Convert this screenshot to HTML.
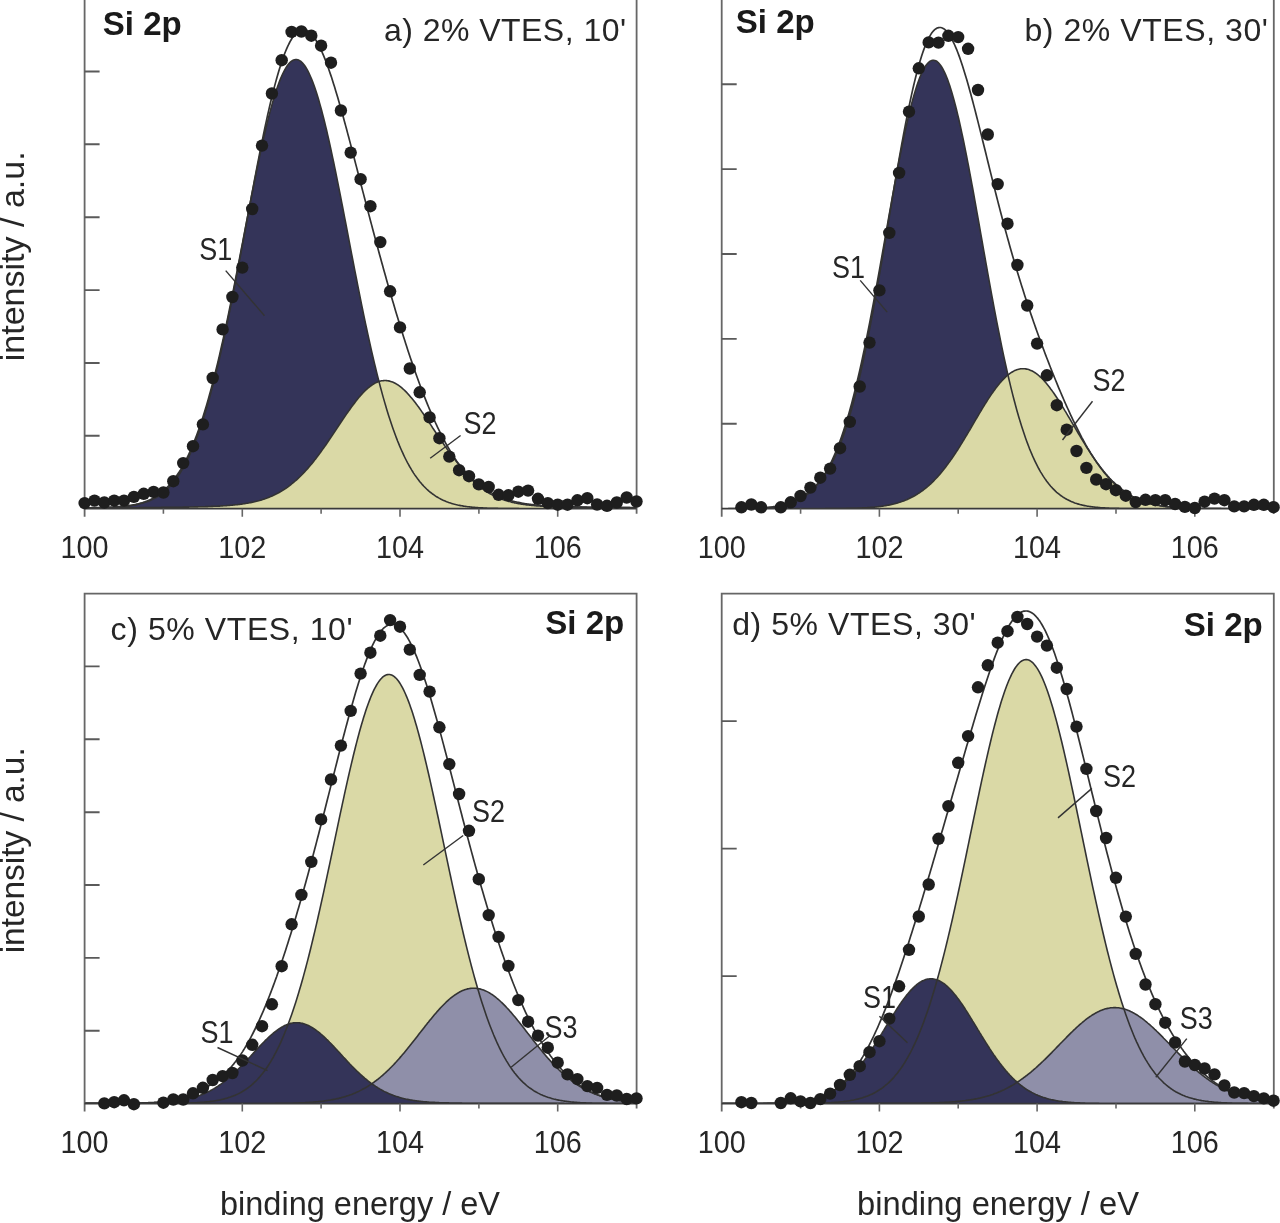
<!DOCTYPE html><html><head><meta charset="utf-8"><style>html,body{margin:0;padding:0;background:#fff;}svg{display:block;will-change:transform;}text{font-family:"Liberation Sans",sans-serif;}</style></head><body>
<div id="w">
<svg width="1280" height="1223" viewBox="0 0 1280 1223">
<rect width="1280" height="1223" fill="#fff"/>
<clipPath id="clipa"><rect x="84.6" y="-1.2" width="552" height="509.9"/></clipPath>
<g clip-path="url(#clipa)">
<path d="M84.6 508.7 L84.6 508.6 85.6 508.6 86.6 508.6 87.6 508.5 88.6 508.5 89.6 508.5 90.6 508.5 91.6 508.5 92.6 508.5 93.6 508.5 94.6 508.4 95.6 508.4 96.6 508.4 97.6 508.4 98.6 508.3 99.6 508.3 100.6 508.3 101.6 508.3 102.6 508.2 103.6 508.2 104.6 508.2 105.6 508.1 106.6 508.1 107.6 508 108.6 508 109.6 507.9 110.6 507.9 111.6 507.8 112.6 507.8 113.6 507.7 114.6 507.6 115.6 507.5 116.6 507.5 117.6 507.4 118.6 507.3 119.6 507.2 120.6 507.1 121.6 507 122.6 506.9 123.6 506.8 124.6 506.6 125.6 506.5 126.6 506.4 127.6 506.2 128.6 506.1 129.6 505.9 130.6 505.7 131.6 505.5 132.6 505.3 133.6 505.1 134.6 504.9 135.6 504.7 136.6 504.4 137.6 504.2 138.6 503.9 139.6 503.6 140.6 503.3 141.6 503 142.6 502.7 143.6 502.3 144.6 502 145.6 501.6 146.6 501.2 147.6 500.8 148.6 500.3 149.6 499.9 150.6 499.4 151.6 498.9 152.6 498.3 153.6 497.8 154.6 497.2 155.6 496.6 156.6 495.9 157.6 495.3 158.6 494.6 159.6 493.9 160.6 493.1 161.6 492.3 162.6 491.5 163.6 490.6 164.6 489.7 165.6 488.8 166.6 487.8 167.6 486.8 168.6 485.8 169.6 484.7 170.6 483.5 171.6 482.4 172.6 481.1 173.6 479.9 174.6 478.5 175.6 477.2 176.6 475.8 177.6 474.3 178.6 472.8 179.6 471.2 180.6 469.6 181.6 467.9 182.6 466.1 183.6 464.3 184.6 462.5 185.6 460.6 186.6 458.6 187.6 456.6 188.6 454.5 189.6 452.3 190.6 450.1 191.6 447.8 192.6 445.4 193.6 443 194.6 440.5 195.6 437.9 196.6 435.2 197.6 432.5 198.6 429.7 199.6 426.9 200.6 424 201.6 421 202.6 417.9 203.6 414.7 204.6 411.5 205.6 408.2 206.6 404.9 207.6 401.4 208.6 397.9 209.6 394.3 210.6 390.7 211.6 386.9 212.6 383.1 213.6 379.3 214.6 375.3 215.6 371.3 216.6 367.2 217.6 363.1 218.6 358.9 219.6 354.6 220.6 350.2 221.6 345.8 222.6 341.3 223.6 336.8 224.6 332.2 225.6 327.6 226.6 322.9 227.6 318.1 228.6 313.3 229.6 308.5 230.6 303.6 231.6 298.6 232.6 293.7 233.6 288.6 234.6 283.6 235.6 278.5 236.6 273.4 237.6 268.3 238.6 263.1 239.6 257.9 240.6 252.7 241.6 247.5 242.6 242.3 243.6 237.1 244.6 231.9 245.6 226.7 246.6 221.5 247.6 216.3 248.6 211.1 249.6 205.9 250.6 200.8 251.6 195.7 252.6 190.6 253.6 185.6 254.6 180.6 255.6 175.6 256.6 170.7 257.6 165.9 258.6 161.1 259.6 156.3 260.6 151.7 261.6 147.1 262.6 142.6 263.6 138.1 264.6 133.8 265.6 129.5 266.6 125.3 267.6 121.2 268.6 117.2 269.6 113.4 270.6 109.6 271.6 105.9 272.6 102.4 273.6 99 274.6 95.7 275.6 92.5 276.6 89.4 277.6 86.5 278.6 83.7 279.6 81.1 280.6 78.6 281.6 76.2 282.6 74 283.6 72 284.6 70.1 285.6 68.3 286.6 66.7 287.6 65.3 288.6 64 289.6 62.9 290.6 61.9 291.6 61.1 292.6 60.5 293.6 60 294.6 59.7 295.6 59.5 296.6 59.5 297.6 59.7 298.6 60.1 299.6 60.6 300.6 61.2 301.6 62.1 302.6 63.1 303.6 64.2 304.6 65.5 305.6 67 306.6 68.7 307.6 70.4 308.6 72.4 309.6 74.5 310.6 76.7 311.6 79.1 312.6 81.6 313.6 84.3 314.6 87.1 315.6 90 316.6 93.1 317.6 96.3 318.6 99.6 319.6 103.1 320.6 106.7 321.6 110.3 322.6 114.1 323.6 118 324.6 122 325.6 126.1 326.6 130.3 327.6 134.6 328.6 139 329.6 143.5 330.6 148 331.6 152.6 332.6 157.3 333.6 162 334.6 166.8 335.6 171.7 336.6 176.6 337.6 181.6 338.6 186.6 339.6 191.6 340.6 196.7 341.6 201.8 342.6 207 343.6 212.1 344.6 217.3 345.6 222.5 346.6 227.7 347.6 232.9 348.6 238.2 349.6 243.4 350.6 248.6 351.6 253.8 352.6 259 353.6 264.1 354.6 269.3 355.6 274.4 356.6 279.5 357.6 284.6 358.6 289.6 359.6 294.7 360.6 299.6 361.6 304.6 362.6 309.4 363.6 314.3 364.6 319.1 365.6 323.8 366.6 328.5 367.6 333.1 368.6 337.7 369.6 342.2 370.6 346.7 371.6 351.1 372.6 355.4 373.6 359.7 374.6 363.9 375.6 368 376.6 372.1 377.6 376.1 378.6 380 379.6 383.9 380.6 387.7 381.6 391.4 382.6 395.1 383.6 398.6 384.6 402.1 385.6 405.5 386.6 408.9 387.6 412.2 388.6 415.4 389.6 418.5 390.6 421.6 391.6 424.6 392.6 427.5 393.6 430.3 394.6 433.1 395.6 435.8 396.6 438.4 397.6 441 398.6 443.4 399.6 445.9 400.6 448.2 401.6 450.5 402.6 452.7 403.6 454.9 404.6 457 405.6 459 406.6 461 407.6 462.9 408.6 464.7 409.6 466.5 410.6 468.2 411.6 469.9 412.6 471.5 413.6 473.1 414.6 474.6 415.6 476 416.6 477.4 417.6 478.8 418.6 480.1 419.6 481.4 420.6 482.6 421.6 483.8 422.6 484.9 423.6 486 424.6 487 425.6 488 426.6 489 427.6 489.9 428.6 490.8 429.6 491.6 430.6 492.5 431.6 493.2 432.6 494 433.6 494.7 434.6 495.4 435.6 496.1 436.6 496.7 437.6 497.3 438.6 497.9 439.6 498.4 440.6 499 441.6 499.5 442.6 500 443.6 500.4 444.6 500.8 445.6 501.3 446.6 501.7 447.6 502 448.6 502.4 449.6 502.7 450.6 503.1 451.6 503.4 452.6 503.7 453.6 504 454.6 504.2 455.6 504.5 456.6 504.7 457.6 505 458.6 505.2 459.6 505.4 460.6 505.6 461.6 505.8 462.6 505.9 463.6 506.1 464.6 506.2 465.6 506.4 466.6 506.5 467.6 506.7 468.6 506.8 469.6 506.9 470.6 507 471.6 507.1 472.6 507.2 473.6 507.3 474.6 507.4 475.6 507.5 476.6 507.6 477.6 507.6 478.6 507.7 479.6 507.8 480.6 507.8 481.6 507.9 482.6 507.9 483.6 508 484.6 508 485.6 508.1 486.6 508.1 487.6 508.2 488.6 508.2 489.6 508.2 490.6 508.3 491.6 508.3 492.6 508.3 493.6 508.3 494.6 508.4 495.6 508.4 496.6 508.4 497.6 508.4 498.6 508.5 499.6 508.5 500.6 508.5 501.6 508.5 502.6 508.5 503.6 508.5 504.6 508.5 505.6 508.6 506.6 508.6 507.6 508.6 508.6 508.6 509.6 508.6 510.6 508.6 511.6 508.6 512.6 508.6 513.6 508.6 514.6 508.6 515.6 508.6 516.6 508.6 517.6 508.6 518.6 508.6 519.6 508.7 520.6 508.7 521.6 508.7 522.6 508.7 523.6 508.7 524.6 508.7 525.6 508.7 526.6 508.7 527.6 508.7 528.6 508.7 529.6 508.7 530.6 508.7 531.6 508.7 532.6 508.7 533.6 508.7 534.6 508.7 535.6 508.7 536.6 508.7 537.6 508.7 538.6 508.7 539.6 508.7 540.6 508.7 541.6 508.7 542.6 508.7 543.6 508.7 544.6 508.7 545.6 508.7 546.6 508.7 547.6 508.7 548.6 508.7 549.6 508.7 550.6 508.7 551.6 508.7 552.6 508.7 553.6 508.7 554.6 508.7 555.6 508.7 556.6 508.7 557.6 508.7 558.6 508.7 559.6 508.7 560.6 508.7 561.6 508.7 562.6 508.7 563.6 508.7 564.6 508.7 565.6 508.7 566.6 508.7 567.6 508.7 568.6 508.7 569.6 508.7 570.6 508.7 571.6 508.7 572.6 508.7 573.6 508.7 574.6 508.7 575.6 508.7 576.6 508.7 577.6 508.7 578.6 508.7 579.6 508.7 580.6 508.7 581.6 508.7 582.6 508.7 583.6 508.7 584.6 508.7 585.6 508.7 586.6 508.7 587.6 508.7 588.6 508.7 589.6 508.7 590.6 508.7 591.6 508.7 592.6 508.7 593.6 508.7 594.6 508.7 595.6 508.7 596.6 508.7 597.6 508.7 598.6 508.7 599.6 508.7 600.6 508.7 601.6 508.7 602.6 508.7 603.6 508.7 604.6 508.7 605.6 508.7 606.6 508.7 607.6 508.7 608.6 508.7 609.6 508.7 610.6 508.7 611.6 508.7 612.6 508.7 613.6 508.7 614.6 508.7 615.6 508.7 616.6 508.7 617.6 508.7 618.6 508.7 619.6 508.7 620.6 508.7 621.6 508.7 622.6 508.7 623.6 508.7 624.6 508.7 625.6 508.7 626.6 508.7 627.6 508.7 628.6 508.7 629.6 508.7 630.6 508.7 631.6 508.7 632.6 508.7 633.6 508.7 634.6 508.7 635.6 508.7 636.6 508.7 L636.6 508.7 Z" fill="#343459"/>
<path d="M84.6 508.7 L84.6 508 85.6 508 86.6 508 87.6 508 88.6 508 89.6 508 90.6 508 91.6 508 92.6 507.9 93.6 507.9 94.6 507.9 95.6 507.9 96.6 507.9 97.6 507.9 98.6 507.9 99.6 507.9 100.6 507.9 101.6 507.9 102.6 507.9 103.6 507.9 104.6 507.9 105.6 507.9 106.6 507.9 107.6 507.9 108.6 507.9 109.6 507.9 110.6 507.9 111.6 507.8 112.6 507.8 113.6 507.8 114.6 507.8 115.6 507.8 116.6 507.8 117.6 507.8 118.6 507.8 119.6 507.8 120.6 507.8 121.6 507.8 122.6 507.8 123.6 507.8 124.6 507.8 125.6 507.8 126.6 507.7 127.6 507.7 128.6 507.7 129.6 507.7 130.6 507.7 131.6 507.7 132.6 507.7 133.6 507.7 134.6 507.7 135.6 507.7 136.6 507.7 137.6 507.7 138.6 507.7 139.6 507.6 140.6 507.6 141.6 507.6 142.6 507.6 143.6 507.6 144.6 507.6 145.6 507.6 146.6 507.6 147.6 507.6 148.6 507.6 149.6 507.6 150.6 507.6 151.6 507.5 152.6 507.5 153.6 507.5 154.6 507.5 155.6 507.5 156.6 507.5 157.6 507.5 158.6 507.5 159.6 507.5 160.6 507.5 161.6 507.4 162.6 507.4 163.6 507.4 164.6 507.4 165.6 507.4 166.6 507.4 167.6 507.4 168.6 507.4 169.6 507.3 170.6 507.3 171.6 507.3 172.6 507.3 173.6 507.3 174.6 507.3 175.6 507.3 176.6 507.3 177.6 507.2 178.6 507.2 179.6 507.2 180.6 507.2 181.6 507.2 182.6 507.2 183.6 507.1 184.6 507.1 185.6 507.1 186.6 507.1 187.6 507.1 188.6 507.1 189.6 507 190.6 507 191.6 507 192.6 507 193.6 507 194.6 506.9 195.6 506.9 196.6 506.9 197.6 506.9 198.6 506.8 199.6 506.8 200.6 506.8 201.6 506.8 202.6 506.7 203.6 506.7 204.6 506.7 205.6 506.6 206.6 506.6 207.6 506.6 208.6 506.5 209.6 506.5 210.6 506.5 211.6 506.4 212.6 506.4 213.6 506.3 214.6 506.3 215.6 506.3 216.6 506.2 217.6 506.2 218.6 506.1 219.6 506.1 220.6 506 221.6 505.9 222.6 505.9 223.6 505.8 224.6 505.8 225.6 505.7 226.6 505.6 227.6 505.5 228.6 505.5 229.6 505.4 230.6 505.3 231.6 505.2 232.6 505.1 233.6 505 234.6 504.9 235.6 504.8 236.6 504.7 237.6 504.6 238.6 504.5 239.6 504.4 240.6 504.2 241.6 504.1 242.6 504 243.6 503.8 244.6 503.7 245.6 503.5 246.6 503.3 247.6 503.2 248.6 503 249.6 502.8 250.6 502.6 251.6 502.4 252.6 502.2 253.6 502 254.6 501.7 255.6 501.5 256.6 501.3 257.6 501 258.6 500.7 259.6 500.5 260.6 500.2 261.6 499.9 262.6 499.6 263.6 499.2 264.6 498.9 265.6 498.6 266.6 498.2 267.6 497.8 268.6 497.4 269.6 497 270.6 496.6 271.6 496.2 272.6 495.7 273.6 495.3 274.6 494.8 275.6 494.3 276.6 493.8 277.6 493.3 278.6 492.7 279.6 492.2 280.6 491.6 281.6 491 282.6 490.4 283.6 489.8 284.6 489.1 285.6 488.5 286.6 487.8 287.6 487.1 288.6 486.3 289.6 485.6 290.6 484.8 291.6 484 292.6 483.2 293.6 482.4 294.6 481.5 295.6 480.7 296.6 479.8 297.6 478.9 298.6 477.9 299.6 477 300.6 476 301.6 475 302.6 474 303.6 472.9 304.6 471.9 305.6 470.8 306.6 469.7 307.6 468.6 308.6 467.4 309.6 466.3 310.6 465.1 311.6 463.9 312.6 462.7 313.6 461.4 314.6 460.1 315.6 458.9 316.6 457.6 317.6 456.3 318.6 454.9 319.6 453.6 320.6 452.2 321.6 450.8 322.6 449.4 323.6 448 324.6 446.6 325.6 445.2 326.6 443.7 327.6 442.3 328.6 440.8 329.6 439.3 330.6 437.9 331.6 436.4 332.6 434.9 333.6 433.4 334.6 431.9 335.6 430.4 336.6 428.9 337.6 427.3 338.6 425.8 339.6 424.3 340.6 422.8 341.6 421.3 342.6 419.8 343.6 418.4 344.6 416.9 345.6 415.4 346.6 413.9 347.6 412.5 348.6 411.1 349.6 409.7 350.6 408.3 351.6 406.9 352.6 405.5 353.6 404.2 354.6 402.9 355.6 401.6 356.6 400.3 357.6 399 358.6 397.8 359.6 396.6 360.6 395.5 361.6 394.4 362.6 393.3 363.6 392.2 364.6 391.2 365.6 390.2 366.6 389.3 367.6 388.4 368.6 387.6 369.6 386.8 370.6 386 371.6 385.3 372.6 384.6 373.6 384 374.6 383.4 375.6 382.9 376.6 382.4 377.6 382 378.6 381.6 379.6 381.3 380.6 381 381.6 380.8 382.6 380.7 383.6 380.6 384.6 380.5 385.6 380.5 386.6 380.6 387.6 380.7 388.6 380.9 389.6 381.1 390.6 381.4 391.6 381.7 392.6 382.1 393.6 382.5 394.6 383 395.6 383.5 396.6 384.1 397.6 384.7 398.6 385.4 399.6 386.1 400.6 386.9 401.6 387.7 402.6 388.6 403.6 389.5 404.6 390.4 405.6 391.4 406.6 392.4 407.6 393.5 408.6 394.6 409.6 395.7 410.6 396.9 411.6 398.1 412.6 399.3 413.6 400.5 414.6 401.8 415.6 403.1 416.6 404.4 417.6 405.8 418.6 407.1 419.6 408.5 420.6 409.9 421.6 411.4 422.6 412.8 423.6 414.2 424.6 415.7 425.6 417.2 426.6 418.6 427.6 420.1 428.6 421.6 429.6 423.1 430.6 424.6 431.6 426.1 432.6 427.7 433.6 429.2 434.6 430.7 435.6 432.2 436.6 433.7 437.6 435.2 438.6 436.7 439.6 438.2 440.6 439.6 441.6 441.1 442.6 442.6 443.6 444 444.6 445.5 445.6 446.9 446.6 448.3 447.6 449.7 448.6 451.1 449.6 452.5 450.6 453.8 451.6 455.2 452.6 456.5 453.6 457.8 454.6 459.1 455.6 460.4 456.6 461.7 457.6 462.9 458.6 464.1 459.6 465.3 460.6 466.5 461.6 467.7 462.6 468.8 463.6 469.9 464.6 471 465.6 472.1 466.6 473.2 467.6 474.2 468.6 475.2 469.6 476.2 470.6 477.2 471.6 478.1 472.6 479.1 473.6 480 474.6 480.9 475.6 481.7 476.6 482.6 477.6 483.4 478.6 484.2 479.6 485 480.6 485.7 481.6 486.5 482.6 487.2 483.6 487.9 484.6 488.6 485.6 489.3 486.6 489.9 487.6 490.5 488.6 491.1 489.6 491.7 490.6 492.3 491.6 492.9 492.6 493.4 493.6 493.9 494.6 494.4 495.6 494.9 496.6 495.4 497.6 495.8 498.6 496.3 499.6 496.7 500.6 497.1 501.6 497.5 502.6 497.9 503.6 498.3 504.6 498.6 505.6 499 506.6 499.3 507.6 499.6 508.6 499.9 509.6 500.2 510.6 500.5 511.6 500.8 512.6 501.1 513.6 501.3 514.6 501.6 515.6 501.8 516.6 502 517.6 502.2 518.6 502.4 519.6 502.6 520.6 502.8 521.6 503 522.6 503.2 523.6 503.4 524.6 503.5 525.6 503.7 526.6 503.8 527.6 504 528.6 504.1 529.6 504.3 530.6 504.4 531.6 504.5 532.6 504.6 533.6 504.7 534.6 504.8 535.6 505 536.6 505 537.6 505.1 538.6 505.2 539.6 505.3 540.6 505.4 541.6 505.5 542.6 505.6 543.6 505.6 544.6 505.7 545.6 505.8 546.6 505.8 547.6 505.9 548.6 506 549.6 506 550.6 506.1 551.6 506.1 552.6 506.2 553.6 506.2 554.6 506.3 555.6 506.3 556.6 506.4 557.6 506.4 558.6 506.4 559.6 506.5 560.6 506.5 561.6 506.6 562.6 506.6 563.6 506.6 564.6 506.6 565.6 506.7 566.6 506.7 567.6 506.7 568.6 506.8 569.6 506.8 570.6 506.8 571.6 506.8 572.6 506.9 573.6 506.9 574.6 506.9 575.6 506.9 576.6 507 577.6 507 578.6 507 579.6 507 580.6 507 581.6 507.1 582.6 507.1 583.6 507.1 584.6 507.1 585.6 507.1 586.6 507.1 587.6 507.2 588.6 507.2 589.6 507.2 590.6 507.2 591.6 507.2 592.6 507.2 593.6 507.3 594.6 507.3 595.6 507.3 596.6 507.3 597.6 507.3 598.6 507.3 599.6 507.3 600.6 507.3 601.6 507.4 602.6 507.4 603.6 507.4 604.6 507.4 605.6 507.4 606.6 507.4 607.6 507.4 608.6 507.4 609.6 507.5 610.6 507.5 611.6 507.5 612.6 507.5 613.6 507.5 614.6 507.5 615.6 507.5 616.6 507.5 617.6 507.5 618.6 507.5 619.6 507.6 620.6 507.6 621.6 507.6 622.6 507.6 623.6 507.6 624.6 507.6 625.6 507.6 626.6 507.6 627.6 507.6 628.6 507.6 629.6 507.6 630.6 507.7 631.6 507.7 632.6 507.7 633.6 507.7 634.6 507.7 635.6 507.7 636.6 507.7 L636.6 508.7 Z" fill="#dad9a6"/>
<path d="M84.6 508.6 L85.6 508.6 L86.6 508.6 L87.6 508.5 L88.6 508.5 L89.6 508.5 L90.6 508.5 L91.6 508.5 L92.6 508.5 L93.6 508.5 L94.6 508.4 L95.6 508.4 L96.6 508.4 L97.6 508.4 L98.6 508.3 L99.6 508.3 L100.6 508.3 L101.6 508.3 L102.6 508.2 L103.6 508.2 L104.6 508.2 L105.6 508.1 L106.6 508.1 L107.6 508 L108.6 508 L109.6 507.9 L110.6 507.9 L111.6 507.8 L112.6 507.8 L113.6 507.7 L114.6 507.6 L115.6 507.5 L116.6 507.5 L117.6 507.4 L118.6 507.3 L119.6 507.2 L120.6 507.1 L121.6 507 L122.6 506.9 L123.6 506.8 L124.6 506.6 L125.6 506.5 L126.6 506.4 L127.6 506.2 L128.6 506.1 L129.6 505.9 L130.6 505.7 L131.6 505.5 L132.6 505.3 L133.6 505.1 L134.6 504.9 L135.6 504.7 L136.6 504.4 L137.6 504.2 L138.6 503.9 L139.6 503.6 L140.6 503.3 L141.6 503 L142.6 502.7 L143.6 502.3 L144.6 502 L145.6 501.6 L146.6 501.2 L147.6 500.8 L148.6 500.3 L149.6 499.9 L150.6 499.4 L151.6 498.9 L152.6 498.3 L153.6 497.8 L154.6 497.2 L155.6 496.6 L156.6 495.9 L157.6 495.3 L158.6 494.6 L159.6 493.9 L160.6 493.1 L161.6 492.3 L162.6 491.5 L163.6 490.6 L164.6 489.7 L165.6 488.8 L166.6 487.8 L167.6 486.8 L168.6 485.8 L169.6 484.7 L170.6 483.5 L171.6 482.4 L172.6 481.1 L173.6 479.9 L174.6 478.5 L175.6 477.2 L176.6 475.8 L177.6 474.3 L178.6 472.8 L179.6 471.2 L180.6 469.6 L181.6 467.9 L182.6 466.1 L183.6 464.3 L184.6 462.5 L185.6 460.6 L186.6 458.6 L187.6 456.6 L188.6 454.5 L189.6 452.3 L190.6 450.1 L191.6 447.8 L192.6 445.4 L193.6 443 L194.6 440.5 L195.6 437.9 L196.6 435.2 L197.6 432.5 L198.6 429.7 L199.6 426.9 L200.6 424 L201.6 421 L202.6 417.9 L203.6 414.7 L204.6 411.5 L205.6 408.2 L206.6 404.9 L207.6 401.4 L208.6 397.9 L209.6 394.3 L210.6 390.7 L211.6 386.9 L212.6 383.1 L213.6 379.3 L214.6 375.3 L215.6 371.3 L216.6 367.2 L217.6 363.1 L218.6 358.9 L219.6 354.6 L220.6 350.2 L221.6 345.8 L222.6 341.3 L223.6 336.8 L224.6 332.2 L225.6 327.6 L226.6 322.9 L227.6 318.1 L228.6 313.3 L229.6 308.5 L230.6 303.6 L231.6 298.6 L232.6 293.7 L233.6 288.6 L234.6 283.6 L235.6 278.5 L236.6 273.4 L237.6 268.3 L238.6 263.1 L239.6 257.9 L240.6 252.7 L241.6 247.5 L242.6 242.3 L243.6 237.1 L244.6 231.9 L245.6 226.7 L246.6 221.5 L247.6 216.3 L248.6 211.1 L249.6 205.9 L250.6 200.8 L251.6 195.7 L252.6 190.6 L253.6 185.6 L254.6 180.6 L255.6 175.6 L256.6 170.7 L257.6 165.9 L258.6 161.1 L259.6 156.3 L260.6 151.7 L261.6 147.1 L262.6 142.6 L263.6 138.1 L264.6 133.8 L265.6 129.5 L266.6 125.3 L267.6 121.2 L268.6 117.2 L269.6 113.4 L270.6 109.6 L271.6 105.9 L272.6 102.4 L273.6 99 L274.6 95.7 L275.6 92.5 L276.6 89.4 L277.6 86.5 L278.6 83.7 L279.6 81.1 L280.6 78.6 L281.6 76.2 L282.6 74 L283.6 72 L284.6 70.1 L285.6 68.3 L286.6 66.7 L287.6 65.3 L288.6 64 L289.6 62.9 L290.6 61.9 L291.6 61.1 L292.6 60.5 L293.6 60 L294.6 59.7 L295.6 59.5 L296.6 59.5 L297.6 59.7 L298.6 60.1 L299.6 60.6 L300.6 61.2 L301.6 62.1 L302.6 63.1 L303.6 64.2 L304.6 65.5 L305.6 67 L306.6 68.7 L307.6 70.4 L308.6 72.4 L309.6 74.5 L310.6 76.7 L311.6 79.1 L312.6 81.6 L313.6 84.3 L314.6 87.1 L315.6 90 L316.6 93.1 L317.6 96.3 L318.6 99.6 L319.6 103.1 L320.6 106.7 L321.6 110.3 L322.6 114.1 L323.6 118 L324.6 122 L325.6 126.1 L326.6 130.3 L327.6 134.6 L328.6 139 L329.6 143.5 L330.6 148 L331.6 152.6 L332.6 157.3 L333.6 162 L334.6 166.8 L335.6 171.7 L336.6 176.6 L337.6 181.6 L338.6 186.6 L339.6 191.6 L340.6 196.7 L341.6 201.8 L342.6 207 L343.6 212.1 L344.6 217.3 L345.6 222.5 L346.6 227.7 L347.6 232.9 L348.6 238.2 L349.6 243.4 L350.6 248.6 L351.6 253.8 L352.6 259 L353.6 264.1 L354.6 269.3 L355.6 274.4 L356.6 279.5 L357.6 284.6 L358.6 289.6 L359.6 294.7 L360.6 299.6 L361.6 304.6 L362.6 309.4 L363.6 314.3 L364.6 319.1 L365.6 323.8 L366.6 328.5 L367.6 333.1 L368.6 337.7 L369.6 342.2 L370.6 346.7 L371.6 351.1 L372.6 355.4 L373.6 359.7 L374.6 363.9 L375.6 368 L376.6 372.1 L377.6 376.1 L378.6 380 L379.6 383.9 L380.6 387.7 L381.6 391.4 L382.6 395.1 L383.6 398.6 L384.6 402.1 L385.6 405.5 L386.6 408.9 L387.6 412.2 L388.6 415.4 L389.6 418.5 L390.6 421.6 L391.6 424.6 L392.6 427.5 L393.6 430.3 L394.6 433.1 L395.6 435.8 L396.6 438.4 L397.6 441 L398.6 443.4 L399.6 445.9 L400.6 448.2 L401.6 450.5 L402.6 452.7 L403.6 454.9 L404.6 457 L405.6 459 L406.6 461 L407.6 462.9 L408.6 464.7 L409.6 466.5 L410.6 468.2 L411.6 469.9 L412.6 471.5 L413.6 473.1 L414.6 474.6 L415.6 476 L416.6 477.4 L417.6 478.8 L418.6 480.1 L419.6 481.4 L420.6 482.6 L421.6 483.8 L422.6 484.9 L423.6 486 L424.6 487 L425.6 488 L426.6 489 L427.6 489.9 L428.6 490.8 L429.6 491.6 L430.6 492.5 L431.6 493.2 L432.6 494 L433.6 494.7 L434.6 495.4 L435.6 496.1 L436.6 496.7 L437.6 497.3 L438.6 497.9 L439.6 498.4 L440.6 499 L441.6 499.5 L442.6 500 L443.6 500.4 L444.6 500.8 L445.6 501.3 L446.6 501.7 L447.6 502 L448.6 502.4 L449.6 502.7 L450.6 503.1 L451.6 503.4 L452.6 503.7 L453.6 504 L454.6 504.2 L455.6 504.5 L456.6 504.7 L457.6 505 L458.6 505.2 L459.6 505.4 L460.6 505.6 L461.6 505.8 L462.6 505.9 L463.6 506.1 L464.6 506.2 L465.6 506.4 L466.6 506.5 L467.6 506.7 L468.6 506.8 L469.6 506.9 L470.6 507 L471.6 507.1 L472.6 507.2 L473.6 507.3 L474.6 507.4 L475.6 507.5 L476.6 507.6 L477.6 507.6 L478.6 507.7 L479.6 507.8 L480.6 507.8 L481.6 507.9 L482.6 507.9 L483.6 508 L484.6 508 L485.6 508.1 L486.6 508.1 L487.6 508.2 L488.6 508.2 L489.6 508.2 L490.6 508.3 L491.6 508.3 L492.6 508.3 L493.6 508.3 L494.6 508.4 L495.6 508.4 L496.6 508.4 L497.6 508.4 L498.6 508.5 L499.6 508.5 L500.6 508.5 L501.6 508.5 L502.6 508.5 L503.6 508.5 L504.6 508.5 L505.6 508.6 L506.6 508.6 L507.6 508.6 L508.6 508.6 L509.6 508.6 L510.6 508.6 L511.6 508.6 L512.6 508.6 L513.6 508.6 L514.6 508.6 L515.6 508.6 L516.6 508.6 L517.6 508.6 L518.6 508.6 L519.6 508.7 L520.6 508.7 L521.6 508.7 L522.6 508.7 L523.6 508.7 L524.6 508.7 L525.6 508.7 L526.6 508.7 L527.6 508.7 L528.6 508.7 L529.6 508.7 L530.6 508.7 L531.6 508.7 L532.6 508.7 L533.6 508.7 L534.6 508.7 L535.6 508.7 L536.6 508.7 L537.6 508.7 L538.6 508.7 L539.6 508.7 L540.6 508.7 L541.6 508.7 L542.6 508.7 L543.6 508.7 L544.6 508.7 L545.6 508.7 L546.6 508.7 L547.6 508.7 L548.6 508.7 L549.6 508.7 L550.6 508.7 L551.6 508.7 L552.6 508.7 L553.6 508.7 L554.6 508.7 L555.6 508.7 L556.6 508.7 L557.6 508.7 L558.6 508.7 L559.6 508.7 L560.6 508.7 L561.6 508.7 L562.6 508.7 L563.6 508.7 L564.6 508.7 L565.6 508.7 L566.6 508.7 L567.6 508.7 L568.6 508.7 L569.6 508.7 L570.6 508.7 L571.6 508.7 L572.6 508.7 L573.6 508.7 L574.6 508.7 L575.6 508.7 L576.6 508.7 L577.6 508.7 L578.6 508.7 L579.6 508.7 L580.6 508.7 L581.6 508.7 L582.6 508.7 L583.6 508.7 L584.6 508.7 L585.6 508.7 L586.6 508.7 L587.6 508.7 L588.6 508.7 L589.6 508.7 L590.6 508.7 L591.6 508.7 L592.6 508.7 L593.6 508.7 L594.6 508.7 L595.6 508.7 L596.6 508.7 L597.6 508.7 L598.6 508.7 L599.6 508.7 L600.6 508.7 L601.6 508.7 L602.6 508.7 L603.6 508.7 L604.6 508.7 L605.6 508.7 L606.6 508.7 L607.6 508.7 L608.6 508.7 L609.6 508.7 L610.6 508.7 L611.6 508.7 L612.6 508.7 L613.6 508.7 L614.6 508.7 L615.6 508.7 L616.6 508.7 L617.6 508.7 L618.6 508.7 L619.6 508.7 L620.6 508.7 L621.6 508.7 L622.6 508.7 L623.6 508.7 L624.6 508.7 L625.6 508.7 L626.6 508.7 L627.6 508.7 L628.6 508.7 L629.6 508.7 L630.6 508.7 L631.6 508.7 L632.6 508.7 L633.6 508.7 L634.6 508.7 L635.6 508.7 L636.6 508.7" fill="none" stroke="#333333" stroke-width="1.6"/>
<path d="M84.6 508 L85.6 508 L86.6 508 L87.6 508 L88.6 508 L89.6 508 L90.6 508 L91.6 508 L92.6 507.9 L93.6 507.9 L94.6 507.9 L95.6 507.9 L96.6 507.9 L97.6 507.9 L98.6 507.9 L99.6 507.9 L100.6 507.9 L101.6 507.9 L102.6 507.9 L103.6 507.9 L104.6 507.9 L105.6 507.9 L106.6 507.9 L107.6 507.9 L108.6 507.9 L109.6 507.9 L110.6 507.9 L111.6 507.8 L112.6 507.8 L113.6 507.8 L114.6 507.8 L115.6 507.8 L116.6 507.8 L117.6 507.8 L118.6 507.8 L119.6 507.8 L120.6 507.8 L121.6 507.8 L122.6 507.8 L123.6 507.8 L124.6 507.8 L125.6 507.8 L126.6 507.7 L127.6 507.7 L128.6 507.7 L129.6 507.7 L130.6 507.7 L131.6 507.7 L132.6 507.7 L133.6 507.7 L134.6 507.7 L135.6 507.7 L136.6 507.7 L137.6 507.7 L138.6 507.7 L139.6 507.6 L140.6 507.6 L141.6 507.6 L142.6 507.6 L143.6 507.6 L144.6 507.6 L145.6 507.6 L146.6 507.6 L147.6 507.6 L148.6 507.6 L149.6 507.6 L150.6 507.6 L151.6 507.5 L152.6 507.5 L153.6 507.5 L154.6 507.5 L155.6 507.5 L156.6 507.5 L157.6 507.5 L158.6 507.5 L159.6 507.5 L160.6 507.5 L161.6 507.4 L162.6 507.4 L163.6 507.4 L164.6 507.4 L165.6 507.4 L166.6 507.4 L167.6 507.4 L168.6 507.4 L169.6 507.3 L170.6 507.3 L171.6 507.3 L172.6 507.3 L173.6 507.3 L174.6 507.3 L175.6 507.3 L176.6 507.3 L177.6 507.2 L178.6 507.2 L179.6 507.2 L180.6 507.2 L181.6 507.2 L182.6 507.2 L183.6 507.1 L184.6 507.1 L185.6 507.1 L186.6 507.1 L187.6 507.1 L188.6 507.1 L189.6 507 L190.6 507 L191.6 507 L192.6 507 L193.6 507 L194.6 506.9 L195.6 506.9 L196.6 506.9 L197.6 506.9 L198.6 506.8 L199.6 506.8 L200.6 506.8 L201.6 506.8 L202.6 506.7 L203.6 506.7 L204.6 506.7 L205.6 506.6 L206.6 506.6 L207.6 506.6 L208.6 506.5 L209.6 506.5 L210.6 506.5 L211.6 506.4 L212.6 506.4 L213.6 506.3 L214.6 506.3 L215.6 506.3 L216.6 506.2 L217.6 506.2 L218.6 506.1 L219.6 506.1 L220.6 506 L221.6 505.9 L222.6 505.9 L223.6 505.8 L224.6 505.8 L225.6 505.7 L226.6 505.6 L227.6 505.5 L228.6 505.5 L229.6 505.4 L230.6 505.3 L231.6 505.2 L232.6 505.1 L233.6 505 L234.6 504.9 L235.6 504.8 L236.6 504.7 L237.6 504.6 L238.6 504.5 L239.6 504.4 L240.6 504.2 L241.6 504.1 L242.6 504 L243.6 503.8 L244.6 503.7 L245.6 503.5 L246.6 503.3 L247.6 503.2 L248.6 503 L249.6 502.8 L250.6 502.6 L251.6 502.4 L252.6 502.2 L253.6 502 L254.6 501.7 L255.6 501.5 L256.6 501.3 L257.6 501 L258.6 500.7 L259.6 500.5 L260.6 500.2 L261.6 499.9 L262.6 499.6 L263.6 499.2 L264.6 498.9 L265.6 498.6 L266.6 498.2 L267.6 497.8 L268.6 497.4 L269.6 497 L270.6 496.6 L271.6 496.2 L272.6 495.7 L273.6 495.3 L274.6 494.8 L275.6 494.3 L276.6 493.8 L277.6 493.3 L278.6 492.7 L279.6 492.2 L280.6 491.6 L281.6 491 L282.6 490.4 L283.6 489.8 L284.6 489.1 L285.6 488.5 L286.6 487.8 L287.6 487.1 L288.6 486.3 L289.6 485.6 L290.6 484.8 L291.6 484 L292.6 483.2 L293.6 482.4 L294.6 481.5 L295.6 480.7 L296.6 479.8 L297.6 478.9 L298.6 477.9 L299.6 477 L300.6 476 L301.6 475 L302.6 474 L303.6 472.9 L304.6 471.9 L305.6 470.8 L306.6 469.7 L307.6 468.6 L308.6 467.4 L309.6 466.3 L310.6 465.1 L311.6 463.9 L312.6 462.7 L313.6 461.4 L314.6 460.1 L315.6 458.9 L316.6 457.6 L317.6 456.3 L318.6 454.9 L319.6 453.6 L320.6 452.2 L321.6 450.8 L322.6 449.4 L323.6 448 L324.6 446.6 L325.6 445.2 L326.6 443.7 L327.6 442.3 L328.6 440.8 L329.6 439.3 L330.6 437.9 L331.6 436.4 L332.6 434.9 L333.6 433.4 L334.6 431.9 L335.6 430.4 L336.6 428.9 L337.6 427.3 L338.6 425.8 L339.6 424.3 L340.6 422.8 L341.6 421.3 L342.6 419.8 L343.6 418.4 L344.6 416.9 L345.6 415.4 L346.6 413.9 L347.6 412.5 L348.6 411.1 L349.6 409.7 L350.6 408.3 L351.6 406.9 L352.6 405.5 L353.6 404.2 L354.6 402.9 L355.6 401.6 L356.6 400.3 L357.6 399 L358.6 397.8 L359.6 396.6 L360.6 395.5 L361.6 394.4 L362.6 393.3 L363.6 392.2 L364.6 391.2 L365.6 390.2 L366.6 389.3 L367.6 388.4 L368.6 387.6 L369.6 386.8 L370.6 386 L371.6 385.3 L372.6 384.6 L373.6 384 L374.6 383.4 L375.6 382.9 L376.6 382.4 L377.6 382 L378.6 381.6 L379.6 381.3 L380.6 381 L381.6 380.8 L382.6 380.7 L383.6 380.6 L384.6 380.5 L385.6 380.5 L386.6 380.6 L387.6 380.7 L388.6 380.9 L389.6 381.1 L390.6 381.4 L391.6 381.7 L392.6 382.1 L393.6 382.5 L394.6 383 L395.6 383.5 L396.6 384.1 L397.6 384.7 L398.6 385.4 L399.6 386.1 L400.6 386.9 L401.6 387.7 L402.6 388.6 L403.6 389.5 L404.6 390.4 L405.6 391.4 L406.6 392.4 L407.6 393.5 L408.6 394.6 L409.6 395.7 L410.6 396.9 L411.6 398.1 L412.6 399.3 L413.6 400.5 L414.6 401.8 L415.6 403.1 L416.6 404.4 L417.6 405.8 L418.6 407.1 L419.6 408.5 L420.6 409.9 L421.6 411.4 L422.6 412.8 L423.6 414.2 L424.6 415.7 L425.6 417.2 L426.6 418.6 L427.6 420.1 L428.6 421.6 L429.6 423.1 L430.6 424.6 L431.6 426.1 L432.6 427.7 L433.6 429.2 L434.6 430.7 L435.6 432.2 L436.6 433.7 L437.6 435.2 L438.6 436.7 L439.6 438.2 L440.6 439.6 L441.6 441.1 L442.6 442.6 L443.6 444 L444.6 445.5 L445.6 446.9 L446.6 448.3 L447.6 449.7 L448.6 451.1 L449.6 452.5 L450.6 453.8 L451.6 455.2 L452.6 456.5 L453.6 457.8 L454.6 459.1 L455.6 460.4 L456.6 461.7 L457.6 462.9 L458.6 464.1 L459.6 465.3 L460.6 466.5 L461.6 467.7 L462.6 468.8 L463.6 469.9 L464.6 471 L465.6 472.1 L466.6 473.2 L467.6 474.2 L468.6 475.2 L469.6 476.2 L470.6 477.2 L471.6 478.1 L472.6 479.1 L473.6 480 L474.6 480.9 L475.6 481.7 L476.6 482.6 L477.6 483.4 L478.6 484.2 L479.6 485 L480.6 485.7 L481.6 486.5 L482.6 487.2 L483.6 487.9 L484.6 488.6 L485.6 489.3 L486.6 489.9 L487.6 490.5 L488.6 491.1 L489.6 491.7 L490.6 492.3 L491.6 492.9 L492.6 493.4 L493.6 493.9 L494.6 494.4 L495.6 494.9 L496.6 495.4 L497.6 495.8 L498.6 496.3 L499.6 496.7 L500.6 497.1 L501.6 497.5 L502.6 497.9 L503.6 498.3 L504.6 498.6 L505.6 499 L506.6 499.3 L507.6 499.6 L508.6 499.9 L509.6 500.2 L510.6 500.5 L511.6 500.8 L512.6 501.1 L513.6 501.3 L514.6 501.6 L515.6 501.8 L516.6 502 L517.6 502.2 L518.6 502.4 L519.6 502.6 L520.6 502.8 L521.6 503 L522.6 503.2 L523.6 503.4 L524.6 503.5 L525.6 503.7 L526.6 503.8 L527.6 504 L528.6 504.1 L529.6 504.3 L530.6 504.4 L531.6 504.5 L532.6 504.6 L533.6 504.7 L534.6 504.8 L535.6 505 L536.6 505 L537.6 505.1 L538.6 505.2 L539.6 505.3 L540.6 505.4 L541.6 505.5 L542.6 505.6 L543.6 505.6 L544.6 505.7 L545.6 505.8 L546.6 505.8 L547.6 505.9 L548.6 506 L549.6 506 L550.6 506.1 L551.6 506.1 L552.6 506.2 L553.6 506.2 L554.6 506.3 L555.6 506.3 L556.6 506.4 L557.6 506.4 L558.6 506.4 L559.6 506.5 L560.6 506.5 L561.6 506.6 L562.6 506.6 L563.6 506.6 L564.6 506.6 L565.6 506.7 L566.6 506.7 L567.6 506.7 L568.6 506.8 L569.6 506.8 L570.6 506.8 L571.6 506.8 L572.6 506.9 L573.6 506.9 L574.6 506.9 L575.6 506.9 L576.6 507 L577.6 507 L578.6 507 L579.6 507 L580.6 507 L581.6 507.1 L582.6 507.1 L583.6 507.1 L584.6 507.1 L585.6 507.1 L586.6 507.1 L587.6 507.2 L588.6 507.2 L589.6 507.2 L590.6 507.2 L591.6 507.2 L592.6 507.2 L593.6 507.3 L594.6 507.3 L595.6 507.3 L596.6 507.3 L597.6 507.3 L598.6 507.3 L599.6 507.3 L600.6 507.3 L601.6 507.4 L602.6 507.4 L603.6 507.4 L604.6 507.4 L605.6 507.4 L606.6 507.4 L607.6 507.4 L608.6 507.4 L609.6 507.5 L610.6 507.5 L611.6 507.5 L612.6 507.5 L613.6 507.5 L614.6 507.5 L615.6 507.5 L616.6 507.5 L617.6 507.5 L618.6 507.5 L619.6 507.6 L620.6 507.6 L621.6 507.6 L622.6 507.6 L623.6 507.6 L624.6 507.6 L625.6 507.6 L626.6 507.6 L627.6 507.6 L628.6 507.6 L629.6 507.6 L630.6 507.7 L631.6 507.7 L632.6 507.7 L633.6 507.7 L634.6 507.7 L635.6 507.7 L636.6 507.7" fill="none" stroke="#333333" stroke-width="1.6"/>
<path d="M84.6 507.9 L85.6 507.9 L86.6 507.8 L87.6 507.8 L88.6 507.8 L89.6 507.8 L90.6 507.8 L91.6 507.7 L92.6 507.7 L93.6 507.7 L94.6 507.7 L95.6 507.7 L96.6 507.6 L97.6 507.6 L98.6 507.6 L99.6 507.6 L100.6 507.5 L101.6 507.5 L102.6 507.5 L103.6 507.4 L104.6 507.4 L105.6 507.3 L106.6 507.3 L107.6 507.3 L108.6 507.2 L109.6 507.2 L110.6 507.1 L111.6 507.1 L112.6 507 L113.6 506.9 L114.6 506.9 L115.6 506.8 L116.6 506.7 L117.6 506.7 L118.6 506.6 L119.6 506.5 L120.6 506.4 L121.6 506.3 L122.6 506.2 L123.6 506.1 L124.6 506 L125.6 505.9 L126.6 505.8 L127.6 505.7 L128.6 505.6 L129.6 505.4 L130.6 505.3 L131.6 505.2 L132.6 505 L133.6 504.8 L134.6 504.7 L135.6 504.5 L136.6 504.3 L137.6 504.1 L138.6 503.9 L139.6 503.7 L140.6 503.4 L141.6 503.2 L142.6 502.9 L143.6 502.6 L144.6 502.3 L145.6 502 L146.6 501.7 L147.6 501.4 L148.6 501 L149.6 500.6 L150.6 500.2 L151.6 499.8 L152.6 499.3 L153.6 498.8 L154.6 498.3 L155.6 497.8 L156.6 497.3 L157.6 496.7 L158.6 496 L159.6 495.4 L160.6 494.7 L161.6 494 L162.6 493.2 L163.6 492.4 L164.6 491.6 L165.6 490.7 L166.6 489.8 L167.6 488.9 L168.6 487.9 L169.6 486.8 L170.6 485.7 L171.6 484.6 L172.6 483.4 L173.6 482.2 L174.6 480.9 L175.6 479.6 L176.6 478.2 L177.6 476.7 L178.6 475.3 L179.6 473.7 L180.6 472.1 L181.6 470.4 L182.6 468.7 L183.6 466.9 L184.6 465.1 L185.6 463.2 L186.6 461.2 L187.6 459.2 L188.6 457.1 L189.6 454.9 L190.6 452.7 L191.6 450.4 L192.6 448.1 L193.6 445.6 L194.6 443.1 L195.6 440.6 L196.6 438 L197.6 435.3 L198.6 432.5 L199.6 429.7 L200.6 426.7 L201.6 423.8 L202.6 420.7 L203.6 417.6 L204.6 414.4 L205.6 411.1 L206.6 407.8 L207.6 404.3 L208.6 400.8 L209.6 397.3 L210.6 393.6 L211.6 389.9 L212.6 386.1 L213.6 382.3 L214.6 378.3 L215.6 374.3 L216.6 370.3 L217.6 366.1 L218.6 361.9 L219.6 357.6 L220.6 353.3 L221.6 348.9 L222.6 344.4 L223.6 339.8 L224.6 335.2 L225.6 330.5 L226.6 325.8 L227.6 321 L228.6 316.2 L229.6 311.3 L230.6 306.3 L231.6 301.3 L232.6 296.3 L233.6 291.2 L234.6 286.1 L235.6 280.9 L236.6 275.7 L237.6 270.5 L238.6 265.2 L239.6 259.9 L240.6 254.6 L241.6 249.2 L242.6 243.9 L243.6 238.5 L244.6 233.1 L245.6 227.7 L246.6 222.3 L247.6 216.9 L248.6 211.5 L249.6 206.2 L250.6 200.8 L251.6 195.4 L252.6 190.1 L253.6 184.8 L254.6 179.5 L255.6 174.3 L256.6 169.1 L257.6 163.9 L258.6 158.8 L259.6 153.7 L260.6 148.7 L261.6 143.7 L262.6 138.8 L263.6 133.9 L264.6 129.2 L265.6 124.5 L266.6 119.9 L267.6 115.3 L268.6 110.9 L269.6 106.5 L270.6 102.2 L271.6 98 L272.6 94 L273.6 90 L274.6 86.1 L275.6 82.4 L276.6 78.7 L277.6 75.2 L278.6 71.7 L279.6 68.5 L280.6 65.3 L281.6 62.2 L282.6 59.3 L283.6 56.5 L284.6 53.8 L285.6 51.3 L286.6 48.9 L287.6 46.7 L288.6 44.5 L289.6 42.5 L290.6 40.7 L291.6 39 L292.6 37.4 L293.6 36 L294.6 34.7 L295.6 33.6 L296.6 32.6 L297.6 31.7 L298.6 31 L299.6 30.4 L300.6 30 L301.6 29.7 L302.6 29.5 L303.6 29.5 L304.6 29.6 L305.6 29.9 L306.6 30.3 L307.6 30.8 L308.6 31.5 L309.6 32.2 L310.6 33.2 L311.6 34.2 L312.6 35.4 L313.6 36.6 L314.6 38 L315.6 39.6 L316.6 41.2 L317.6 42.9 L318.6 44.8 L319.6 46.8 L320.6 48.8 L321.6 51 L322.6 53.3 L323.6 55.6 L324.6 58.1 L325.6 60.6 L326.6 63.3 L327.6 66 L328.6 68.8 L329.6 71.7 L330.6 74.6 L331.6 77.6 L332.6 80.7 L333.6 83.9 L334.6 87.1 L335.6 90.4 L336.6 93.7 L337.6 97.1 L338.6 100.5 L339.6 104 L340.6 107.5 L341.6 111 L342.6 114.6 L343.6 118.3 L344.6 121.9 L345.6 125.6 L346.6 129.3 L347.6 133.1 L348.6 136.8 L349.6 140.6 L350.6 144.4 L351.6 148.2 L352.6 152 L353.6 155.9 L354.6 159.7 L355.6 163.6 L356.6 167.4 L357.6 171.3 L358.6 175.2 L359.6 179 L360.6 182.9 L361.6 186.7 L362.6 190.6 L363.6 194.4 L364.6 198.3 L365.6 202.1 L366.6 206 L367.6 209.8 L368.6 213.6 L369.6 217.4 L370.6 221.2 L371.6 224.9 L372.6 228.7 L373.6 232.5 L374.6 236.2 L375.6 239.9 L376.6 243.6 L377.6 247.3 L378.6 251 L379.6 254.7 L380.6 258.3 L381.6 262 L382.6 265.6 L383.6 269.2 L384.6 272.7 L385.6 276.3 L386.6 279.9 L387.6 283.4 L388.6 286.9 L389.6 290.4 L390.6 293.8 L391.6 297.3 L392.6 300.7 L393.6 304.1 L394.6 307.5 L395.6 310.9 L396.6 314.2 L397.6 317.5 L398.6 320.8 L399.6 324.1 L400.6 327.4 L401.6 330.6 L402.6 333.8 L403.6 337 L404.6 340.1 L405.6 343.2 L406.6 346.3 L407.6 349.4 L408.6 352.5 L409.6 355.5 L410.6 358.5 L411.6 361.4 L412.6 364.3 L413.6 367.2 L414.6 370.1 L415.6 373 L416.6 375.8 L417.6 378.5 L418.6 381.3 L419.6 384 L420.6 386.7 L421.6 389.4 L422.6 392 L423.6 394.6 L424.6 397.1 L425.6 399.6 L426.6 402.1 L427.6 404.6 L428.6 407 L429.6 409.4 L430.6 411.7 L431.6 414.1 L432.6 416.4 L433.6 418.6 L434.6 420.8 L435.6 423 L436.6 425.2 L437.6 427.3 L438.6 429.4 L439.6 431.4 L440.6 433.4 L441.6 435.4 L442.6 437.3 L443.6 439.3 L444.6 441.1 L445.6 443 L446.6 444.8 L447.6 446.5 L448.6 448.3 L449.6 450 L450.6 451.7 L451.6 453.3 L452.6 454.9 L453.6 456.5 L454.6 458 L455.6 459.5 L456.6 461 L457.6 462.4 L458.6 463.8 L459.6 465.2 L460.6 466.6 L461.6 467.9 L462.6 469.2 L463.6 470.4 L464.6 471.6 L465.6 472.8 L466.6 474 L467.6 475.1 L468.6 476.2 L469.6 477.3 L470.6 478.4 L471.6 479.4 L472.6 480.4 L473.6 481.3 L474.6 482.3 L475.6 483.2 L476.6 484.1 L477.6 484.9 L478.6 485.8 L479.6 486.6 L480.6 487.3 L481.6 488.1 L482.6 488.8 L483.6 489.6 L484.6 490.3 L485.6 490.9 L486.6 491.6 L487.6 492.2 L488.6 492.8 L489.6 493.4 L490.6 494 L491.6 494.5 L492.6 495 L493.6 495.5 L494.6 496 L495.6 496.5 L496.6 497 L497.6 497.4 L498.6 497.8 L499.6 498.2 L500.6 498.6 L501.6 499 L502.6 499.4 L503.6 499.7 L504.6 500.1 L505.6 500.4 L506.6 500.7 L507.6 501 L508.6 501.3 L509.6 501.5 L510.6 501.8 L511.6 502.1 L512.6 502.3 L513.6 502.5 L514.6 502.8 L515.6 503 L516.6 503.2 L517.6 503.4 L518.6 503.6 L519.6 503.7 L520.6 503.9 L521.6 504.1 L522.6 504.2 L523.6 504.4 L524.6 504.5 L525.6 504.6 L526.6 504.8 L527.6 504.9 L528.6 505 L529.6 505.1 L530.6 505.2 L531.6 505.3 L532.6 505.4 L533.6 505.5 L534.6 505.6 L535.6 505.7 L536.6 505.8 L537.6 505.8 L538.6 505.9 L539.6 506 L540.6 506.1 L541.6 506.1 L542.6 506.2 L543.6 506.2 L544.6 506.3 L545.6 506.3 L546.6 506.4 L547.6 506.4 L548.6 506.5 L549.6 506.5 L550.6 506.6 L551.6 506.6 L552.6 506.6 L553.6 506.7 L554.6 506.7 L555.6 506.7 L556.6 506.8 L557.6 506.8 L558.6 506.8 L559.6 506.8 L560.6 506.9 L561.6 506.9 L562.6 506.9 L563.6 506.9 L564.6 507 L565.6 507 L566.6 507 L567.6 507 L568.6 507 L569.6 507.1 L570.6 507.1 L571.6 507.1 L572.6 507.1 L573.6 507.1 L574.6 507.1 L575.6 507.2 L576.6 507.2 L577.6 507.2 L578.6 507.2 L579.6 507.2 L580.6 507.2 L581.6 507.2 L582.6 507.3 L583.6 507.3 L584.6 507.3 L585.6 507.3 L586.6 507.3 L587.6 507.3 L588.6 507.3 L589.6 507.3 L590.6 507.3 L591.6 507.4 L592.6 507.4 L593.6 507.4 L594.6 507.4 L595.6 507.4 L596.6 507.4 L597.6 507.4 L598.6 507.4 L599.6 507.4 L600.6 507.4 L601.6 507.4 L602.6 507.5 L603.6 507.5 L604.6 507.5 L605.6 507.5 L606.6 507.5 L607.6 507.5 L608.6 507.5 L609.6 507.5 L610.6 507.5 L611.6 507.5 L612.6 507.5 L613.6 507.5 L614.6 507.6 L615.6 507.6 L616.6 507.6 L617.6 507.6 L618.6 507.6 L619.6 507.6 L620.6 507.6 L621.6 507.6 L622.6 507.6 L623.6 507.6 L624.6 507.6 L625.6 507.6 L626.6 507.6 L627.6 507.7 L628.6 507.7 L629.6 507.7 L630.6 507.7 L631.6 507.7 L632.6 507.7 L633.6 507.7 L634.6 507.7 L635.6 507.7 L636.6 507.7" fill="none" stroke="#333333" stroke-width="1.7"/>
</g>
<path d="M84.6 516.7 V-1.2 H636.6 V513.7" fill="none" stroke="#666666" stroke-width="1.8"/>
<path d="M84.6 508.7 H636.6" fill="none" stroke="#3a3a3a" stroke-width="1.8"/>
<path d="M84.6 435.8 h15 M84.6 363 h15 M84.6 290.1 h15 M84.6 217.2 h15 M84.6 144.3 h15 M84.6 71.5 h15" stroke="#5a5a5a" stroke-width="1.9"/>
<path d="M163.4 508.7 v5 M242.3 508.7 v8 M321.1 508.7 v5 M400 508.7 v8 M478.9 508.7 v5 M557.7 508.7 v8" stroke="#666666" stroke-width="1.6"/>
<g fill="#1e1e1e"><circle cx="84.6" cy="503.1" r="6.2"/><circle cx="94.5" cy="500.6" r="6.2"/><circle cx="104.3" cy="502.5" r="6.2"/><circle cx="114.2" cy="500.6" r="6.2"/><circle cx="124" cy="500.6" r="6.2"/><circle cx="133.9" cy="496.9" r="6.2"/><circle cx="143.7" cy="493.8" r="6.2"/><circle cx="153.6" cy="491.9" r="6.2"/><circle cx="163.4" cy="492.5" r="6.2"/><circle cx="173.3" cy="481.2" r="6.2"/><circle cx="183.2" cy="463.1" r="6.2"/><circle cx="193" cy="446.2" r="6.2"/><circle cx="202.9" cy="424.4" r="6.2"/><circle cx="212.7" cy="378" r="6.2"/><circle cx="222.6" cy="329.4" r="6.2"/><circle cx="232.4" cy="297" r="6.2"/><circle cx="242.3" cy="267.6" r="6.2"/><circle cx="252.2" cy="209" r="6.2"/><circle cx="262" cy="145.6" r="6.2"/><circle cx="271.9" cy="93.5" r="6.2"/><circle cx="281.7" cy="60.2" r="6.2"/><circle cx="291.6" cy="31.9" r="6.2"/><circle cx="301.4" cy="31.5" r="6.2"/><circle cx="311.3" cy="35.7" r="6.2"/><circle cx="321.1" cy="45.7" r="6.2"/><circle cx="331" cy="62.7" r="6.2"/><circle cx="340.9" cy="110.5" r="6.2"/><circle cx="350.7" cy="152.6" r="6.2"/><circle cx="360.6" cy="179.2" r="6.2"/><circle cx="370.4" cy="206.2" r="6.2"/><circle cx="380.3" cy="242.1" r="6.2"/><circle cx="390.1" cy="291.3" r="6.2"/><circle cx="400" cy="327.4" r="6.2"/><circle cx="409.8" cy="368.5" r="6.2"/><circle cx="419.7" cy="392.3" r="6.2"/><circle cx="429.6" cy="417.4" r="6.2"/><circle cx="439.4" cy="438.2" r="6.2"/><circle cx="449.3" cy="456.6" r="6.2"/><circle cx="459.1" cy="470.2" r="6.2"/><circle cx="469" cy="476.2" r="6.2"/><circle cx="478.8" cy="484.4" r="6.2"/><circle cx="488.7" cy="487" r="6.2"/><circle cx="498.6" cy="494.8" r="6.2"/><circle cx="508.4" cy="495.3" r="6.2"/><circle cx="518.3" cy="491.7" r="6.2"/><circle cx="528.1" cy="490.6" r="6.2"/><circle cx="538" cy="498.8" r="6.2"/><circle cx="547.8" cy="503.1" r="6.2"/><circle cx="557.7" cy="504.7" r="6.2"/><circle cx="567.5" cy="504.7" r="6.2"/><circle cx="577.4" cy="500.3" r="6.2"/><circle cx="587.3" cy="498.2" r="6.2"/><circle cx="597.1" cy="504.5" r="6.2"/><circle cx="607" cy="505.8" r="6.2"/><circle cx="616.8" cy="502.5" r="6.2"/><circle cx="626.7" cy="497.5" r="6.2"/><circle cx="636.5" cy="501.5" r="6.2"/></g>
<text x="84.6" y="558.2" font-size="31" fill="#262626" text-anchor="middle" textLength="48" lengthAdjust="spacingAndGlyphs">100</text>
<text x="242.3" y="558.2" font-size="31" fill="#262626" text-anchor="middle" textLength="48" lengthAdjust="spacingAndGlyphs">102</text>
<text x="400" y="558.2" font-size="31" fill="#262626" text-anchor="middle" textLength="48" lengthAdjust="spacingAndGlyphs">104</text>
<text x="557.7" y="558.2" font-size="31" fill="#262626" text-anchor="middle" textLength="48" lengthAdjust="spacingAndGlyphs">106</text>
<clipPath id="clipb"><rect x="721.7" y="-1.2" width="552.1" height="509.9"/></clipPath>
<g clip-path="url(#clipb)">
<path d="M721.7 508.7 L721.7 508.7 722.7 508.7 723.7 508.7 724.7 508.7 725.7 508.7 726.7 508.7 727.7 508.7 728.7 508.6 729.7 508.6 730.7 508.6 731.7 508.6 732.7 508.6 733.7 508.6 734.7 508.6 735.7 508.6 736.7 508.6 737.7 508.6 738.7 508.6 739.7 508.6 740.7 508.6 741.7 508.5 742.7 508.5 743.7 508.5 744.7 508.5 745.7 508.5 746.7 508.5 747.7 508.4 748.7 508.4 749.7 508.4 750.7 508.4 751.7 508.4 752.7 508.3 753.7 508.3 754.7 508.3 755.7 508.2 756.7 508.2 757.7 508.1 758.7 508.1 759.7 508.1 760.7 508 761.7 508 762.7 507.9 763.7 507.8 764.7 507.8 765.7 507.7 766.7 507.6 767.7 507.5 768.7 507.5 769.7 507.4 770.7 507.3 771.7 507.2 772.7 507 773.7 506.9 774.7 506.8 775.7 506.7 776.7 506.5 777.7 506.4 778.7 506.2 779.7 506 780.7 505.8 781.7 505.6 782.7 505.4 783.7 505.2 784.7 505 785.7 504.7 786.7 504.5 787.7 504.2 788.7 503.9 789.7 503.6 790.7 503.3 791.7 502.9 792.7 502.6 793.7 502.2 794.7 501.8 795.7 501.3 796.7 500.9 797.7 500.4 798.7 499.9 799.7 499.4 800.7 498.8 801.7 498.3 802.7 497.7 803.7 497 804.7 496.3 805.7 495.6 806.7 494.9 807.7 494.1 808.7 493.3 809.7 492.4 810.7 491.5 811.7 490.6 812.7 489.6 813.7 488.6 814.7 487.5 815.7 486.4 816.7 485.3 817.7 484.1 818.7 482.8 819.7 481.5 820.7 480.1 821.7 478.7 822.7 477.2 823.7 475.7 824.7 474.1 825.7 472.4 826.7 470.7 827.7 468.9 828.7 467 829.7 465.1 830.7 463.1 831.7 461 832.7 458.9 833.7 456.7 834.7 454.4 835.7 452 836.7 449.6 837.7 447.1 838.7 444.5 839.7 441.8 840.7 439 841.7 436.2 842.7 433.2 843.7 430.2 844.7 427.1 845.7 424 846.7 420.7 847.7 417.3 848.7 413.9 849.7 410.4 850.7 406.8 851.7 403.1 852.7 399.3 853.7 395.4 854.7 391.4 855.7 387.4 856.7 383.3 857.7 379 858.7 374.7 859.7 370.4 860.7 365.9 861.7 361.4 862.7 356.7 863.7 352 864.7 347.3 865.7 342.4 866.7 337.5 867.7 332.5 868.7 327.5 869.7 322.4 870.7 317.2 871.7 311.9 872.7 306.7 873.7 301.3 874.7 295.9 875.7 290.5 876.7 285 877.7 279.5 878.7 273.9 879.7 268.4 880.7 262.7 881.7 257.1 882.7 251.5 883.7 245.8 884.7 240.1 885.7 234.5 886.7 228.8 887.7 223.2 888.7 217.5 889.7 211.9 890.7 206.3 891.7 200.7 892.7 195.1 893.7 189.6 894.7 184.2 895.7 178.8 896.7 173.4 897.7 168.1 898.7 162.9 899.7 157.7 900.7 152.6 901.7 147.6 902.7 142.7 903.7 137.9 904.7 133.2 905.7 128.6 906.7 124.1 907.7 119.7 908.7 115.4 909.7 111.3 910.7 107.3 911.7 103.4 912.7 99.7 913.7 96.1 914.7 92.7 915.7 89.4 916.7 86.2 917.7 83.3 918.7 80.5 919.7 77.9 920.7 75.4 921.7 73.1 922.7 71 923.7 69.1 924.7 67.3 925.7 65.8 926.7 64.4 927.7 63.2 928.7 62.3 929.7 61.5 930.7 60.9 931.7 60.4 932.7 60.2 933.7 60.2 934.7 60.4 935.7 60.8 936.7 61.3 937.7 62.1 938.7 63 939.7 64.2 940.7 65.5 941.7 67 942.7 68.7 943.7 70.6 944.7 72.7 945.7 74.9 946.7 77.3 947.7 79.9 948.7 82.7 949.7 85.6 950.7 88.7 951.7 92 952.7 95.4 953.7 99 954.7 102.7 955.7 106.5 956.7 110.5 957.7 114.6 958.7 118.8 959.7 123.2 960.7 127.7 961.7 132.3 962.7 136.9 963.7 141.7 964.7 146.6 965.7 151.6 966.7 156.7 967.7 161.8 968.7 167 969.7 172.3 970.7 177.7 971.7 183.1 972.7 188.5 973.7 194 974.7 199.6 975.7 205.1 976.7 210.8 977.7 216.4 978.7 222 979.7 227.7 980.7 233.3 981.7 239 982.7 244.7 983.7 250.3 984.7 256 985.7 261.6 986.7 267.2 987.7 272.8 988.7 278.4 989.7 283.9 990.7 289.4 991.7 294.8 992.7 300.2 993.7 305.6 994.7 310.9 995.7 316.1 996.7 321.3 997.7 326.5 998.7 331.5 999.7 336.5 1000.7 341.4 1001.7 346.3 1002.7 351.1 1003.7 355.8 1004.7 360.4 1005.7 365 1006.7 369.5 1007.7 373.9 1008.7 378.2 1009.7 382.4 1010.7 386.6 1011.7 390.6 1012.7 394.6 1013.7 398.5 1014.7 402.3 1015.7 406 1016.7 409.7 1017.7 413.2 1018.7 416.7 1019.7 420 1020.7 423.3 1021.7 426.5 1022.7 429.6 1023.7 432.6 1024.7 435.6 1025.7 438.4 1026.7 441.2 1027.7 443.9 1028.7 446.5 1029.7 449.1 1030.7 451.5 1031.7 453.9 1032.7 456.2 1033.7 458.4 1034.7 460.6 1035.7 462.7 1036.7 464.7 1037.7 466.6 1038.7 468.5 1039.7 470.3 1040.7 472.1 1041.7 473.7 1042.7 475.3 1043.7 476.9 1044.7 478.4 1045.7 479.8 1046.7 481.2 1047.7 482.5 1048.7 483.8 1049.7 485 1050.7 486.2 1051.7 487.3 1052.7 488.4 1053.7 489.4 1054.7 490.4 1055.7 491.4 1056.7 492.3 1057.7 493.1 1058.7 493.9 1059.7 494.7 1060.7 495.5 1061.7 496.2 1062.7 496.9 1063.7 497.5 1064.7 498.1 1065.7 498.7 1066.7 499.3 1067.7 499.8 1068.7 500.3 1069.7 500.8 1070.7 501.3 1071.7 501.7 1072.7 502.1 1073.7 502.5 1074.7 502.9 1075.7 503.2 1076.7 503.5 1077.7 503.9 1078.7 504.1 1079.7 504.4 1080.7 504.7 1081.7 504.9 1082.7 505.2 1083.7 505.4 1084.7 505.6 1085.7 505.8 1086.7 506 1087.7 506.2 1088.7 506.3 1089.7 506.5 1090.7 506.6 1091.7 506.8 1092.7 506.9 1093.7 507 1094.7 507.1 1095.7 507.2 1096.7 507.3 1097.7 507.4 1098.7 507.5 1099.7 507.6 1100.7 507.7 1101.7 507.8 1102.7 507.8 1103.7 507.9 1104.7 507.9 1105.7 508 1106.7 508 1107.7 508.1 1108.7 508.1 1109.7 508.2 1110.7 508.2 1111.7 508.3 1112.7 508.3 1113.7 508.3 1114.7 508.3 1115.7 508.4 1116.7 508.4 1117.7 508.4 1118.7 508.4 1119.7 508.5 1120.7 508.5 1121.7 508.5 1122.7 508.5 1123.7 508.5 1124.7 508.5 1125.7 508.6 1126.7 508.6 1127.7 508.6 1128.7 508.6 1129.7 508.6 1130.7 508.6 1131.7 508.6 1132.7 508.6 1133.7 508.6 1134.7 508.6 1135.7 508.6 1136.7 508.6 1137.7 508.6 1138.7 508.7 1139.7 508.7 1140.7 508.7 1141.7 508.7 1142.7 508.7 1143.7 508.7 1144.7 508.7 1145.7 508.7 1146.7 508.7 1147.7 508.7 1148.7 508.7 1149.7 508.7 1150.7 508.7 1151.7 508.7 1152.7 508.7 1153.7 508.7 1154.7 508.7 1155.7 508.7 1156.7 508.7 1157.7 508.7 1158.7 508.7 1159.7 508.7 1160.7 508.7 1161.7 508.7 1162.7 508.7 1163.7 508.7 1164.7 508.7 1165.7 508.7 1166.7 508.7 1167.7 508.7 1168.7 508.7 1169.7 508.7 1170.7 508.7 1171.7 508.7 1172.7 508.7 1173.7 508.7 1174.7 508.7 1175.7 508.7 1176.7 508.7 1177.7 508.7 1178.7 508.7 1179.7 508.7 1180.7 508.7 1181.7 508.7 1182.7 508.7 1183.7 508.7 1184.7 508.7 1185.7 508.7 1186.7 508.7 1187.7 508.7 1188.7 508.7 1189.7 508.7 1190.7 508.7 1191.7 508.7 1192.7 508.7 1193.7 508.7 1194.7 508.7 1195.7 508.7 1196.7 508.7 1197.7 508.7 1198.7 508.7 1199.7 508.7 1200.7 508.7 1201.7 508.7 1202.7 508.7 1203.7 508.7 1204.7 508.7 1205.7 508.7 1206.7 508.7 1207.7 508.7 1208.7 508.7 1209.7 508.7 1210.7 508.7 1211.7 508.7 1212.7 508.7 1213.7 508.7 1214.7 508.7 1215.7 508.7 1216.7 508.7 1217.7 508.7 1218.7 508.7 1219.7 508.7 1220.7 508.7 1221.7 508.7 1222.7 508.7 1223.7 508.7 1224.7 508.7 1225.7 508.7 1226.7 508.7 1227.7 508.7 1228.7 508.7 1229.7 508.7 1230.7 508.7 1231.7 508.7 1232.7 508.7 1233.7 508.7 1234.7 508.7 1235.7 508.7 1236.7 508.7 1237.7 508.7 1238.7 508.7 1239.7 508.7 1240.7 508.7 1241.7 508.7 1242.7 508.7 1243.7 508.7 1244.7 508.7 1245.7 508.7 1246.7 508.7 1247.7 508.7 1248.7 508.7 1249.7 508.7 1250.7 508.7 1251.7 508.7 1252.7 508.7 1253.7 508.7 1254.7 508.7 1255.7 508.7 1256.7 508.7 1257.7 508.7 1258.7 508.7 1259.7 508.7 1260.7 508.7 1261.7 508.7 1262.7 508.7 1263.7 508.7 1264.7 508.7 1265.7 508.7 1266.7 508.7 1267.7 508.7 1268.7 508.7 1269.7 508.7 1270.7 508.7 1271.7 508.7 1272.7 508.7 1273.7 508.7 L1273.8 508.7 Z" fill="#343459"/>
<path d="M721.7 508.7 L721.7 508.7 722.7 508.7 723.7 508.7 724.7 508.7 725.7 508.7 726.7 508.7 727.7 508.7 728.7 508.7 729.7 508.7 730.7 508.7 731.7 508.7 732.7 508.7 733.7 508.7 734.7 508.7 735.7 508.7 736.7 508.7 737.7 508.7 738.7 508.7 739.7 508.7 740.7 508.7 741.7 508.7 742.7 508.7 743.7 508.7 744.7 508.7 745.7 508.7 746.7 508.7 747.7 508.7 748.7 508.7 749.7 508.7 750.7 508.7 751.7 508.7 752.7 508.7 753.7 508.7 754.7 508.7 755.7 508.7 756.7 508.7 757.7 508.7 758.7 508.7 759.7 508.7 760.7 508.7 761.7 508.7 762.7 508.7 763.7 508.7 764.7 508.7 765.7 508.7 766.7 508.7 767.7 508.7 768.7 508.7 769.7 508.7 770.7 508.7 771.7 508.7 772.7 508.7 773.7 508.7 774.7 508.7 775.7 508.7 776.7 508.7 777.7 508.7 778.7 508.7 779.7 508.7 780.7 508.7 781.7 508.7 782.7 508.7 783.7 508.7 784.7 508.7 785.7 508.7 786.7 508.7 787.7 508.7 788.7 508.7 789.7 508.7 790.7 508.7 791.7 508.7 792.7 508.7 793.7 508.7 794.7 508.7 795.7 508.7 796.7 508.7 797.7 508.7 798.7 508.7 799.7 508.7 800.7 508.7 801.7 508.7 802.7 508.7 803.7 508.7 804.7 508.7 805.7 508.7 806.7 508.7 807.7 508.7 808.7 508.7 809.7 508.7 810.7 508.7 811.7 508.7 812.7 508.7 813.7 508.7 814.7 508.7 815.7 508.7 816.7 508.7 817.7 508.7 818.7 508.7 819.7 508.7 820.7 508.7 821.7 508.7 822.7 508.7 823.7 508.7 824.7 508.7 825.7 508.6 826.7 508.6 827.7 508.6 828.7 508.6 829.7 508.6 830.7 508.6 831.7 508.6 832.7 508.6 833.7 508.6 834.7 508.6 835.7 508.6 836.7 508.6 837.7 508.6 838.7 508.6 839.7 508.5 840.7 508.5 841.7 508.5 842.7 508.5 843.7 508.5 844.7 508.5 845.7 508.5 846.7 508.4 847.7 508.4 848.7 508.4 849.7 508.4 850.7 508.4 851.7 508.3 852.7 508.3 853.7 508.3 854.7 508.2 855.7 508.2 856.7 508.2 857.7 508.1 858.7 508.1 859.7 508.1 860.7 508 861.7 508 862.7 507.9 863.7 507.9 864.7 507.8 865.7 507.8 866.7 507.7 867.7 507.6 868.7 507.6 869.7 507.5 870.7 507.4 871.7 507.3 872.7 507.3 873.7 507.2 874.7 507.1 875.7 507 876.7 506.9 877.7 506.8 878.7 506.6 879.7 506.5 880.7 506.4 881.7 506.2 882.7 506.1 883.7 506 884.7 505.8 885.7 505.6 886.7 505.4 887.7 505.3 888.7 505.1 889.7 504.9 890.7 504.7 891.7 504.4 892.7 504.2 893.7 504 894.7 503.7 895.7 503.4 896.7 503.2 897.7 502.9 898.7 502.6 899.7 502.3 900.7 501.9 901.7 501.6 902.7 501.2 903.7 500.9 904.7 500.5 905.7 500.1 906.7 499.7 907.7 499.2 908.7 498.8 909.7 498.3 910.7 497.8 911.7 497.3 912.7 496.8 913.7 496.2 914.7 495.7 915.7 495.1 916.7 494.5 917.7 493.9 918.7 493.2 919.7 492.6 920.7 491.9 921.7 491.2 922.7 490.5 923.7 489.7 924.7 488.9 925.7 488.1 926.7 487.3 927.7 486.5 928.7 485.6 929.7 484.7 930.7 483.8 931.7 482.8 932.7 481.9 933.7 480.9 934.7 479.8 935.7 478.8 936.7 477.7 937.7 476.6 938.7 475.5 939.7 474.4 940.7 473.2 941.7 472 942.7 470.8 943.7 469.5 944.7 468.3 945.7 467 946.7 465.6 947.7 464.3 948.7 462.9 949.7 461.5 950.7 460.1 951.7 458.7 952.7 457.2 953.7 455.8 954.7 454.3 955.7 452.8 956.7 451.2 957.7 449.7 958.7 448.1 959.7 446.5 960.7 444.9 961.7 443.3 962.7 441.7 963.7 440 964.7 438.4 965.7 436.7 966.7 435 967.7 433.3 968.7 431.7 969.7 430 970.7 428.3 971.7 426.5 972.7 424.8 973.7 423.1 974.7 421.4 975.7 419.7 976.7 418 977.7 416.3 978.7 414.6 979.7 412.9 980.7 411.3 981.7 409.6 982.7 407.9 983.7 406.3 984.7 404.7 985.7 403.1 986.7 401.5 987.7 399.9 988.7 398.4 989.7 396.9 990.7 395.4 991.7 393.9 992.7 392.5 993.7 391 994.7 389.7 995.7 388.3 996.7 387 997.7 385.7 998.7 384.5 999.7 383.3 1000.7 382.1 1001.7 381 1002.7 379.9 1003.7 378.9 1004.7 377.9 1005.7 376.9 1006.7 376 1007.7 375.2 1008.7 374.4 1009.7 373.6 1010.7 372.9 1011.7 372.3 1012.7 371.7 1013.7 371.1 1014.7 370.6 1015.7 370.2 1016.7 369.8 1017.7 369.5 1018.7 369.2 1019.7 369 1020.7 368.8 1021.7 368.7 1022.7 368.7 1023.7 368.7 1024.7 368.8 1025.7 368.9 1026.7 369.1 1027.7 369.3 1028.7 369.6 1029.7 370 1030.7 370.4 1031.7 370.8 1032.7 371.3 1033.7 371.9 1034.7 372.5 1035.7 373.2 1036.7 373.9 1037.7 374.7 1038.7 375.5 1039.7 376.4 1040.7 377.3 1041.7 378.3 1042.7 379.3 1043.7 380.3 1044.7 381.4 1045.7 382.6 1046.7 383.8 1047.7 385 1048.7 386.2 1049.7 387.5 1050.7 388.9 1051.7 390.2 1052.7 391.6 1053.7 393 1054.7 394.5 1055.7 396 1056.7 397.5 1057.7 399 1058.7 400.6 1059.7 402.1 1060.7 403.7 1061.7 405.3 1062.7 407 1063.7 408.6 1064.7 410.3 1065.7 411.9 1066.7 413.6 1067.7 415.3 1068.7 417 1069.7 418.7 1070.7 420.4 1071.7 422.1 1072.7 423.8 1073.7 425.5 1074.7 427.2 1075.7 428.9 1076.7 430.6 1077.7 432.3 1078.7 434 1079.7 435.7 1080.7 437.4 1081.7 439 1082.7 440.7 1083.7 442.3 1084.7 443.9 1085.7 445.6 1086.7 447.2 1087.7 448.7 1088.7 450.3 1089.7 451.8 1090.7 453.4 1091.7 454.9 1092.7 456.4 1093.7 457.8 1094.7 459.3 1095.7 460.7 1096.7 462.1 1097.7 463.5 1098.7 464.8 1099.7 466.2 1100.7 467.5 1101.7 468.8 1102.7 470 1103.7 471.3 1104.7 472.5 1105.7 473.7 1106.7 474.8 1107.7 476 1108.7 477.1 1109.7 478.2 1110.7 479.2 1111.7 480.3 1112.7 481.3 1113.7 482.2 1114.7 483.2 1115.7 484.1 1116.7 485 1117.7 485.9 1118.7 486.8 1119.7 487.6 1120.7 488.4 1121.7 489.2 1122.7 490 1123.7 490.7 1124.7 491.5 1125.7 492.2 1126.7 492.8 1127.7 493.5 1128.7 494.1 1129.7 494.7 1130.7 495.3 1131.7 495.9 1132.7 496.5 1133.7 497 1134.7 497.5 1135.7 498 1136.7 498.5 1137.7 499 1138.7 499.4 1139.7 499.8 1140.7 500.2 1141.7 500.6 1142.7 501 1143.7 501.4 1144.7 501.7 1145.7 502.1 1146.7 502.4 1147.7 502.7 1148.7 503 1149.7 503.3 1150.7 503.6 1151.7 503.8 1152.7 504.1 1153.7 504.3 1154.7 504.5 1155.7 504.7 1156.7 505 1157.7 505.2 1158.7 505.3 1159.7 505.5 1160.7 505.7 1161.7 505.9 1162.7 506 1163.7 506.2 1164.7 506.3 1165.7 506.4 1166.7 506.6 1167.7 506.7 1168.7 506.8 1169.7 506.9 1170.7 507 1171.7 507.1 1172.7 507.2 1173.7 507.3 1174.7 507.4 1175.7 507.5 1176.7 507.5 1177.7 507.6 1178.7 507.7 1179.7 507.7 1180.7 507.8 1181.7 507.8 1182.7 507.9 1183.7 508 1184.7 508 1185.7 508 1186.7 508.1 1187.7 508.1 1188.7 508.2 1189.7 508.2 1190.7 508.2 1191.7 508.3 1192.7 508.3 1193.7 508.3 1194.7 508.3 1195.7 508.4 1196.7 508.4 1197.7 508.4 1198.7 508.4 1199.7 508.4 1200.7 508.5 1201.7 508.5 1202.7 508.5 1203.7 508.5 1204.7 508.5 1205.7 508.5 1206.7 508.5 1207.7 508.6 1208.7 508.6 1209.7 508.6 1210.7 508.6 1211.7 508.6 1212.7 508.6 1213.7 508.6 1214.7 508.6 1215.7 508.6 1216.7 508.6 1217.7 508.6 1218.7 508.6 1219.7 508.6 1220.7 508.6 1221.7 508.7 1222.7 508.7 1223.7 508.7 1224.7 508.7 1225.7 508.7 1226.7 508.7 1227.7 508.7 1228.7 508.7 1229.7 508.7 1230.7 508.7 1231.7 508.7 1232.7 508.7 1233.7 508.7 1234.7 508.7 1235.7 508.7 1236.7 508.7 1237.7 508.7 1238.7 508.7 1239.7 508.7 1240.7 508.7 1241.7 508.7 1242.7 508.7 1243.7 508.7 1244.7 508.7 1245.7 508.7 1246.7 508.7 1247.7 508.7 1248.7 508.7 1249.7 508.7 1250.7 508.7 1251.7 508.7 1252.7 508.7 1253.7 508.7 1254.7 508.7 1255.7 508.7 1256.7 508.7 1257.7 508.7 1258.7 508.7 1259.7 508.7 1260.7 508.7 1261.7 508.7 1262.7 508.7 1263.7 508.7 1264.7 508.7 1265.7 508.7 1266.7 508.7 1267.7 508.7 1268.7 508.7 1269.7 508.7 1270.7 508.7 1271.7 508.7 1272.7 508.7 1273.7 508.7 L1273.8 508.7 Z" fill="#dad9a6"/>
<path d="M721.7 508.7 L722.7 508.7 L723.7 508.7 L724.7 508.7 L725.7 508.7 L726.7 508.7 L727.7 508.7 L728.7 508.6 L729.7 508.6 L730.7 508.6 L731.7 508.6 L732.7 508.6 L733.7 508.6 L734.7 508.6 L735.7 508.6 L736.7 508.6 L737.7 508.6 L738.7 508.6 L739.7 508.6 L740.7 508.6 L741.7 508.5 L742.7 508.5 L743.7 508.5 L744.7 508.5 L745.7 508.5 L746.7 508.5 L747.7 508.4 L748.7 508.4 L749.7 508.4 L750.7 508.4 L751.7 508.4 L752.7 508.3 L753.7 508.3 L754.7 508.3 L755.7 508.2 L756.7 508.2 L757.7 508.1 L758.7 508.1 L759.7 508.1 L760.7 508 L761.7 508 L762.7 507.9 L763.7 507.8 L764.7 507.8 L765.7 507.7 L766.7 507.6 L767.7 507.5 L768.7 507.5 L769.7 507.4 L770.7 507.3 L771.7 507.2 L772.7 507 L773.7 506.9 L774.7 506.8 L775.7 506.7 L776.7 506.5 L777.7 506.4 L778.7 506.2 L779.7 506 L780.7 505.8 L781.7 505.6 L782.7 505.4 L783.7 505.2 L784.7 505 L785.7 504.7 L786.7 504.5 L787.7 504.2 L788.7 503.9 L789.7 503.6 L790.7 503.3 L791.7 502.9 L792.7 502.6 L793.7 502.2 L794.7 501.8 L795.7 501.3 L796.7 500.9 L797.7 500.4 L798.7 499.9 L799.7 499.4 L800.7 498.8 L801.7 498.3 L802.7 497.7 L803.7 497 L804.7 496.3 L805.7 495.6 L806.7 494.9 L807.7 494.1 L808.7 493.3 L809.7 492.4 L810.7 491.5 L811.7 490.6 L812.7 489.6 L813.7 488.6 L814.7 487.5 L815.7 486.4 L816.7 485.3 L817.7 484.1 L818.7 482.8 L819.7 481.5 L820.7 480.1 L821.7 478.7 L822.7 477.2 L823.7 475.7 L824.7 474.1 L825.7 472.4 L826.7 470.7 L827.7 468.9 L828.7 467 L829.7 465.1 L830.7 463.1 L831.7 461 L832.7 458.9 L833.7 456.7 L834.7 454.4 L835.7 452 L836.7 449.6 L837.7 447.1 L838.7 444.5 L839.7 441.8 L840.7 439 L841.7 436.2 L842.7 433.2 L843.7 430.2 L844.7 427.1 L845.7 424 L846.7 420.7 L847.7 417.3 L848.7 413.9 L849.7 410.4 L850.7 406.8 L851.7 403.1 L852.7 399.3 L853.7 395.4 L854.7 391.4 L855.7 387.4 L856.7 383.3 L857.7 379 L858.7 374.7 L859.7 370.4 L860.7 365.9 L861.7 361.4 L862.7 356.7 L863.7 352 L864.7 347.3 L865.7 342.4 L866.7 337.5 L867.7 332.5 L868.7 327.5 L869.7 322.4 L870.7 317.2 L871.7 311.9 L872.7 306.7 L873.7 301.3 L874.7 295.9 L875.7 290.5 L876.7 285 L877.7 279.5 L878.7 273.9 L879.7 268.4 L880.7 262.7 L881.7 257.1 L882.7 251.5 L883.7 245.8 L884.7 240.1 L885.7 234.5 L886.7 228.8 L887.7 223.2 L888.7 217.5 L889.7 211.9 L890.7 206.3 L891.7 200.7 L892.7 195.1 L893.7 189.6 L894.7 184.2 L895.7 178.8 L896.7 173.4 L897.7 168.1 L898.7 162.9 L899.7 157.7 L900.7 152.6 L901.7 147.6 L902.7 142.7 L903.7 137.9 L904.7 133.2 L905.7 128.6 L906.7 124.1 L907.7 119.7 L908.7 115.4 L909.7 111.3 L910.7 107.3 L911.7 103.4 L912.7 99.7 L913.7 96.1 L914.7 92.7 L915.7 89.4 L916.7 86.2 L917.7 83.3 L918.7 80.5 L919.7 77.9 L920.7 75.4 L921.7 73.1 L922.7 71 L923.7 69.1 L924.7 67.3 L925.7 65.8 L926.7 64.4 L927.7 63.2 L928.7 62.3 L929.7 61.5 L930.7 60.9 L931.7 60.4 L932.7 60.2 L933.7 60.2 L934.7 60.4 L935.7 60.8 L936.7 61.3 L937.7 62.1 L938.7 63 L939.7 64.2 L940.7 65.5 L941.7 67 L942.7 68.7 L943.7 70.6 L944.7 72.7 L945.7 74.9 L946.7 77.3 L947.7 79.9 L948.7 82.7 L949.7 85.6 L950.7 88.7 L951.7 92 L952.7 95.4 L953.7 99 L954.7 102.7 L955.7 106.5 L956.7 110.5 L957.7 114.6 L958.7 118.8 L959.7 123.2 L960.7 127.7 L961.7 132.3 L962.7 136.9 L963.7 141.7 L964.7 146.6 L965.7 151.6 L966.7 156.7 L967.7 161.8 L968.7 167 L969.7 172.3 L970.7 177.7 L971.7 183.1 L972.7 188.5 L973.7 194 L974.7 199.6 L975.7 205.1 L976.7 210.8 L977.7 216.4 L978.7 222 L979.7 227.7 L980.7 233.3 L981.7 239 L982.7 244.7 L983.7 250.3 L984.7 256 L985.7 261.6 L986.7 267.2 L987.7 272.8 L988.7 278.4 L989.7 283.9 L990.7 289.4 L991.7 294.8 L992.7 300.2 L993.7 305.6 L994.7 310.9 L995.7 316.1 L996.7 321.3 L997.7 326.5 L998.7 331.5 L999.7 336.5 L1000.7 341.4 L1001.7 346.3 L1002.7 351.1 L1003.7 355.8 L1004.7 360.4 L1005.7 365 L1006.7 369.5 L1007.7 373.9 L1008.7 378.2 L1009.7 382.4 L1010.7 386.6 L1011.7 390.6 L1012.7 394.6 L1013.7 398.5 L1014.7 402.3 L1015.7 406 L1016.7 409.7 L1017.7 413.2 L1018.7 416.7 L1019.7 420 L1020.7 423.3 L1021.7 426.5 L1022.7 429.6 L1023.7 432.6 L1024.7 435.6 L1025.7 438.4 L1026.7 441.2 L1027.7 443.9 L1028.7 446.5 L1029.7 449.1 L1030.7 451.5 L1031.7 453.9 L1032.7 456.2 L1033.7 458.4 L1034.7 460.6 L1035.7 462.7 L1036.7 464.7 L1037.7 466.6 L1038.7 468.5 L1039.7 470.3 L1040.7 472.1 L1041.7 473.7 L1042.7 475.3 L1043.7 476.9 L1044.7 478.4 L1045.7 479.8 L1046.7 481.2 L1047.7 482.5 L1048.7 483.8 L1049.7 485 L1050.7 486.2 L1051.7 487.3 L1052.7 488.4 L1053.7 489.4 L1054.7 490.4 L1055.7 491.4 L1056.7 492.3 L1057.7 493.1 L1058.7 493.9 L1059.7 494.7 L1060.7 495.5 L1061.7 496.2 L1062.7 496.9 L1063.7 497.5 L1064.7 498.1 L1065.7 498.7 L1066.7 499.3 L1067.7 499.8 L1068.7 500.3 L1069.7 500.8 L1070.7 501.3 L1071.7 501.7 L1072.7 502.1 L1073.7 502.5 L1074.7 502.9 L1075.7 503.2 L1076.7 503.5 L1077.7 503.9 L1078.7 504.1 L1079.7 504.4 L1080.7 504.7 L1081.7 504.9 L1082.7 505.2 L1083.7 505.4 L1084.7 505.6 L1085.7 505.8 L1086.7 506 L1087.7 506.2 L1088.7 506.3 L1089.7 506.5 L1090.7 506.6 L1091.7 506.8 L1092.7 506.9 L1093.7 507 L1094.7 507.1 L1095.7 507.2 L1096.7 507.3 L1097.7 507.4 L1098.7 507.5 L1099.7 507.6 L1100.7 507.7 L1101.7 507.8 L1102.7 507.8 L1103.7 507.9 L1104.7 507.9 L1105.7 508 L1106.7 508 L1107.7 508.1 L1108.7 508.1 L1109.7 508.2 L1110.7 508.2 L1111.7 508.3 L1112.7 508.3 L1113.7 508.3 L1114.7 508.3 L1115.7 508.4 L1116.7 508.4 L1117.7 508.4 L1118.7 508.4 L1119.7 508.5 L1120.7 508.5 L1121.7 508.5 L1122.7 508.5 L1123.7 508.5 L1124.7 508.5 L1125.7 508.6 L1126.7 508.6 L1127.7 508.6 L1128.7 508.6 L1129.7 508.6 L1130.7 508.6 L1131.7 508.6 L1132.7 508.6 L1133.7 508.6 L1134.7 508.6 L1135.7 508.6 L1136.7 508.6 L1137.7 508.6 L1138.7 508.7 L1139.7 508.7 L1140.7 508.7 L1141.7 508.7 L1142.7 508.7 L1143.7 508.7 L1144.7 508.7 L1145.7 508.7 L1146.7 508.7 L1147.7 508.7 L1148.7 508.7 L1149.7 508.7 L1150.7 508.7 L1151.7 508.7 L1152.7 508.7 L1153.7 508.7 L1154.7 508.7 L1155.7 508.7 L1156.7 508.7 L1157.7 508.7 L1158.7 508.7 L1159.7 508.7 L1160.7 508.7 L1161.7 508.7 L1162.7 508.7 L1163.7 508.7 L1164.7 508.7 L1165.7 508.7 L1166.7 508.7 L1167.7 508.7 L1168.7 508.7 L1169.7 508.7 L1170.7 508.7 L1171.7 508.7 L1172.7 508.7 L1173.7 508.7 L1174.7 508.7 L1175.7 508.7 L1176.7 508.7 L1177.7 508.7 L1178.7 508.7 L1179.7 508.7 L1180.7 508.7 L1181.7 508.7 L1182.7 508.7 L1183.7 508.7 L1184.7 508.7 L1185.7 508.7 L1186.7 508.7 L1187.7 508.7 L1188.7 508.7 L1189.7 508.7 L1190.7 508.7 L1191.7 508.7 L1192.7 508.7 L1193.7 508.7 L1194.7 508.7 L1195.7 508.7 L1196.7 508.7 L1197.7 508.7 L1198.7 508.7 L1199.7 508.7 L1200.7 508.7 L1201.7 508.7 L1202.7 508.7 L1203.7 508.7 L1204.7 508.7 L1205.7 508.7 L1206.7 508.7 L1207.7 508.7 L1208.7 508.7 L1209.7 508.7 L1210.7 508.7 L1211.7 508.7 L1212.7 508.7 L1213.7 508.7 L1214.7 508.7 L1215.7 508.7 L1216.7 508.7 L1217.7 508.7 L1218.7 508.7 L1219.7 508.7 L1220.7 508.7 L1221.7 508.7 L1222.7 508.7 L1223.7 508.7 L1224.7 508.7 L1225.7 508.7 L1226.7 508.7 L1227.7 508.7 L1228.7 508.7 L1229.7 508.7 L1230.7 508.7 L1231.7 508.7 L1232.7 508.7 L1233.7 508.7 L1234.7 508.7 L1235.7 508.7 L1236.7 508.7 L1237.7 508.7 L1238.7 508.7 L1239.7 508.7 L1240.7 508.7 L1241.7 508.7 L1242.7 508.7 L1243.7 508.7 L1244.7 508.7 L1245.7 508.7 L1246.7 508.7 L1247.7 508.7 L1248.7 508.7 L1249.7 508.7 L1250.7 508.7 L1251.7 508.7 L1252.7 508.7 L1253.7 508.7 L1254.7 508.7 L1255.7 508.7 L1256.7 508.7 L1257.7 508.7 L1258.7 508.7 L1259.7 508.7 L1260.7 508.7 L1261.7 508.7 L1262.7 508.7 L1263.7 508.7 L1264.7 508.7 L1265.7 508.7 L1266.7 508.7 L1267.7 508.7 L1268.7 508.7 L1269.7 508.7 L1270.7 508.7 L1271.7 508.7 L1272.7 508.7 L1273.7 508.7" fill="none" stroke="#333333" stroke-width="1.6"/>
<path d="M721.7 508.7 L722.7 508.7 L723.7 508.7 L724.7 508.7 L725.7 508.7 L726.7 508.7 L727.7 508.7 L728.7 508.7 L729.7 508.7 L730.7 508.7 L731.7 508.7 L732.7 508.7 L733.7 508.7 L734.7 508.7 L735.7 508.7 L736.7 508.7 L737.7 508.7 L738.7 508.7 L739.7 508.7 L740.7 508.7 L741.7 508.7 L742.7 508.7 L743.7 508.7 L744.7 508.7 L745.7 508.7 L746.7 508.7 L747.7 508.7 L748.7 508.7 L749.7 508.7 L750.7 508.7 L751.7 508.7 L752.7 508.7 L753.7 508.7 L754.7 508.7 L755.7 508.7 L756.7 508.7 L757.7 508.7 L758.7 508.7 L759.7 508.7 L760.7 508.7 L761.7 508.7 L762.7 508.7 L763.7 508.7 L764.7 508.7 L765.7 508.7 L766.7 508.7 L767.7 508.7 L768.7 508.7 L769.7 508.7 L770.7 508.7 L771.7 508.7 L772.7 508.7 L773.7 508.7 L774.7 508.7 L775.7 508.7 L776.7 508.7 L777.7 508.7 L778.7 508.7 L779.7 508.7 L780.7 508.7 L781.7 508.7 L782.7 508.7 L783.7 508.7 L784.7 508.7 L785.7 508.7 L786.7 508.7 L787.7 508.7 L788.7 508.7 L789.7 508.7 L790.7 508.7 L791.7 508.7 L792.7 508.7 L793.7 508.7 L794.7 508.7 L795.7 508.7 L796.7 508.7 L797.7 508.7 L798.7 508.7 L799.7 508.7 L800.7 508.7 L801.7 508.7 L802.7 508.7 L803.7 508.7 L804.7 508.7 L805.7 508.7 L806.7 508.7 L807.7 508.7 L808.7 508.7 L809.7 508.7 L810.7 508.7 L811.7 508.7 L812.7 508.7 L813.7 508.7 L814.7 508.7 L815.7 508.7 L816.7 508.7 L817.7 508.7 L818.7 508.7 L819.7 508.7 L820.7 508.7 L821.7 508.7 L822.7 508.7 L823.7 508.7 L824.7 508.7 L825.7 508.6 L826.7 508.6 L827.7 508.6 L828.7 508.6 L829.7 508.6 L830.7 508.6 L831.7 508.6 L832.7 508.6 L833.7 508.6 L834.7 508.6 L835.7 508.6 L836.7 508.6 L837.7 508.6 L838.7 508.6 L839.7 508.5 L840.7 508.5 L841.7 508.5 L842.7 508.5 L843.7 508.5 L844.7 508.5 L845.7 508.5 L846.7 508.4 L847.7 508.4 L848.7 508.4 L849.7 508.4 L850.7 508.4 L851.7 508.3 L852.7 508.3 L853.7 508.3 L854.7 508.2 L855.7 508.2 L856.7 508.2 L857.7 508.1 L858.7 508.1 L859.7 508.1 L860.7 508 L861.7 508 L862.7 507.9 L863.7 507.9 L864.7 507.8 L865.7 507.8 L866.7 507.7 L867.7 507.6 L868.7 507.6 L869.7 507.5 L870.7 507.4 L871.7 507.3 L872.7 507.3 L873.7 507.2 L874.7 507.1 L875.7 507 L876.7 506.9 L877.7 506.8 L878.7 506.6 L879.7 506.5 L880.7 506.4 L881.7 506.2 L882.7 506.1 L883.7 506 L884.7 505.8 L885.7 505.6 L886.7 505.4 L887.7 505.3 L888.7 505.1 L889.7 504.9 L890.7 504.7 L891.7 504.4 L892.7 504.2 L893.7 504 L894.7 503.7 L895.7 503.4 L896.7 503.2 L897.7 502.9 L898.7 502.6 L899.7 502.3 L900.7 501.9 L901.7 501.6 L902.7 501.2 L903.7 500.9 L904.7 500.5 L905.7 500.1 L906.7 499.7 L907.7 499.2 L908.7 498.8 L909.7 498.3 L910.7 497.8 L911.7 497.3 L912.7 496.8 L913.7 496.2 L914.7 495.7 L915.7 495.1 L916.7 494.5 L917.7 493.9 L918.7 493.2 L919.7 492.6 L920.7 491.9 L921.7 491.2 L922.7 490.5 L923.7 489.7 L924.7 488.9 L925.7 488.1 L926.7 487.3 L927.7 486.5 L928.7 485.6 L929.7 484.7 L930.7 483.8 L931.7 482.8 L932.7 481.9 L933.7 480.9 L934.7 479.8 L935.7 478.8 L936.7 477.7 L937.7 476.6 L938.7 475.5 L939.7 474.4 L940.7 473.2 L941.7 472 L942.7 470.8 L943.7 469.5 L944.7 468.3 L945.7 467 L946.7 465.6 L947.7 464.3 L948.7 462.9 L949.7 461.5 L950.7 460.1 L951.7 458.7 L952.7 457.2 L953.7 455.8 L954.7 454.3 L955.7 452.8 L956.7 451.2 L957.7 449.7 L958.7 448.1 L959.7 446.5 L960.7 444.9 L961.7 443.3 L962.7 441.7 L963.7 440 L964.7 438.4 L965.7 436.7 L966.7 435 L967.7 433.3 L968.7 431.7 L969.7 430 L970.7 428.3 L971.7 426.5 L972.7 424.8 L973.7 423.1 L974.7 421.4 L975.7 419.7 L976.7 418 L977.7 416.3 L978.7 414.6 L979.7 412.9 L980.7 411.3 L981.7 409.6 L982.7 407.9 L983.7 406.3 L984.7 404.7 L985.7 403.1 L986.7 401.5 L987.7 399.9 L988.7 398.4 L989.7 396.9 L990.7 395.4 L991.7 393.9 L992.7 392.5 L993.7 391 L994.7 389.7 L995.7 388.3 L996.7 387 L997.7 385.7 L998.7 384.5 L999.7 383.3 L1000.7 382.1 L1001.7 381 L1002.7 379.9 L1003.7 378.9 L1004.7 377.9 L1005.7 376.9 L1006.7 376 L1007.7 375.2 L1008.7 374.4 L1009.7 373.6 L1010.7 372.9 L1011.7 372.3 L1012.7 371.7 L1013.7 371.1 L1014.7 370.6 L1015.7 370.2 L1016.7 369.8 L1017.7 369.5 L1018.7 369.2 L1019.7 369 L1020.7 368.8 L1021.7 368.7 L1022.7 368.7 L1023.7 368.7 L1024.7 368.8 L1025.7 368.9 L1026.7 369.1 L1027.7 369.3 L1028.7 369.6 L1029.7 370 L1030.7 370.4 L1031.7 370.8 L1032.7 371.3 L1033.7 371.9 L1034.7 372.5 L1035.7 373.2 L1036.7 373.9 L1037.7 374.7 L1038.7 375.5 L1039.7 376.4 L1040.7 377.3 L1041.7 378.3 L1042.7 379.3 L1043.7 380.3 L1044.7 381.4 L1045.7 382.6 L1046.7 383.8 L1047.7 385 L1048.7 386.2 L1049.7 387.5 L1050.7 388.9 L1051.7 390.2 L1052.7 391.6 L1053.7 393 L1054.7 394.5 L1055.7 396 L1056.7 397.5 L1057.7 399 L1058.7 400.6 L1059.7 402.1 L1060.7 403.7 L1061.7 405.3 L1062.7 407 L1063.7 408.6 L1064.7 410.3 L1065.7 411.9 L1066.7 413.6 L1067.7 415.3 L1068.7 417 L1069.7 418.7 L1070.7 420.4 L1071.7 422.1 L1072.7 423.8 L1073.7 425.5 L1074.7 427.2 L1075.7 428.9 L1076.7 430.6 L1077.7 432.3 L1078.7 434 L1079.7 435.7 L1080.7 437.4 L1081.7 439 L1082.7 440.7 L1083.7 442.3 L1084.7 443.9 L1085.7 445.6 L1086.7 447.2 L1087.7 448.7 L1088.7 450.3 L1089.7 451.8 L1090.7 453.4 L1091.7 454.9 L1092.7 456.4 L1093.7 457.8 L1094.7 459.3 L1095.7 460.7 L1096.7 462.1 L1097.7 463.5 L1098.7 464.8 L1099.7 466.2 L1100.7 467.5 L1101.7 468.8 L1102.7 470 L1103.7 471.3 L1104.7 472.5 L1105.7 473.7 L1106.7 474.8 L1107.7 476 L1108.7 477.1 L1109.7 478.2 L1110.7 479.2 L1111.7 480.3 L1112.7 481.3 L1113.7 482.2 L1114.7 483.2 L1115.7 484.1 L1116.7 485 L1117.7 485.9 L1118.7 486.8 L1119.7 487.6 L1120.7 488.4 L1121.7 489.2 L1122.7 490 L1123.7 490.7 L1124.7 491.5 L1125.7 492.2 L1126.7 492.8 L1127.7 493.5 L1128.7 494.1 L1129.7 494.7 L1130.7 495.3 L1131.7 495.9 L1132.7 496.5 L1133.7 497 L1134.7 497.5 L1135.7 498 L1136.7 498.5 L1137.7 499 L1138.7 499.4 L1139.7 499.8 L1140.7 500.2 L1141.7 500.6 L1142.7 501 L1143.7 501.4 L1144.7 501.7 L1145.7 502.1 L1146.7 502.4 L1147.7 502.7 L1148.7 503 L1149.7 503.3 L1150.7 503.6 L1151.7 503.8 L1152.7 504.1 L1153.7 504.3 L1154.7 504.5 L1155.7 504.7 L1156.7 505 L1157.7 505.2 L1158.7 505.3 L1159.7 505.5 L1160.7 505.7 L1161.7 505.9 L1162.7 506 L1163.7 506.2 L1164.7 506.3 L1165.7 506.4 L1166.7 506.6 L1167.7 506.7 L1168.7 506.8 L1169.7 506.9 L1170.7 507 L1171.7 507.1 L1172.7 507.2 L1173.7 507.3 L1174.7 507.4 L1175.7 507.5 L1176.7 507.5 L1177.7 507.6 L1178.7 507.7 L1179.7 507.7 L1180.7 507.8 L1181.7 507.8 L1182.7 507.9 L1183.7 508 L1184.7 508 L1185.7 508 L1186.7 508.1 L1187.7 508.1 L1188.7 508.2 L1189.7 508.2 L1190.7 508.2 L1191.7 508.3 L1192.7 508.3 L1193.7 508.3 L1194.7 508.3 L1195.7 508.4 L1196.7 508.4 L1197.7 508.4 L1198.7 508.4 L1199.7 508.4 L1200.7 508.5 L1201.7 508.5 L1202.7 508.5 L1203.7 508.5 L1204.7 508.5 L1205.7 508.5 L1206.7 508.5 L1207.7 508.6 L1208.7 508.6 L1209.7 508.6 L1210.7 508.6 L1211.7 508.6 L1212.7 508.6 L1213.7 508.6 L1214.7 508.6 L1215.7 508.6 L1216.7 508.6 L1217.7 508.6 L1218.7 508.6 L1219.7 508.6 L1220.7 508.6 L1221.7 508.7 L1222.7 508.7 L1223.7 508.7 L1224.7 508.7 L1225.7 508.7 L1226.7 508.7 L1227.7 508.7 L1228.7 508.7 L1229.7 508.7 L1230.7 508.7 L1231.7 508.7 L1232.7 508.7 L1233.7 508.7 L1234.7 508.7 L1235.7 508.7 L1236.7 508.7 L1237.7 508.7 L1238.7 508.7 L1239.7 508.7 L1240.7 508.7 L1241.7 508.7 L1242.7 508.7 L1243.7 508.7 L1244.7 508.7 L1245.7 508.7 L1246.7 508.7 L1247.7 508.7 L1248.7 508.7 L1249.7 508.7 L1250.7 508.7 L1251.7 508.7 L1252.7 508.7 L1253.7 508.7 L1254.7 508.7 L1255.7 508.7 L1256.7 508.7 L1257.7 508.7 L1258.7 508.7 L1259.7 508.7 L1260.7 508.7 L1261.7 508.7 L1262.7 508.7 L1263.7 508.7 L1264.7 508.7 L1265.7 508.7 L1266.7 508.7 L1267.7 508.7 L1268.7 508.7 L1269.7 508.7 L1270.7 508.7 L1271.7 508.7 L1272.7 508.7 L1273.7 508.7" fill="none" stroke="#333333" stroke-width="1.6"/>
<path d="M721.7 508.7 L722.7 508.8 L723.7 508.8 L724.7 508.8 L725.7 508.8 L726.7 508.8 L727.7 508.8 L728.7 508.8 L729.7 508.8 L730.7 508.8 L731.7 508.8 L732.7 508.8 L733.7 508.8 L734.7 508.8 L735.7 508.8 L736.7 508.8 L737.7 508.7 L738.7 508.7 L739.7 508.7 L740.7 508.7 L741.7 508.7 L742.7 508.7 L743.7 508.7 L744.7 508.7 L745.7 508.7 L746.7 508.7 L747.7 508.7 L748.7 508.6 L749.7 508.6 L750.7 508.6 L751.7 508.6 L752.7 508.5 L753.7 508.5 L754.7 508.5 L755.7 508.4 L756.7 508.4 L757.7 508.3 L758.7 508.3 L759.7 508.2 L760.7 508.2 L761.7 508.1 L762.7 508 L763.7 507.9 L764.7 507.8 L765.7 507.7 L766.7 507.6 L767.7 507.5 L768.7 507.4 L769.7 507.3 L770.7 507.2 L771.7 507 L772.7 506.9 L773.7 506.7 L774.7 506.5 L775.7 506.4 L776.7 506.2 L777.7 506 L778.7 505.7 L779.7 505.5 L780.7 505.3 L781.7 505 L782.7 504.8 L783.7 504.5 L784.7 504.2 L785.7 503.9 L786.7 503.6 L787.7 503.2 L788.7 502.9 L789.7 502.5 L790.7 502.2 L791.7 501.8 L792.7 501.3 L793.7 500.9 L794.7 500.5 L795.7 500 L796.7 499.5 L797.7 499 L798.7 498.5 L799.7 498 L800.7 497.4 L801.7 496.8 L802.7 496.2 L803.7 495.6 L804.7 494.9 L805.7 494.2 L806.7 493.5 L807.7 492.8 L808.7 492 L809.7 491.2 L810.7 490.4 L811.7 489.5 L812.7 488.6 L813.7 487.7 L814.7 486.7 L815.7 485.7 L816.7 484.7 L817.7 483.6 L818.7 482.5 L819.7 481.3 L820.7 480.1 L821.7 478.8 L822.7 477.5 L823.7 476.1 L824.7 474.7 L825.7 473.2 L826.7 471.7 L827.7 470 L828.7 468.4 L829.7 466.6 L830.7 464.8 L831.7 463 L832.7 461 L833.7 459 L834.7 456.9 L835.7 454.8 L836.7 452.5 L837.7 450.2 L838.7 447.8 L839.7 445.3 L840.7 442.7 L841.7 440.1 L842.7 437.3 L843.7 434.5 L844.7 431.6 L845.7 428.6 L846.7 425.5 L847.7 422.3 L848.7 419 L849.7 415.6 L850.7 412.1 L851.7 408.5 L852.7 404.8 L853.7 401.1 L854.7 397.2 L855.7 393.3 L856.7 389.2 L857.7 385.1 L858.7 380.8 L859.7 376.5 L860.7 372.1 L861.7 367.6 L862.7 363 L863.7 358.3 L864.7 353.5 L865.7 348.7 L866.7 343.7 L867.7 338.7 L868.7 333.6 L869.7 328.4 L870.7 323.2 L871.7 317.9 L872.7 312.5 L873.7 307 L874.7 301.5 L875.7 295.9 L876.7 290.3 L877.7 284.6 L878.7 278.9 L879.7 273.1 L880.7 267.3 L881.7 261.5 L882.7 255.6 L883.7 249.7 L884.7 243.8 L885.7 237.9 L886.7 231.9 L887.7 226 L888.7 220 L889.7 214 L890.7 208.1 L891.7 202.1 L892.7 196.2 L893.7 190.3 L894.7 184.4 L895.7 178.6 L896.7 172.8 L897.7 167 L898.7 161.3 L899.7 155.7 L900.7 150.1 L901.7 144.5 L902.7 139.1 L903.7 133.7 L904.7 128.4 L905.7 123.2 L906.7 118.1 L907.7 113.1 L908.7 108.2 L909.7 103.3 L910.7 98.7 L911.7 94.1 L912.7 89.6 L913.7 85.3 L914.7 81.1 L915.7 77 L916.7 73.1 L917.7 69.3 L918.7 65.7 L919.7 62.2 L920.7 58.9 L921.7 55.7 L922.7 52.7 L923.7 49.9 L924.7 47.2 L925.7 44.6 L926.7 42.3 L927.7 40.1 L928.7 38.1 L929.7 36.3 L930.7 34.6 L931.7 33.1 L932.7 31.8 L933.7 30.7 L934.7 29.7 L935.7 28.9 L936.7 28.3 L937.7 27.8 L938.7 27.6 L939.7 27.5 L940.7 27.5 L941.7 27.8 L942.7 28.2 L943.7 28.7 L944.7 29.5 L945.7 30.4 L946.7 31.4 L947.7 32.6 L948.7 33.9 L949.7 35.4 L950.7 37.1 L951.7 38.8 L952.7 40.8 L953.7 42.8 L954.7 45 L955.7 47.3 L956.7 49.7 L957.7 52.2 L958.7 54.9 L959.7 57.6 L960.7 60.5 L961.7 63.5 L962.7 66.5 L963.7 69.7 L964.7 72.9 L965.7 76.2 L966.7 79.6 L967.7 83 L968.7 86.6 L969.7 90.2 L970.7 93.8 L971.7 97.5 L972.7 101.3 L973.7 105.1 L974.7 108.9 L975.7 112.8 L976.7 116.7 L977.7 120.6 L978.7 124.6 L979.7 128.6 L980.7 132.6 L981.7 136.6 L982.7 140.7 L983.7 144.7 L984.7 148.8 L985.7 152.8 L986.7 156.9 L987.7 161 L988.7 165 L989.7 169.1 L990.7 173.1 L991.7 177.1 L992.7 181.1 L993.7 185.1 L994.7 189.1 L995.7 193 L996.7 197 L997.7 200.9 L998.7 204.8 L999.7 208.6 L1000.7 212.5 L1001.7 216.3 L1002.7 220.1 L1003.7 223.8 L1004.7 227.5 L1005.7 231.2 L1006.7 234.9 L1007.7 238.5 L1008.7 242.1 L1009.7 245.7 L1010.7 249.2 L1011.7 252.7 L1012.7 256.2 L1013.7 259.6 L1014.7 263 L1015.7 266.4 L1016.7 269.7 L1017.7 273 L1018.7 276.3 L1019.7 279.6 L1020.7 282.8 L1021.7 286 L1022.7 289.1 L1023.7 292.3 L1024.7 295.4 L1025.7 298.5 L1026.7 301.5 L1027.7 304.5 L1028.7 307.5 L1029.7 310.5 L1030.7 313.5 L1031.7 316.4 L1032.7 319.3 L1033.7 322.2 L1034.7 325 L1035.7 327.9 L1036.7 330.7 L1037.7 333.5 L1038.7 336.3 L1039.7 339 L1040.7 341.7 L1041.7 344.5 L1042.7 347.1 L1043.7 349.8 L1044.7 352.5 L1045.7 355.1 L1046.7 357.7 L1047.7 360.3 L1048.7 362.9 L1049.7 365.5 L1050.7 368 L1051.7 370.6 L1052.7 373.1 L1053.7 375.6 L1054.7 378 L1055.7 380.5 L1056.7 382.9 L1057.7 385.4 L1058.7 387.8 L1059.7 390.1 L1060.7 392.5 L1061.7 394.9 L1062.7 397.2 L1063.7 399.5 L1064.7 401.8 L1065.7 404 L1066.7 406.3 L1067.7 408.5 L1068.7 410.7 L1069.7 412.9 L1070.7 415.1 L1071.7 417.2 L1072.7 419.3 L1073.7 421.4 L1074.7 423.5 L1075.7 425.5 L1076.7 427.5 L1077.7 429.5 L1078.7 431.5 L1079.7 433.5 L1080.7 435.4 L1081.7 437.3 L1082.7 439.1 L1083.7 441 L1084.7 442.8 L1085.7 444.6 L1086.7 446.3 L1087.7 448.1 L1088.7 449.8 L1089.7 451.4 L1090.7 453.1 L1091.7 454.7 L1092.7 456.3 L1093.7 457.9 L1094.7 459.4 L1095.7 460.9 L1096.7 462.4 L1097.7 463.8 L1098.7 465.2 L1099.7 466.6 L1100.7 468 L1101.7 469.3 L1102.7 470.6 L1103.7 471.9 L1104.7 473.1 L1105.7 474.3 L1106.7 475.5 L1107.7 476.6 L1108.7 477.8 L1109.7 478.9 L1110.7 479.9 L1111.7 481 L1112.7 482 L1113.7 483 L1114.7 483.9 L1115.7 484.9 L1116.7 485.8 L1117.7 486.6 L1118.7 487.5 L1119.7 488.3 L1120.7 489.1 L1121.7 489.9 L1122.7 490.7 L1123.7 491.4 L1124.7 492.1 L1125.7 492.8 L1126.7 493.5 L1127.7 494.1 L1128.7 494.7 L1129.7 495.3 L1130.7 495.9 L1131.7 496.5 L1132.7 497 L1133.7 497.5 L1134.7 498 L1135.7 498.5 L1136.7 499 L1137.7 499.4 L1138.7 499.8 L1139.7 500.3 L1140.7 500.7 L1141.7 501 L1142.7 501.4 L1143.7 501.8 L1144.7 502.1 L1145.7 502.4 L1146.7 502.7 L1147.7 503 L1148.7 503.3 L1149.7 503.6 L1150.7 503.8 L1151.7 504.1 L1152.7 504.3 L1153.7 504.6 L1154.7 504.8 L1155.7 505 L1156.7 505.2 L1157.7 505.4 L1158.7 505.5 L1159.7 505.7 L1160.7 505.9 L1161.7 506 L1162.7 506.2 L1163.7 506.3 L1164.7 506.5 L1165.7 506.6 L1166.7 506.7 L1167.7 506.8 L1168.7 506.9 L1169.7 507 L1170.7 507.1 L1171.7 507.2 L1172.7 507.3 L1173.7 507.4 L1174.7 507.5 L1175.7 507.5 L1176.7 507.6 L1177.7 507.7 L1178.7 507.7 L1179.7 507.8 L1180.7 507.9 L1181.7 507.9 L1182.7 508 L1183.7 508 L1184.7 508.1 L1185.7 508.1 L1186.7 508.1 L1187.7 508.2 L1188.7 508.2 L1189.7 508.2 L1190.7 508.3 L1191.7 508.3 L1192.7 508.3 L1193.7 508.3 L1194.7 508.4 L1195.7 508.4 L1196.7 508.4 L1197.7 508.4 L1198.7 508.5 L1199.7 508.5 L1200.7 508.5 L1201.7 508.5 L1202.7 508.5 L1203.7 508.5 L1204.7 508.5 L1205.7 508.6 L1206.7 508.6 L1207.7 508.6 L1208.7 508.6 L1209.7 508.6 L1210.7 508.6 L1211.7 508.6 L1212.7 508.6 L1213.7 508.6 L1214.7 508.6 L1215.7 508.6 L1216.7 508.6 L1217.7 508.6 L1218.7 508.6 L1219.7 508.7 L1220.7 508.7 L1221.7 508.7 L1222.7 508.7 L1223.7 508.7 L1224.7 508.7 L1225.7 508.7 L1226.7 508.7 L1227.7 508.7 L1228.7 508.7 L1229.7 508.7 L1230.7 508.7 L1231.7 508.7 L1232.7 508.7 L1233.7 508.7 L1234.7 508.7 L1235.7 508.7 L1236.7 508.7 L1237.7 508.7 L1238.7 508.7 L1239.7 508.7 L1240.7 508.7 L1241.7 508.7 L1242.7 508.7 L1243.7 508.7 L1244.7 508.7 L1245.7 508.7 L1246.7 508.7 L1247.7 508.7 L1248.7 508.7 L1249.7 508.7 L1250.7 508.7 L1251.7 508.7 L1252.7 508.7 L1253.7 508.7 L1254.7 508.7 L1255.7 508.7 L1256.7 508.7 L1257.7 508.7 L1258.7 508.7 L1259.7 508.7 L1260.7 508.7 L1261.7 508.7 L1262.7 508.7 L1263.7 508.7 L1264.7 508.7 L1265.7 508.7 L1266.7 508.7 L1267.7 508.7 L1268.7 508.7 L1269.7 508.7 L1270.7 508.7 L1271.7 508.7 L1272.7 508.7 L1273.7 508.7" fill="none" stroke="#333333" stroke-width="1.7"/>
</g>
<path d="M721.7 516.7 V-1.2 H1273.8 V513.7" fill="none" stroke="#666666" stroke-width="1.8"/>
<path d="M721.7 508.7 H1273.8" fill="none" stroke="#3a3a3a" stroke-width="1.8"/>
<path d="M721.7 423.8 h15 M721.7 338.9 h15 M721.7 254 h15 M721.7 169.1 h15 M721.7 84.2 h15" stroke="#5a5a5a" stroke-width="1.9"/>
<path d="M800.6 508.7 v5 M879.4 508.7 v8 M958.2 508.7 v5 M1037.1 508.7 v8 M1116 508.7 v5 M1194.8 508.7 v8" stroke="#666666" stroke-width="1.6"/>
<g fill="#1e1e1e"><circle cx="741.4" cy="507.3" r="6.2"/><circle cx="751.3" cy="504.5" r="6.2"/><circle cx="761.1" cy="507.3" r="6.2"/><circle cx="780.8" cy="507.3" r="6.2"/><circle cx="790.7" cy="502.3" r="6.2"/><circle cx="800.5" cy="496" r="6.2"/><circle cx="810.4" cy="487.6" r="6.2"/><circle cx="820.3" cy="477.7" r="6.2"/><circle cx="830.1" cy="468.6" r="6.2"/><circle cx="840" cy="448.2" r="6.2"/><circle cx="849.8" cy="421.9" r="6.2"/><circle cx="859.7" cy="386.5" r="6.2"/><circle cx="869.5" cy="342.6" r="6.2"/><circle cx="879.4" cy="290.4" r="6.2"/><circle cx="889.3" cy="232.9" r="6.2"/><circle cx="899.1" cy="172.9" r="6.2"/><circle cx="909" cy="111.7" r="6.2"/><circle cx="918.8" cy="68.3" r="6.2"/><circle cx="928.7" cy="42.4" r="6.2"/><circle cx="938.5" cy="42.6" r="6.2"/><circle cx="948.4" cy="35.8" r="6.2"/><circle cx="958.2" cy="37.1" r="6.2"/><circle cx="968.1" cy="48.8" r="6.2"/><circle cx="978" cy="90" r="6.2"/><circle cx="987.8" cy="134.5" r="6.2"/><circle cx="997.7" cy="184.1" r="6.2"/><circle cx="1007.5" cy="223.7" r="6.2"/><circle cx="1017.4" cy="265" r="6.2"/><circle cx="1027.2" cy="305.5" r="6.2"/><circle cx="1037.1" cy="343.6" r="6.2"/><circle cx="1046.9" cy="375.3" r="6.2"/><circle cx="1056.8" cy="405.2" r="6.2"/><circle cx="1066.7" cy="429.7" r="6.2"/><circle cx="1076.5" cy="451" r="6.2"/><circle cx="1086.4" cy="467.9" r="6.2"/><circle cx="1096.2" cy="479.5" r="6.2"/><circle cx="1106.1" cy="484.2" r="6.2"/><circle cx="1115.9" cy="490.2" r="6.2"/><circle cx="1125.8" cy="495.7" r="6.2"/><circle cx="1135.7" cy="502.1" r="6.2"/><circle cx="1145.5" cy="499.8" r="6.2"/><circle cx="1155.4" cy="500.2" r="6.2"/><circle cx="1165.2" cy="500.2" r="6.2"/><circle cx="1175.1" cy="504" r="6.2"/><circle cx="1184.9" cy="506.9" r="6.2"/><circle cx="1194.8" cy="508" r="6.2"/><circle cx="1204.6" cy="501.7" r="6.2"/><circle cx="1214.5" cy="498.6" r="6.2"/><circle cx="1224.4" cy="500.2" r="6.2"/><circle cx="1234.2" cy="506.4" r="6.2"/><circle cx="1244.1" cy="506.4" r="6.2"/><circle cx="1253.9" cy="504.8" r="6.2"/><circle cx="1263.8" cy="504.8" r="6.2"/><circle cx="1273.6" cy="507.2" r="6.2"/></g>
<text x="721.7" y="558.2" font-size="31" fill="#262626" text-anchor="middle" textLength="48" lengthAdjust="spacingAndGlyphs">100</text>
<text x="879.4" y="558.2" font-size="31" fill="#262626" text-anchor="middle" textLength="48" lengthAdjust="spacingAndGlyphs">102</text>
<text x="1037.1" y="558.2" font-size="31" fill="#262626" text-anchor="middle" textLength="48" lengthAdjust="spacingAndGlyphs">104</text>
<text x="1194.8" y="558.2" font-size="31" fill="#262626" text-anchor="middle" textLength="48" lengthAdjust="spacingAndGlyphs">106</text>
<clipPath id="clipc"><rect x="84.6" y="593.7" width="552" height="509.9"/></clipPath>
<g clip-path="url(#clipc)">
<path d="M84.6 1103.6 L84.6 1103.6 85.6 1103.6 86.6 1103.6 87.6 1103.6 88.6 1103.6 89.6 1103.6 90.6 1103.6 91.6 1103.6 92.6 1103.6 93.6 1103.6 94.6 1103.6 95.6 1103.6 96.6 1103.6 97.6 1103.6 98.6 1103.6 99.6 1103.6 100.6 1103.6 101.6 1103.6 102.6 1103.6 103.6 1103.6 104.6 1103.6 105.6 1103.6 106.6 1103.6 107.6 1103.6 108.6 1103.6 109.6 1103.6 110.6 1103.6 111.6 1103.6 112.6 1103.6 113.6 1103.6 114.6 1103.6 115.6 1103.6 116.6 1103.6 117.6 1103.6 118.6 1103.6 119.6 1103.6 120.6 1103.6 121.6 1103.6 122.6 1103.6 123.6 1103.6 124.6 1103.6 125.6 1103.6 126.6 1103.6 127.6 1103.6 128.6 1103.6 129.6 1103.6 130.6 1103.6 131.6 1103.6 132.6 1103.6 133.6 1103.6 134.6 1103.6 135.6 1103.6 136.6 1103.6 137.6 1103.6 138.6 1103.6 139.6 1103.6 140.6 1103.6 141.6 1103.6 142.6 1103.6 143.6 1103.6 144.6 1103.6 145.6 1103.6 146.6 1103.6 147.6 1103.6 148.6 1103.6 149.6 1103.6 150.6 1103.6 151.6 1103.6 152.6 1103.6 153.6 1103.6 154.6 1103.6 155.6 1103.6 156.6 1103.5 157.6 1103.5 158.6 1103.5 159.6 1103.5 160.6 1103.5 161.6 1103.5 162.6 1103.5 163.6 1103.5 164.6 1103.5 165.6 1103.5 166.6 1103.5 167.6 1103.5 168.6 1103.5 169.6 1103.5 170.6 1103.4 171.6 1103.4 172.6 1103.4 173.6 1103.4 174.6 1103.4 175.6 1103.4 176.6 1103.4 177.6 1103.3 178.6 1103.3 179.6 1103.3 180.6 1103.3 181.6 1103.3 182.6 1103.2 183.6 1103.2 184.6 1103.2 185.6 1103.2 186.6 1103.1 187.6 1103.1 188.6 1103.1 189.6 1103 190.6 1103 191.6 1102.9 192.6 1102.9 193.6 1102.8 194.6 1102.8 195.6 1102.7 196.6 1102.7 197.6 1102.6 198.6 1102.6 199.6 1102.5 200.6 1102.4 201.6 1102.4 202.6 1102.3 203.6 1102.2 204.6 1102.1 205.6 1102 206.6 1101.9 207.6 1101.8 208.6 1101.7 209.6 1101.6 210.6 1101.4 211.6 1101.3 212.6 1101.2 213.6 1101 214.6 1100.9 215.6 1100.7 216.6 1100.5 217.6 1100.4 218.6 1100.2 219.6 1100 220.6 1099.8 221.6 1099.5 222.6 1099.3 223.6 1099.1 224.6 1098.8 225.6 1098.5 226.6 1098.2 227.6 1097.9 228.6 1097.6 229.6 1097.3 230.6 1097 231.6 1096.6 232.6 1096.2 233.6 1095.8 234.6 1095.4 235.6 1095 236.6 1094.6 237.6 1094.1 238.6 1093.6 239.6 1093.1 240.6 1092.6 241.6 1092 242.6 1091.4 243.6 1090.8 244.6 1090.2 245.6 1089.5 246.6 1088.8 247.6 1088.1 248.6 1087.4 249.6 1086.6 250.6 1085.8 251.6 1085 252.6 1084.1 253.6 1083.2 254.6 1082.2 255.6 1081.3 256.6 1080.3 257.6 1079.2 258.6 1078.1 259.6 1077 260.6 1075.8 261.6 1074.6 262.6 1073.4 263.6 1072.1 264.6 1070.8 265.6 1069.4 266.6 1068 267.6 1066.5 268.6 1065 269.6 1063.4 270.6 1061.8 271.6 1060.1 272.6 1058.4 273.6 1056.6 274.6 1054.7 275.6 1052.9 276.6 1050.9 277.6 1048.9 278.6 1046.9 279.6 1044.8 280.6 1042.6 281.6 1040.4 282.6 1038.1 283.6 1035.7 284.6 1033.3 285.6 1030.8 286.6 1028.3 287.6 1025.7 288.6 1023 289.6 1020.3 290.6 1017.5 291.6 1014.7 292.6 1011.8 293.6 1008.8 294.6 1005.8 295.6 1002.7 296.6 999.5 297.6 996.3 298.6 993 299.6 989.6 300.6 986.2 301.6 982.7 302.6 979.2 303.6 975.6 304.6 971.9 305.6 968.2 306.6 964.4 307.6 960.6 308.6 956.7 309.6 952.7 310.6 948.7 311.6 944.6 312.6 940.5 313.6 936.3 314.6 932.1 315.6 927.9 316.6 923.6 317.6 919.2 318.6 914.8 319.6 910.4 320.6 905.9 321.6 901.4 322.6 896.8 323.6 892.3 324.6 887.7 325.6 883 326.6 878.4 327.6 873.7 328.6 869 329.6 864.3 330.6 859.6 331.6 854.8 332.6 850.1 333.6 845.3 334.6 840.6 335.6 835.8 336.6 831.1 337.6 826.3 338.6 821.6 339.6 816.9 340.6 812.2 341.6 807.6 342.6 802.9 343.6 798.3 344.6 793.7 345.6 789.2 346.6 784.7 347.6 780.2 348.6 775.8 349.6 771.4 350.6 767.1 351.6 762.9 352.6 758.7 353.6 754.5 354.6 750.5 355.6 746.5 356.6 742.6 357.6 738.7 358.6 735 359.6 731.3 360.6 727.7 361.6 724.3 362.6 720.9 363.6 717.6 364.6 714.4 365.6 711.3 366.6 708.3 367.6 705.5 368.6 702.7 369.6 700.1 370.6 697.5 371.6 695.1 372.6 692.9 373.6 690.7 374.6 688.7 375.6 686.8 376.6 685 377.6 683.4 378.6 681.9 379.6 680.5 380.6 679.3 381.6 678.2 382.6 677.2 383.6 676.4 384.6 675.8 385.6 675.2 386.6 674.8 387.6 674.6 388.6 674.5 389.6 674.5 390.6 674.7 391.6 675.1 392.6 675.5 393.6 676.1 394.6 676.9 395.6 677.8 396.6 678.8 397.6 680 398.6 681.3 399.6 682.8 400.6 684.3 401.6 686.1 402.6 687.9 403.6 689.9 404.6 692 405.6 694.2 406.6 696.6 407.6 699 408.6 701.6 409.6 704.3 410.6 707.2 411.6 710.1 412.6 713.1 413.6 716.3 414.6 719.5 415.6 722.9 416.6 726.3 417.6 729.9 418.6 733.5 419.6 737.2 420.6 741 421.6 744.9 422.6 748.9 423.6 752.9 424.6 757 425.6 761.2 426.6 765.4 427.6 769.7 428.6 774 429.6 778.4 430.6 782.9 431.6 787.4 432.6 791.9 433.6 796.5 434.6 801.1 435.6 805.7 436.6 810.4 437.6 815 438.6 819.7 439.6 824.5 440.6 829.2 441.6 833.9 442.6 838.7 443.6 843.4 444.6 848.2 445.6 852.9 446.6 857.7 447.6 862.4 448.6 867.1 449.6 871.8 450.6 876.5 451.6 881.2 452.6 885.8 453.6 890.4 454.6 895 455.6 899.6 456.6 904.1 457.6 908.6 458.6 913 459.6 917.5 460.6 921.8 461.6 926.2 462.6 930.4 463.6 934.7 464.6 938.9 465.6 943 466.6 947.1 467.6 951.1 468.6 955.1 469.6 959 470.6 962.9 471.6 966.7 472.6 970.4 473.6 974.1 474.6 977.7 475.6 981.3 476.6 984.8 477.6 988.3 478.6 991.6 479.6 995 480.6 998.2 481.6 1001.4 482.6 1004.5 483.6 1007.6 484.6 1010.6 485.6 1013.5 486.6 1016.4 487.6 1019.2 488.6 1022 489.6 1024.7 490.6 1027.3 491.6 1029.8 492.6 1032.3 493.6 1034.8 494.6 1037.1 495.6 1039.4 496.6 1041.7 497.6 1043.9 498.6 1046 499.6 1048.1 500.6 1050.1 501.6 1052.1 502.6 1054 503.6 1055.9 504.6 1057.7 505.6 1059.4 506.6 1061.1 507.6 1062.7 508.6 1064.3 509.6 1065.9 510.6 1067.4 511.6 1068.8 512.6 1070.2 513.6 1071.6 514.6 1072.9 515.6 1074.1 516.6 1075.4 517.6 1076.5 518.6 1077.7 519.6 1078.8 520.6 1079.9 521.6 1080.9 522.6 1081.9 523.6 1082.8 524.6 1083.7 525.6 1084.6 526.6 1085.5 527.6 1086.3 528.6 1087.1 529.6 1087.8 530.6 1088.5 531.6 1089.2 532.6 1089.9 533.6 1090.6 534.6 1091.2 535.6 1091.8 536.6 1092.3 537.6 1092.9 538.6 1093.4 539.6 1093.9 540.6 1094.4 541.6 1094.8 542.6 1095.3 543.6 1095.7 544.6 1096.1 545.6 1096.5 546.6 1096.8 547.6 1097.2 548.6 1097.5 549.6 1097.8 550.6 1098.1 551.6 1098.4 552.6 1098.7 553.6 1099 554.6 1099.2 555.6 1099.4 556.6 1099.7 557.6 1099.9 558.6 1100.1 559.6 1100.3 560.6 1100.5 561.6 1100.6 562.6 1100.8 563.6 1101 564.6 1101.1 565.6 1101.3 566.6 1101.4 567.6 1101.5 568.6 1101.6 569.6 1101.7 570.6 1101.9 571.6 1102 572.6 1102.1 573.6 1102.1 574.6 1102.2 575.6 1102.3 576.6 1102.4 577.6 1102.5 578.6 1102.5 579.6 1102.6 580.6 1102.7 581.6 1102.7 582.6 1102.8 583.6 1102.8 584.6 1102.9 585.6 1102.9 586.6 1103 587.6 1103 588.6 1103 589.6 1103.1 590.6 1103.1 591.6 1103.1 592.6 1103.2 593.6 1103.2 594.6 1103.2 595.6 1103.3 596.6 1103.3 597.6 1103.3 598.6 1103.3 599.6 1103.3 600.6 1103.4 601.6 1103.4 602.6 1103.4 603.6 1103.4 604.6 1103.4 605.6 1103.4 606.6 1103.4 607.6 1103.5 608.6 1103.5 609.6 1103.5 610.6 1103.5 611.6 1103.5 612.6 1103.5 613.6 1103.5 614.6 1103.5 615.6 1103.5 616.6 1103.5 617.6 1103.5 618.6 1103.5 619.6 1103.5 620.6 1103.5 621.6 1103.5 622.6 1103.6 623.6 1103.6 624.6 1103.6 625.6 1103.6 626.6 1103.6 627.6 1103.6 628.6 1103.6 629.6 1103.6 630.6 1103.6 631.6 1103.6 632.6 1103.6 633.6 1103.6 634.6 1103.6 635.6 1103.6 636.6 1103.6 L636.6 1103.6 Z" fill="#dad9a6"/>
<path d="M84.6 1103.6 L84.6 1103.6 85.6 1103.6 86.6 1103.6 87.6 1103.6 88.6 1103.6 89.6 1103.6 90.6 1103.6 91.6 1103.6 92.6 1103.6 93.6 1103.6 94.6 1103.6 95.6 1103.6 96.6 1103.6 97.6 1103.6 98.6 1103.6 99.6 1103.6 100.6 1103.6 101.6 1103.6 102.6 1103.6 103.6 1103.6 104.6 1103.6 105.6 1103.6 106.6 1103.6 107.6 1103.6 108.6 1103.6 109.6 1103.6 110.6 1103.6 111.6 1103.6 112.6 1103.6 113.6 1103.6 114.6 1103.6 115.6 1103.6 116.6 1103.6 117.6 1103.6 118.6 1103.6 119.6 1103.6 120.6 1103.6 121.6 1103.6 122.6 1103.6 123.6 1103.6 124.6 1103.6 125.6 1103.6 126.6 1103.6 127.6 1103.6 128.6 1103.6 129.6 1103.6 130.6 1103.6 131.6 1103.6 132.6 1103.6 133.6 1103.6 134.6 1103.6 135.6 1103.6 136.6 1103.6 137.6 1103.6 138.6 1103.6 139.6 1103.6 140.6 1103.6 141.6 1103.6 142.6 1103.6 143.6 1103.6 144.6 1103.6 145.6 1103.6 146.6 1103.6 147.6 1103.6 148.6 1103.6 149.6 1103.6 150.6 1103.6 151.6 1103.6 152.6 1103.6 153.6 1103.6 154.6 1103.6 155.6 1103.6 156.6 1103.6 157.6 1103.6 158.6 1103.6 159.6 1103.6 160.6 1103.6 161.6 1103.6 162.6 1103.6 163.6 1103.6 164.6 1103.6 165.6 1103.6 166.6 1103.6 167.6 1103.6 168.6 1103.6 169.6 1103.6 170.6 1103.6 171.6 1103.6 172.6 1103.6 173.6 1103.6 174.6 1103.6 175.6 1103.6 176.6 1103.6 177.6 1103.6 178.6 1103.6 179.6 1103.6 180.6 1103.6 181.6 1103.6 182.6 1103.6 183.6 1103.6 184.6 1103.6 185.6 1103.6 186.6 1103.6 187.6 1103.6 188.6 1103.6 189.6 1103.6 190.6 1103.6 191.6 1103.6 192.6 1103.6 193.6 1103.6 194.6 1103.6 195.6 1103.6 196.6 1103.6 197.6 1103.6 198.6 1103.6 199.6 1103.6 200.6 1103.6 201.6 1103.6 202.6 1103.6 203.6 1103.6 204.6 1103.6 205.6 1103.6 206.6 1103.6 207.6 1103.6 208.6 1103.6 209.6 1103.6 210.6 1103.6 211.6 1103.6 212.6 1103.6 213.6 1103.6 214.6 1103.6 215.6 1103.6 216.6 1103.6 217.6 1103.6 218.6 1103.6 219.6 1103.6 220.6 1103.6 221.6 1103.6 222.6 1103.6 223.6 1103.6 224.6 1103.6 225.6 1103.6 226.6 1103.6 227.6 1103.6 228.6 1103.6 229.6 1103.6 230.6 1103.6 231.6 1103.6 232.6 1103.6 233.6 1103.6 234.6 1103.6 235.6 1103.6 236.6 1103.6 237.6 1103.6 238.6 1103.6 239.6 1103.6 240.6 1103.6 241.6 1103.6 242.6 1103.6 243.6 1103.6 244.6 1103.6 245.6 1103.6 246.6 1103.6 247.6 1103.6 248.6 1103.6 249.6 1103.6 250.6 1103.6 251.6 1103.6 252.6 1103.6 253.6 1103.6 254.6 1103.6 255.6 1103.6 256.6 1103.6 257.6 1103.6 258.6 1103.6 259.6 1103.6 260.6 1103.5 261.6 1103.5 262.6 1103.5 263.6 1103.5 264.6 1103.5 265.6 1103.5 266.6 1103.5 267.6 1103.5 268.6 1103.5 269.6 1103.5 270.6 1103.5 271.6 1103.5 272.6 1103.5 273.6 1103.5 274.6 1103.5 275.6 1103.4 276.6 1103.4 277.6 1103.4 278.6 1103.4 279.6 1103.4 280.6 1103.4 281.6 1103.4 282.6 1103.4 283.6 1103.3 284.6 1103.3 285.6 1103.3 286.6 1103.3 287.6 1103.3 288.6 1103.3 289.6 1103.2 290.6 1103.2 291.6 1103.2 292.6 1103.2 293.6 1103.1 294.6 1103.1 295.6 1103.1 296.6 1103 297.6 1103 298.6 1103 299.6 1102.9 300.6 1102.9 301.6 1102.8 302.6 1102.8 303.6 1102.7 304.6 1102.7 305.6 1102.6 306.6 1102.6 307.6 1102.5 308.6 1102.5 309.6 1102.4 310.6 1102.3 311.6 1102.3 312.6 1102.2 313.6 1102.1 314.6 1102 315.6 1101.9 316.6 1101.8 317.6 1101.7 318.6 1101.6 319.6 1101.5 320.6 1101.4 321.6 1101.3 322.6 1101.2 323.6 1101.1 324.6 1100.9 325.6 1100.8 326.6 1100.6 327.6 1100.5 328.6 1100.3 329.6 1100.2 330.6 1100 331.6 1099.8 332.6 1099.6 333.6 1099.4 334.6 1099.2 335.6 1099 336.6 1098.8 337.6 1098.6 338.6 1098.4 339.6 1098.1 340.6 1097.9 341.6 1097.6 342.6 1097.3 343.6 1097 344.6 1096.7 345.6 1096.4 346.6 1096.1 347.6 1095.8 348.6 1095.5 349.6 1095.1 350.6 1094.7 351.6 1094.4 352.6 1094 353.6 1093.6 354.6 1093.2 355.6 1092.7 356.6 1092.3 357.6 1091.8 358.6 1091.4 359.6 1090.9 360.6 1090.4 361.6 1089.9 362.6 1089.3 363.6 1088.8 364.6 1088.2 365.6 1087.7 366.6 1087.1 367.6 1086.5 368.6 1085.8 369.6 1085.2 370.6 1084.5 371.6 1083.9 372.6 1083.2 373.6 1082.5 374.6 1081.7 375.6 1081 376.6 1080.2 377.6 1079.5 378.6 1078.7 379.6 1077.9 380.6 1077 381.6 1076.2 382.6 1075.3 383.6 1074.4 384.6 1073.5 385.6 1072.6 386.6 1071.7 387.6 1070.7 388.6 1069.8 389.6 1068.8 390.6 1067.8 391.6 1066.8 392.6 1065.7 393.6 1064.7 394.6 1063.6 395.6 1062.5 396.6 1061.5 397.6 1060.3 398.6 1059.2 399.6 1058.1 400.6 1056.9 401.6 1055.8 402.6 1054.6 403.6 1053.4 404.6 1052.2 405.6 1051 406.6 1049.8 407.6 1048.6 408.6 1047.3 409.6 1046.1 410.6 1044.8 411.6 1043.6 412.6 1042.3 413.6 1041 414.6 1039.8 415.6 1038.5 416.6 1037.2 417.6 1035.9 418.6 1034.6 419.6 1033.3 420.6 1032.1 421.6 1030.8 422.6 1029.5 423.6 1028.2 424.6 1026.9 425.6 1025.6 426.6 1024.4 427.6 1023.1 428.6 1021.9 429.6 1020.6 430.6 1019.4 431.6 1018.2 432.6 1017 433.6 1015.8 434.6 1014.6 435.6 1013.4 436.6 1012.2 437.6 1011.1 438.6 1010 439.6 1008.9 440.6 1007.8 441.6 1006.7 442.6 1005.7 443.6 1004.7 444.6 1003.7 445.6 1002.7 446.6 1001.7 447.6 1000.8 448.6 999.9 449.6 999 450.6 998.2 451.6 997.4 452.6 996.6 453.6 995.9 454.6 995.1 455.6 994.5 456.6 993.8 457.6 993.2 458.6 992.6 459.6 992 460.6 991.5 461.6 991 462.6 990.6 463.6 990.2 464.6 989.8 465.6 989.5 466.6 989.2 467.6 988.9 468.6 988.7 469.6 988.5 470.6 988.4 471.6 988.3 472.6 988.2 473.6 988.2 474.6 988.2 475.6 988.3 476.6 988.4 477.6 988.5 478.6 988.7 479.6 988.9 480.6 989.1 481.6 989.4 482.6 989.7 483.6 990.1 484.6 990.5 485.6 990.9 486.6 991.4 487.6 991.9 488.6 992.4 489.6 993 490.6 993.6 491.6 994.3 492.6 994.9 493.6 995.6 494.6 996.4 495.6 997.2 496.6 998 497.6 998.8 498.6 999.7 499.6 1000.5 500.6 1001.5 501.6 1002.4 502.6 1003.4 503.6 1004.4 504.6 1005.4 505.6 1006.4 506.6 1007.5 507.6 1008.5 508.6 1009.6 509.6 1010.8 510.6 1011.9 511.6 1013 512.6 1014.2 513.6 1015.4 514.6 1016.6 515.6 1017.8 516.6 1019 517.6 1020.3 518.6 1021.5 519.6 1022.7 520.6 1024 521.6 1025.3 522.6 1026.5 523.6 1027.8 524.6 1029.1 525.6 1030.4 526.6 1031.7 527.6 1033 528.6 1034.2 529.6 1035.5 530.6 1036.8 531.6 1038.1 532.6 1039.4 533.6 1040.7 534.6 1041.9 535.6 1043.2 536.6 1044.5 537.6 1045.7 538.6 1047 539.6 1048.2 540.6 1049.4 541.6 1050.6 542.6 1051.9 543.6 1053.1 544.6 1054.2 545.6 1055.4 546.6 1056.6 547.6 1057.7 548.6 1058.9 549.6 1060 550.6 1061.1 551.6 1062.2 552.6 1063.3 553.6 1064.4 554.6 1065.4 555.6 1066.5 556.6 1067.5 557.6 1068.5 558.6 1069.5 559.6 1070.4 560.6 1071.4 561.6 1072.3 562.6 1073.3 563.6 1074.2 564.6 1075 565.6 1075.9 566.6 1076.8 567.6 1077.6 568.6 1078.4 569.6 1079.2 570.6 1080 571.6 1080.8 572.6 1081.5 573.6 1082.2 574.6 1083 575.6 1083.7 576.6 1084.3 577.6 1085 578.6 1085.6 579.6 1086.3 580.6 1086.9 581.6 1087.5 582.6 1088.1 583.6 1088.6 584.6 1089.2 585.6 1089.7 586.6 1090.2 587.6 1090.7 588.6 1091.2 589.6 1091.7 590.6 1092.2 591.6 1092.6 592.6 1093 593.6 1093.4 594.6 1093.9 595.6 1094.2 596.6 1094.6 597.6 1095 598.6 1095.3 599.6 1095.7 600.6 1096 601.6 1096.3 602.6 1096.6 603.6 1096.9 604.6 1097.2 605.6 1097.5 606.6 1097.8 607.6 1098 608.6 1098.3 609.6 1098.5 610.6 1098.7 611.6 1099 612.6 1099.2 613.6 1099.4 614.6 1099.6 615.6 1099.8 616.6 1099.9 617.6 1100.1 618.6 1100.3 619.6 1100.4 620.6 1100.6 621.6 1100.7 622.6 1100.9 623.6 1101 624.6 1101.1 625.6 1101.3 626.6 1101.4 627.6 1101.5 628.6 1101.6 629.6 1101.7 630.6 1101.8 631.6 1101.9 632.6 1102 633.6 1102.1 634.6 1102.2 635.6 1102.2 636.6 1102.3 L636.6 1103.6 Z" fill="#8f8fa9"/>
<path d="M84.6 1103.6 L84.6 1103.4 85.6 1103.4 86.6 1103.4 87.6 1103.4 88.6 1103.4 89.6 1103.4 90.6 1103.4 91.6 1103.3 92.6 1103.3 93.6 1103.3 94.6 1103.3 95.6 1103.3 96.6 1103.3 97.6 1103.3 98.6 1103.3 99.6 1103.3 100.6 1103.3 101.6 1103.3 102.6 1103.3 103.6 1103.3 104.6 1103.3 105.6 1103.3 106.6 1103.3 107.6 1103.3 108.6 1103.3 109.6 1103.3 110.6 1103.3 111.6 1103.3 112.6 1103.3 113.6 1103.3 114.6 1103.3 115.6 1103.3 116.6 1103.3 117.6 1103.3 118.6 1103.2 119.6 1103.2 120.6 1103.2 121.6 1103.2 122.6 1103.2 123.6 1103.2 124.6 1103.2 125.6 1103.2 126.6 1103.2 127.6 1103.2 128.6 1103.2 129.6 1103.2 130.6 1103.2 131.6 1103.1 132.6 1103.1 133.6 1103.1 134.6 1103.1 135.6 1103.1 136.6 1103.1 137.6 1103.1 138.6 1103.1 139.6 1103 140.6 1103 141.6 1103 142.6 1103 143.6 1103 144.6 1102.9 145.6 1102.9 146.6 1102.9 147.6 1102.9 148.6 1102.8 149.6 1102.8 150.6 1102.8 151.6 1102.7 152.6 1102.7 153.6 1102.7 154.6 1102.6 155.6 1102.6 156.6 1102.5 157.6 1102.5 158.6 1102.4 159.6 1102.4 160.6 1102.3 161.6 1102.3 162.6 1102.2 163.6 1102.2 164.6 1102.1 165.6 1102 166.6 1101.9 167.6 1101.9 168.6 1101.8 169.6 1101.7 170.6 1101.6 171.6 1101.5 172.6 1101.4 173.6 1101.3 174.6 1101.1 175.6 1101 176.6 1100.9 177.6 1100.8 178.6 1100.6 179.6 1100.5 180.6 1100.3 181.6 1100.1 182.6 1100 183.6 1099.8 184.6 1099.6 185.6 1099.4 186.6 1099.2 187.6 1099 188.6 1098.7 189.6 1098.5 190.6 1098.2 191.6 1098 192.6 1097.7 193.6 1097.4 194.6 1097.1 195.6 1096.8 196.6 1096.5 197.6 1096.2 198.6 1095.8 199.6 1095.5 200.6 1095.1 201.6 1094.7 202.6 1094.3 203.6 1093.9 204.6 1093.5 205.6 1093 206.6 1092.5 207.6 1092.1 208.6 1091.6 209.6 1091.1 210.6 1090.5 211.6 1090 212.6 1089.4 213.6 1088.9 214.6 1088.3 215.6 1087.6 216.6 1087 217.6 1086.4 218.6 1085.7 219.6 1085 220.6 1084.3 221.6 1083.6 222.6 1082.9 223.6 1082.1 224.6 1081.3 225.6 1080.5 226.6 1079.7 227.6 1078.9 228.6 1078.1 229.6 1077.2 230.6 1076.3 231.6 1075.4 232.6 1074.5 233.6 1073.6 234.6 1072.7 235.6 1071.7 236.6 1070.8 237.6 1069.8 238.6 1068.8 239.6 1067.8 240.6 1066.8 241.6 1065.8 242.6 1064.7 243.6 1063.7 244.6 1062.6 245.6 1061.6 246.6 1060.5 247.6 1059.4 248.6 1058.3 249.6 1057.3 250.6 1056.2 251.6 1055.1 252.6 1054 253.6 1052.9 254.6 1051.8 255.6 1050.7 256.6 1049.6 257.6 1048.6 258.6 1047.5 259.6 1046.4 260.6 1045.4 261.6 1044.3 262.6 1043.3 263.6 1042.3 264.6 1041.2 265.6 1040.2 266.6 1039.3 267.6 1038.3 268.6 1037.3 269.6 1036.4 270.6 1035.5 271.6 1034.6 272.6 1033.8 273.6 1032.9 274.6 1032.1 275.6 1031.3 276.6 1030.6 277.6 1029.8 278.6 1029.1 279.6 1028.5 280.6 1027.8 281.6 1027.2 282.6 1026.7 283.6 1026.1 284.6 1025.6 285.6 1025.2 286.6 1024.8 287.6 1024.4 288.6 1024 289.6 1023.7 290.6 1023.4 291.6 1023.2 292.6 1023 293.6 1022.9 294.6 1022.8 295.6 1022.7 296.6 1022.7 297.6 1022.7 298.6 1022.8 299.6 1022.9 300.6 1023 301.6 1023.2 302.6 1023.4 303.6 1023.7 304.6 1024 305.6 1024.4 306.6 1024.8 307.6 1025.2 308.6 1025.6 309.6 1026.1 310.6 1026.7 311.6 1027.2 312.6 1027.8 313.6 1028.5 314.6 1029.1 315.6 1029.8 316.6 1030.6 317.6 1031.3 318.6 1032.1 319.6 1032.9 320.6 1033.8 321.6 1034.6 322.6 1035.5 323.6 1036.4 324.6 1037.3 325.6 1038.3 326.6 1039.3 327.6 1040.2 328.6 1041.2 329.6 1042.3 330.6 1043.3 331.6 1044.3 332.6 1045.4 333.6 1046.4 334.6 1047.5 335.6 1048.6 336.6 1049.6 337.6 1050.7 338.6 1051.8 339.6 1052.9 340.6 1054 341.6 1055.1 342.6 1056.2 343.6 1057.3 344.6 1058.3 345.6 1059.4 346.6 1060.5 347.6 1061.6 348.6 1062.6 349.6 1063.7 350.6 1064.7 351.6 1065.8 352.6 1066.8 353.6 1067.8 354.6 1068.8 355.6 1069.8 356.6 1070.8 357.6 1071.7 358.6 1072.7 359.6 1073.6 360.6 1074.5 361.6 1075.4 362.6 1076.3 363.6 1077.2 364.6 1078.1 365.6 1078.9 366.6 1079.7 367.6 1080.5 368.6 1081.3 369.6 1082.1 370.6 1082.9 371.6 1083.6 372.6 1084.3 373.6 1085 374.6 1085.7 375.6 1086.4 376.6 1087 377.6 1087.6 378.6 1088.3 379.6 1088.9 380.6 1089.4 381.6 1090 382.6 1090.5 383.6 1091.1 384.6 1091.6 385.6 1092.1 386.6 1092.5 387.6 1093 388.6 1093.5 389.6 1093.9 390.6 1094.3 391.6 1094.7 392.6 1095.1 393.6 1095.5 394.6 1095.8 395.6 1096.2 396.6 1096.5 397.6 1096.8 398.6 1097.1 399.6 1097.4 400.6 1097.7 401.6 1098 402.6 1098.2 403.6 1098.5 404.6 1098.7 405.6 1099 406.6 1099.2 407.6 1099.4 408.6 1099.6 409.6 1099.8 410.6 1100 411.6 1100.1 412.6 1100.3 413.6 1100.5 414.6 1100.6 415.6 1100.8 416.6 1100.9 417.6 1101 418.6 1101.1 419.6 1101.3 420.6 1101.4 421.6 1101.5 422.6 1101.6 423.6 1101.7 424.6 1101.8 425.6 1101.9 426.6 1101.9 427.6 1102 428.6 1102.1 429.6 1102.2 430.6 1102.2 431.6 1102.3 432.6 1102.3 433.6 1102.4 434.6 1102.4 435.6 1102.5 436.6 1102.5 437.6 1102.6 438.6 1102.6 439.6 1102.7 440.6 1102.7 441.6 1102.7 442.6 1102.8 443.6 1102.8 444.6 1102.8 445.6 1102.9 446.6 1102.9 447.6 1102.9 448.6 1102.9 449.6 1103 450.6 1103 451.6 1103 452.6 1103 453.6 1103 454.6 1103.1 455.6 1103.1 456.6 1103.1 457.6 1103.1 458.6 1103.1 459.6 1103.1 460.6 1103.1 461.6 1103.1 462.6 1103.2 463.6 1103.2 464.6 1103.2 465.6 1103.2 466.6 1103.2 467.6 1103.2 468.6 1103.2 469.6 1103.2 470.6 1103.2 471.6 1103.2 472.6 1103.2 473.6 1103.2 474.6 1103.2 475.6 1103.3 476.6 1103.3 477.6 1103.3 478.6 1103.3 479.6 1103.3 480.6 1103.3 481.6 1103.3 482.6 1103.3 483.6 1103.3 484.6 1103.3 485.6 1103.3 486.6 1103.3 487.6 1103.3 488.6 1103.3 489.6 1103.3 490.6 1103.3 491.6 1103.3 492.6 1103.3 493.6 1103.3 494.6 1103.3 495.6 1103.3 496.6 1103.3 497.6 1103.3 498.6 1103.3 499.6 1103.3 500.6 1103.3 501.6 1103.3 502.6 1103.4 503.6 1103.4 504.6 1103.4 505.6 1103.4 506.6 1103.4 507.6 1103.4 508.6 1103.4 509.6 1103.4 510.6 1103.4 511.6 1103.4 512.6 1103.4 513.6 1103.4 514.6 1103.4 515.6 1103.4 516.6 1103.4 517.6 1103.4 518.6 1103.4 519.6 1103.4 520.6 1103.4 521.6 1103.4 522.6 1103.4 523.6 1103.4 524.6 1103.4 525.6 1103.4 526.6 1103.4 527.6 1103.4 528.6 1103.4 529.6 1103.4 530.6 1103.4 531.6 1103.4 532.6 1103.4 533.6 1103.4 534.6 1103.4 535.6 1103.4 536.6 1103.4 537.6 1103.4 538.6 1103.4 539.6 1103.4 540.6 1103.4 541.6 1103.4 542.6 1103.4 543.6 1103.4 544.6 1103.4 545.6 1103.4 546.6 1103.4 547.6 1103.4 548.6 1103.4 549.6 1103.4 550.6 1103.4 551.6 1103.4 552.6 1103.4 553.6 1103.4 554.6 1103.4 555.6 1103.4 556.6 1103.4 557.6 1103.4 558.6 1103.4 559.6 1103.4 560.6 1103.4 561.6 1103.4 562.6 1103.4 563.6 1103.4 564.6 1103.5 565.6 1103.5 566.6 1103.5 567.6 1103.5 568.6 1103.5 569.6 1103.5 570.6 1103.5 571.6 1103.5 572.6 1103.5 573.6 1103.5 574.6 1103.5 575.6 1103.5 576.6 1103.5 577.6 1103.5 578.6 1103.5 579.6 1103.5 580.6 1103.5 581.6 1103.5 582.6 1103.5 583.6 1103.5 584.6 1103.5 585.6 1103.5 586.6 1103.5 587.6 1103.5 588.6 1103.5 589.6 1103.5 590.6 1103.5 591.6 1103.5 592.6 1103.5 593.6 1103.5 594.6 1103.5 595.6 1103.5 596.6 1103.5 597.6 1103.5 598.6 1103.5 599.6 1103.5 600.6 1103.5 601.6 1103.5 602.6 1103.5 603.6 1103.5 604.6 1103.5 605.6 1103.5 606.6 1103.5 607.6 1103.5 608.6 1103.5 609.6 1103.5 610.6 1103.5 611.6 1103.5 612.6 1103.5 613.6 1103.5 614.6 1103.5 615.6 1103.5 616.6 1103.5 617.6 1103.5 618.6 1103.5 619.6 1103.5 620.6 1103.5 621.6 1103.5 622.6 1103.5 623.6 1103.5 624.6 1103.5 625.6 1103.5 626.6 1103.5 627.6 1103.5 628.6 1103.5 629.6 1103.5 630.6 1103.5 631.6 1103.5 632.6 1103.5 633.6 1103.5 634.6 1103.5 635.6 1103.5 636.6 1103.5 L636.6 1103.6 Z" fill="#343459"/>
<path d="M84.6 1103.6 L85.6 1103.6 L86.6 1103.6 L87.6 1103.6 L88.6 1103.6 L89.6 1103.6 L90.6 1103.6 L91.6 1103.6 L92.6 1103.6 L93.6 1103.6 L94.6 1103.6 L95.6 1103.6 L96.6 1103.6 L97.6 1103.6 L98.6 1103.6 L99.6 1103.6 L100.6 1103.6 L101.6 1103.6 L102.6 1103.6 L103.6 1103.6 L104.6 1103.6 L105.6 1103.6 L106.6 1103.6 L107.6 1103.6 L108.6 1103.6 L109.6 1103.6 L110.6 1103.6 L111.6 1103.6 L112.6 1103.6 L113.6 1103.6 L114.6 1103.6 L115.6 1103.6 L116.6 1103.6 L117.6 1103.6 L118.6 1103.6 L119.6 1103.6 L120.6 1103.6 L121.6 1103.6 L122.6 1103.6 L123.6 1103.6 L124.6 1103.6 L125.6 1103.6 L126.6 1103.6 L127.6 1103.6 L128.6 1103.6 L129.6 1103.6 L130.6 1103.6 L131.6 1103.6 L132.6 1103.6 L133.6 1103.6 L134.6 1103.6 L135.6 1103.6 L136.6 1103.6 L137.6 1103.6 L138.6 1103.6 L139.6 1103.6 L140.6 1103.6 L141.6 1103.6 L142.6 1103.6 L143.6 1103.6 L144.6 1103.6 L145.6 1103.6 L146.6 1103.6 L147.6 1103.6 L148.6 1103.6 L149.6 1103.6 L150.6 1103.6 L151.6 1103.6 L152.6 1103.6 L153.6 1103.6 L154.6 1103.6 L155.6 1103.6 L156.6 1103.5 L157.6 1103.5 L158.6 1103.5 L159.6 1103.5 L160.6 1103.5 L161.6 1103.5 L162.6 1103.5 L163.6 1103.5 L164.6 1103.5 L165.6 1103.5 L166.6 1103.5 L167.6 1103.5 L168.6 1103.5 L169.6 1103.5 L170.6 1103.4 L171.6 1103.4 L172.6 1103.4 L173.6 1103.4 L174.6 1103.4 L175.6 1103.4 L176.6 1103.4 L177.6 1103.3 L178.6 1103.3 L179.6 1103.3 L180.6 1103.3 L181.6 1103.3 L182.6 1103.2 L183.6 1103.2 L184.6 1103.2 L185.6 1103.2 L186.6 1103.1 L187.6 1103.1 L188.6 1103.1 L189.6 1103 L190.6 1103 L191.6 1102.9 L192.6 1102.9 L193.6 1102.8 L194.6 1102.8 L195.6 1102.7 L196.6 1102.7 L197.6 1102.6 L198.6 1102.6 L199.6 1102.5 L200.6 1102.4 L201.6 1102.4 L202.6 1102.3 L203.6 1102.2 L204.6 1102.1 L205.6 1102 L206.6 1101.9 L207.6 1101.8 L208.6 1101.7 L209.6 1101.6 L210.6 1101.4 L211.6 1101.3 L212.6 1101.2 L213.6 1101 L214.6 1100.9 L215.6 1100.7 L216.6 1100.5 L217.6 1100.4 L218.6 1100.2 L219.6 1100 L220.6 1099.8 L221.6 1099.5 L222.6 1099.3 L223.6 1099.1 L224.6 1098.8 L225.6 1098.5 L226.6 1098.2 L227.6 1097.9 L228.6 1097.6 L229.6 1097.3 L230.6 1097 L231.6 1096.6 L232.6 1096.2 L233.6 1095.8 L234.6 1095.4 L235.6 1095 L236.6 1094.6 L237.6 1094.1 L238.6 1093.6 L239.6 1093.1 L240.6 1092.6 L241.6 1092 L242.6 1091.4 L243.6 1090.8 L244.6 1090.2 L245.6 1089.5 L246.6 1088.8 L247.6 1088.1 L248.6 1087.4 L249.6 1086.6 L250.6 1085.8 L251.6 1085 L252.6 1084.1 L253.6 1083.2 L254.6 1082.2 L255.6 1081.3 L256.6 1080.3 L257.6 1079.2 L258.6 1078.1 L259.6 1077 L260.6 1075.8 L261.6 1074.6 L262.6 1073.4 L263.6 1072.1 L264.6 1070.8 L265.6 1069.4 L266.6 1068 L267.6 1066.5 L268.6 1065 L269.6 1063.4 L270.6 1061.8 L271.6 1060.1 L272.6 1058.4 L273.6 1056.6 L274.6 1054.7 L275.6 1052.9 L276.6 1050.9 L277.6 1048.9 L278.6 1046.9 L279.6 1044.8 L280.6 1042.6 L281.6 1040.4 L282.6 1038.1 L283.6 1035.7 L284.6 1033.3 L285.6 1030.8 L286.6 1028.3 L287.6 1025.7 L288.6 1023 L289.6 1020.3 L290.6 1017.5 L291.6 1014.7 L292.6 1011.8 L293.6 1008.8 L294.6 1005.8 L295.6 1002.7 L296.6 999.5 L297.6 996.3 L298.6 993 L299.6 989.6 L300.6 986.2 L301.6 982.7 L302.6 979.2 L303.6 975.6 L304.6 971.9 L305.6 968.2 L306.6 964.4 L307.6 960.6 L308.6 956.7 L309.6 952.7 L310.6 948.7 L311.6 944.6 L312.6 940.5 L313.6 936.3 L314.6 932.1 L315.6 927.9 L316.6 923.6 L317.6 919.2 L318.6 914.8 L319.6 910.4 L320.6 905.9 L321.6 901.4 L322.6 896.8 L323.6 892.3 L324.6 887.7 L325.6 883 L326.6 878.4 L327.6 873.7 L328.6 869 L329.6 864.3 L330.6 859.6 L331.6 854.8 L332.6 850.1 L333.6 845.3 L334.6 840.6 L335.6 835.8 L336.6 831.1 L337.6 826.3 L338.6 821.6 L339.6 816.9 L340.6 812.2 L341.6 807.6 L342.6 802.9 L343.6 798.3 L344.6 793.7 L345.6 789.2 L346.6 784.7 L347.6 780.2 L348.6 775.8 L349.6 771.4 L350.6 767.1 L351.6 762.9 L352.6 758.7 L353.6 754.5 L354.6 750.5 L355.6 746.5 L356.6 742.6 L357.6 738.7 L358.6 735 L359.6 731.3 L360.6 727.7 L361.6 724.3 L362.6 720.9 L363.6 717.6 L364.6 714.4 L365.6 711.3 L366.6 708.3 L367.6 705.5 L368.6 702.7 L369.6 700.1 L370.6 697.5 L371.6 695.1 L372.6 692.9 L373.6 690.7 L374.6 688.7 L375.6 686.8 L376.6 685 L377.6 683.4 L378.6 681.9 L379.6 680.5 L380.6 679.3 L381.6 678.2 L382.6 677.2 L383.6 676.4 L384.6 675.8 L385.6 675.2 L386.6 674.8 L387.6 674.6 L388.6 674.5 L389.6 674.5 L390.6 674.7 L391.6 675.1 L392.6 675.5 L393.6 676.1 L394.6 676.9 L395.6 677.8 L396.6 678.8 L397.6 680 L398.6 681.3 L399.6 682.8 L400.6 684.3 L401.6 686.1 L402.6 687.9 L403.6 689.9 L404.6 692 L405.6 694.2 L406.6 696.6 L407.6 699 L408.6 701.6 L409.6 704.3 L410.6 707.2 L411.6 710.1 L412.6 713.1 L413.6 716.3 L414.6 719.5 L415.6 722.9 L416.6 726.3 L417.6 729.9 L418.6 733.5 L419.6 737.2 L420.6 741 L421.6 744.9 L422.6 748.9 L423.6 752.9 L424.6 757 L425.6 761.2 L426.6 765.4 L427.6 769.7 L428.6 774 L429.6 778.4 L430.6 782.9 L431.6 787.4 L432.6 791.9 L433.6 796.5 L434.6 801.1 L435.6 805.7 L436.6 810.4 L437.6 815 L438.6 819.7 L439.6 824.5 L440.6 829.2 L441.6 833.9 L442.6 838.7 L443.6 843.4 L444.6 848.2 L445.6 852.9 L446.6 857.7 L447.6 862.4 L448.6 867.1 L449.6 871.8 L450.6 876.5 L451.6 881.2 L452.6 885.8 L453.6 890.4 L454.6 895 L455.6 899.6 L456.6 904.1 L457.6 908.6 L458.6 913 L459.6 917.5 L460.6 921.8 L461.6 926.2 L462.6 930.4 L463.6 934.7 L464.6 938.9 L465.6 943 L466.6 947.1 L467.6 951.1 L468.6 955.1 L469.6 959 L470.6 962.9 L471.6 966.7 L472.6 970.4 L473.6 974.1 L474.6 977.7 L475.6 981.3 L476.6 984.8 L477.6 988.3 L478.6 991.6 L479.6 995 L480.6 998.2 L481.6 1001.4 L482.6 1004.5 L483.6 1007.6 L484.6 1010.6 L485.6 1013.5 L486.6 1016.4 L487.6 1019.2 L488.6 1022 L489.6 1024.7 L490.6 1027.3 L491.6 1029.8 L492.6 1032.3 L493.6 1034.8 L494.6 1037.1 L495.6 1039.4 L496.6 1041.7 L497.6 1043.9 L498.6 1046 L499.6 1048.1 L500.6 1050.1 L501.6 1052.1 L502.6 1054 L503.6 1055.9 L504.6 1057.7 L505.6 1059.4 L506.6 1061.1 L507.6 1062.7 L508.6 1064.3 L509.6 1065.9 L510.6 1067.4 L511.6 1068.8 L512.6 1070.2 L513.6 1071.6 L514.6 1072.9 L515.6 1074.1 L516.6 1075.4 L517.6 1076.5 L518.6 1077.7 L519.6 1078.8 L520.6 1079.9 L521.6 1080.9 L522.6 1081.9 L523.6 1082.8 L524.6 1083.7 L525.6 1084.6 L526.6 1085.5 L527.6 1086.3 L528.6 1087.1 L529.6 1087.8 L530.6 1088.5 L531.6 1089.2 L532.6 1089.9 L533.6 1090.6 L534.6 1091.2 L535.6 1091.8 L536.6 1092.3 L537.6 1092.9 L538.6 1093.4 L539.6 1093.9 L540.6 1094.4 L541.6 1094.8 L542.6 1095.3 L543.6 1095.7 L544.6 1096.1 L545.6 1096.5 L546.6 1096.8 L547.6 1097.2 L548.6 1097.5 L549.6 1097.8 L550.6 1098.1 L551.6 1098.4 L552.6 1098.7 L553.6 1099 L554.6 1099.2 L555.6 1099.4 L556.6 1099.7 L557.6 1099.9 L558.6 1100.1 L559.6 1100.3 L560.6 1100.5 L561.6 1100.6 L562.6 1100.8 L563.6 1101 L564.6 1101.1 L565.6 1101.3 L566.6 1101.4 L567.6 1101.5 L568.6 1101.6 L569.6 1101.7 L570.6 1101.9 L571.6 1102 L572.6 1102.1 L573.6 1102.1 L574.6 1102.2 L575.6 1102.3 L576.6 1102.4 L577.6 1102.5 L578.6 1102.5 L579.6 1102.6 L580.6 1102.7 L581.6 1102.7 L582.6 1102.8 L583.6 1102.8 L584.6 1102.9 L585.6 1102.9 L586.6 1103 L587.6 1103 L588.6 1103 L589.6 1103.1 L590.6 1103.1 L591.6 1103.1 L592.6 1103.2 L593.6 1103.2 L594.6 1103.2 L595.6 1103.3 L596.6 1103.3 L597.6 1103.3 L598.6 1103.3 L599.6 1103.3 L600.6 1103.4 L601.6 1103.4 L602.6 1103.4 L603.6 1103.4 L604.6 1103.4 L605.6 1103.4 L606.6 1103.4 L607.6 1103.5 L608.6 1103.5 L609.6 1103.5 L610.6 1103.5 L611.6 1103.5 L612.6 1103.5 L613.6 1103.5 L614.6 1103.5 L615.6 1103.5 L616.6 1103.5 L617.6 1103.5 L618.6 1103.5 L619.6 1103.5 L620.6 1103.5 L621.6 1103.5 L622.6 1103.6 L623.6 1103.6 L624.6 1103.6 L625.6 1103.6 L626.6 1103.6 L627.6 1103.6 L628.6 1103.6 L629.6 1103.6 L630.6 1103.6 L631.6 1103.6 L632.6 1103.6 L633.6 1103.6 L634.6 1103.6 L635.6 1103.6 L636.6 1103.6" fill="none" stroke="#333333" stroke-width="1.6"/>
<path d="M84.6 1103.6 L85.6 1103.6 L86.6 1103.6 L87.6 1103.6 L88.6 1103.6 L89.6 1103.6 L90.6 1103.6 L91.6 1103.6 L92.6 1103.6 L93.6 1103.6 L94.6 1103.6 L95.6 1103.6 L96.6 1103.6 L97.6 1103.6 L98.6 1103.6 L99.6 1103.6 L100.6 1103.6 L101.6 1103.6 L102.6 1103.6 L103.6 1103.6 L104.6 1103.6 L105.6 1103.6 L106.6 1103.6 L107.6 1103.6 L108.6 1103.6 L109.6 1103.6 L110.6 1103.6 L111.6 1103.6 L112.6 1103.6 L113.6 1103.6 L114.6 1103.6 L115.6 1103.6 L116.6 1103.6 L117.6 1103.6 L118.6 1103.6 L119.6 1103.6 L120.6 1103.6 L121.6 1103.6 L122.6 1103.6 L123.6 1103.6 L124.6 1103.6 L125.6 1103.6 L126.6 1103.6 L127.6 1103.6 L128.6 1103.6 L129.6 1103.6 L130.6 1103.6 L131.6 1103.6 L132.6 1103.6 L133.6 1103.6 L134.6 1103.6 L135.6 1103.6 L136.6 1103.6 L137.6 1103.6 L138.6 1103.6 L139.6 1103.6 L140.6 1103.6 L141.6 1103.6 L142.6 1103.6 L143.6 1103.6 L144.6 1103.6 L145.6 1103.6 L146.6 1103.6 L147.6 1103.6 L148.6 1103.6 L149.6 1103.6 L150.6 1103.6 L151.6 1103.6 L152.6 1103.6 L153.6 1103.6 L154.6 1103.6 L155.6 1103.6 L156.6 1103.6 L157.6 1103.6 L158.6 1103.6 L159.6 1103.6 L160.6 1103.6 L161.6 1103.6 L162.6 1103.6 L163.6 1103.6 L164.6 1103.6 L165.6 1103.6 L166.6 1103.6 L167.6 1103.6 L168.6 1103.6 L169.6 1103.6 L170.6 1103.6 L171.6 1103.6 L172.6 1103.6 L173.6 1103.6 L174.6 1103.6 L175.6 1103.6 L176.6 1103.6 L177.6 1103.6 L178.6 1103.6 L179.6 1103.6 L180.6 1103.6 L181.6 1103.6 L182.6 1103.6 L183.6 1103.6 L184.6 1103.6 L185.6 1103.6 L186.6 1103.6 L187.6 1103.6 L188.6 1103.6 L189.6 1103.6 L190.6 1103.6 L191.6 1103.6 L192.6 1103.6 L193.6 1103.6 L194.6 1103.6 L195.6 1103.6 L196.6 1103.6 L197.6 1103.6 L198.6 1103.6 L199.6 1103.6 L200.6 1103.6 L201.6 1103.6 L202.6 1103.6 L203.6 1103.6 L204.6 1103.6 L205.6 1103.6 L206.6 1103.6 L207.6 1103.6 L208.6 1103.6 L209.6 1103.6 L210.6 1103.6 L211.6 1103.6 L212.6 1103.6 L213.6 1103.6 L214.6 1103.6 L215.6 1103.6 L216.6 1103.6 L217.6 1103.6 L218.6 1103.6 L219.6 1103.6 L220.6 1103.6 L221.6 1103.6 L222.6 1103.6 L223.6 1103.6 L224.6 1103.6 L225.6 1103.6 L226.6 1103.6 L227.6 1103.6 L228.6 1103.6 L229.6 1103.6 L230.6 1103.6 L231.6 1103.6 L232.6 1103.6 L233.6 1103.6 L234.6 1103.6 L235.6 1103.6 L236.6 1103.6 L237.6 1103.6 L238.6 1103.6 L239.6 1103.6 L240.6 1103.6 L241.6 1103.6 L242.6 1103.6 L243.6 1103.6 L244.6 1103.6 L245.6 1103.6 L246.6 1103.6 L247.6 1103.6 L248.6 1103.6 L249.6 1103.6 L250.6 1103.6 L251.6 1103.6 L252.6 1103.6 L253.6 1103.6 L254.6 1103.6 L255.6 1103.6 L256.6 1103.6 L257.6 1103.6 L258.6 1103.6 L259.6 1103.6 L260.6 1103.5 L261.6 1103.5 L262.6 1103.5 L263.6 1103.5 L264.6 1103.5 L265.6 1103.5 L266.6 1103.5 L267.6 1103.5 L268.6 1103.5 L269.6 1103.5 L270.6 1103.5 L271.6 1103.5 L272.6 1103.5 L273.6 1103.5 L274.6 1103.5 L275.6 1103.4 L276.6 1103.4 L277.6 1103.4 L278.6 1103.4 L279.6 1103.4 L280.6 1103.4 L281.6 1103.4 L282.6 1103.4 L283.6 1103.3 L284.6 1103.3 L285.6 1103.3 L286.6 1103.3 L287.6 1103.3 L288.6 1103.3 L289.6 1103.2 L290.6 1103.2 L291.6 1103.2 L292.6 1103.2 L293.6 1103.1 L294.6 1103.1 L295.6 1103.1 L296.6 1103 L297.6 1103 L298.6 1103 L299.6 1102.9 L300.6 1102.9 L301.6 1102.8 L302.6 1102.8 L303.6 1102.7 L304.6 1102.7 L305.6 1102.6 L306.6 1102.6 L307.6 1102.5 L308.6 1102.5 L309.6 1102.4 L310.6 1102.3 L311.6 1102.3 L312.6 1102.2 L313.6 1102.1 L314.6 1102 L315.6 1101.9 L316.6 1101.8 L317.6 1101.7 L318.6 1101.6 L319.6 1101.5 L320.6 1101.4 L321.6 1101.3 L322.6 1101.2 L323.6 1101.1 L324.6 1100.9 L325.6 1100.8 L326.6 1100.6 L327.6 1100.5 L328.6 1100.3 L329.6 1100.2 L330.6 1100 L331.6 1099.8 L332.6 1099.6 L333.6 1099.4 L334.6 1099.2 L335.6 1099 L336.6 1098.8 L337.6 1098.6 L338.6 1098.4 L339.6 1098.1 L340.6 1097.9 L341.6 1097.6 L342.6 1097.3 L343.6 1097 L344.6 1096.7 L345.6 1096.4 L346.6 1096.1 L347.6 1095.8 L348.6 1095.5 L349.6 1095.1 L350.6 1094.7 L351.6 1094.4 L352.6 1094 L353.6 1093.6 L354.6 1093.2 L355.6 1092.7 L356.6 1092.3 L357.6 1091.8 L358.6 1091.4 L359.6 1090.9 L360.6 1090.4 L361.6 1089.9 L362.6 1089.3 L363.6 1088.8 L364.6 1088.2 L365.6 1087.7 L366.6 1087.1 L367.6 1086.5 L368.6 1085.8 L369.6 1085.2 L370.6 1084.5 L371.6 1083.9 L372.6 1083.2 L373.6 1082.5 L374.6 1081.7 L375.6 1081 L376.6 1080.2 L377.6 1079.5 L378.6 1078.7 L379.6 1077.9 L380.6 1077 L381.6 1076.2 L382.6 1075.3 L383.6 1074.4 L384.6 1073.5 L385.6 1072.6 L386.6 1071.7 L387.6 1070.7 L388.6 1069.8 L389.6 1068.8 L390.6 1067.8 L391.6 1066.8 L392.6 1065.7 L393.6 1064.7 L394.6 1063.6 L395.6 1062.5 L396.6 1061.5 L397.6 1060.3 L398.6 1059.2 L399.6 1058.1 L400.6 1056.9 L401.6 1055.8 L402.6 1054.6 L403.6 1053.4 L404.6 1052.2 L405.6 1051 L406.6 1049.8 L407.6 1048.6 L408.6 1047.3 L409.6 1046.1 L410.6 1044.8 L411.6 1043.6 L412.6 1042.3 L413.6 1041 L414.6 1039.8 L415.6 1038.5 L416.6 1037.2 L417.6 1035.9 L418.6 1034.6 L419.6 1033.3 L420.6 1032.1 L421.6 1030.8 L422.6 1029.5 L423.6 1028.2 L424.6 1026.9 L425.6 1025.6 L426.6 1024.4 L427.6 1023.1 L428.6 1021.9 L429.6 1020.6 L430.6 1019.4 L431.6 1018.2 L432.6 1017 L433.6 1015.8 L434.6 1014.6 L435.6 1013.4 L436.6 1012.2 L437.6 1011.1 L438.6 1010 L439.6 1008.9 L440.6 1007.8 L441.6 1006.7 L442.6 1005.7 L443.6 1004.7 L444.6 1003.7 L445.6 1002.7 L446.6 1001.7 L447.6 1000.8 L448.6 999.9 L449.6 999 L450.6 998.2 L451.6 997.4 L452.6 996.6 L453.6 995.9 L454.6 995.1 L455.6 994.5 L456.6 993.8 L457.6 993.2 L458.6 992.6 L459.6 992 L460.6 991.5 L461.6 991 L462.6 990.6 L463.6 990.2 L464.6 989.8 L465.6 989.5 L466.6 989.2 L467.6 988.9 L468.6 988.7 L469.6 988.5 L470.6 988.4 L471.6 988.3 L472.6 988.2 L473.6 988.2 L474.6 988.2 L475.6 988.3 L476.6 988.4 L477.6 988.5 L478.6 988.7 L479.6 988.9 L480.6 989.1 L481.6 989.4 L482.6 989.7 L483.6 990.1 L484.6 990.5 L485.6 990.9 L486.6 991.4 L487.6 991.9 L488.6 992.4 L489.6 993 L490.6 993.6 L491.6 994.3 L492.6 994.9 L493.6 995.6 L494.6 996.4 L495.6 997.2 L496.6 998 L497.6 998.8 L498.6 999.7 L499.6 1000.5 L500.6 1001.5 L501.6 1002.4 L502.6 1003.4 L503.6 1004.4 L504.6 1005.4 L505.6 1006.4 L506.6 1007.5 L507.6 1008.5 L508.6 1009.6 L509.6 1010.8 L510.6 1011.9 L511.6 1013 L512.6 1014.2 L513.6 1015.4 L514.6 1016.6 L515.6 1017.8 L516.6 1019 L517.6 1020.3 L518.6 1021.5 L519.6 1022.7 L520.6 1024 L521.6 1025.3 L522.6 1026.5 L523.6 1027.8 L524.6 1029.1 L525.6 1030.4 L526.6 1031.7 L527.6 1033 L528.6 1034.2 L529.6 1035.5 L530.6 1036.8 L531.6 1038.1 L532.6 1039.4 L533.6 1040.7 L534.6 1041.9 L535.6 1043.2 L536.6 1044.5 L537.6 1045.7 L538.6 1047 L539.6 1048.2 L540.6 1049.4 L541.6 1050.6 L542.6 1051.9 L543.6 1053.1 L544.6 1054.2 L545.6 1055.4 L546.6 1056.6 L547.6 1057.7 L548.6 1058.9 L549.6 1060 L550.6 1061.1 L551.6 1062.2 L552.6 1063.3 L553.6 1064.4 L554.6 1065.4 L555.6 1066.5 L556.6 1067.5 L557.6 1068.5 L558.6 1069.5 L559.6 1070.4 L560.6 1071.4 L561.6 1072.3 L562.6 1073.3 L563.6 1074.2 L564.6 1075 L565.6 1075.9 L566.6 1076.8 L567.6 1077.6 L568.6 1078.4 L569.6 1079.2 L570.6 1080 L571.6 1080.8 L572.6 1081.5 L573.6 1082.2 L574.6 1083 L575.6 1083.7 L576.6 1084.3 L577.6 1085 L578.6 1085.6 L579.6 1086.3 L580.6 1086.9 L581.6 1087.5 L582.6 1088.1 L583.6 1088.6 L584.6 1089.2 L585.6 1089.7 L586.6 1090.2 L587.6 1090.7 L588.6 1091.2 L589.6 1091.7 L590.6 1092.2 L591.6 1092.6 L592.6 1093 L593.6 1093.4 L594.6 1093.9 L595.6 1094.2 L596.6 1094.6 L597.6 1095 L598.6 1095.3 L599.6 1095.7 L600.6 1096 L601.6 1096.3 L602.6 1096.6 L603.6 1096.9 L604.6 1097.2 L605.6 1097.5 L606.6 1097.8 L607.6 1098 L608.6 1098.3 L609.6 1098.5 L610.6 1098.7 L611.6 1099 L612.6 1099.2 L613.6 1099.4 L614.6 1099.6 L615.6 1099.8 L616.6 1099.9 L617.6 1100.1 L618.6 1100.3 L619.6 1100.4 L620.6 1100.6 L621.6 1100.7 L622.6 1100.9 L623.6 1101 L624.6 1101.1 L625.6 1101.3 L626.6 1101.4 L627.6 1101.5 L628.6 1101.6 L629.6 1101.7 L630.6 1101.8 L631.6 1101.9 L632.6 1102 L633.6 1102.1 L634.6 1102.2 L635.6 1102.2 L636.6 1102.3" fill="none" stroke="#333333" stroke-width="1.6"/>
<path d="M84.6 1103.4 L85.6 1103.4 L86.6 1103.4 L87.6 1103.4 L88.6 1103.4 L89.6 1103.4 L90.6 1103.4 L91.6 1103.3 L92.6 1103.3 L93.6 1103.3 L94.6 1103.3 L95.6 1103.3 L96.6 1103.3 L97.6 1103.3 L98.6 1103.3 L99.6 1103.3 L100.6 1103.3 L101.6 1103.3 L102.6 1103.3 L103.6 1103.3 L104.6 1103.3 L105.6 1103.3 L106.6 1103.3 L107.6 1103.3 L108.6 1103.3 L109.6 1103.3 L110.6 1103.3 L111.6 1103.3 L112.6 1103.3 L113.6 1103.3 L114.6 1103.3 L115.6 1103.3 L116.6 1103.3 L117.6 1103.3 L118.6 1103.2 L119.6 1103.2 L120.6 1103.2 L121.6 1103.2 L122.6 1103.2 L123.6 1103.2 L124.6 1103.2 L125.6 1103.2 L126.6 1103.2 L127.6 1103.2 L128.6 1103.2 L129.6 1103.2 L130.6 1103.2 L131.6 1103.1 L132.6 1103.1 L133.6 1103.1 L134.6 1103.1 L135.6 1103.1 L136.6 1103.1 L137.6 1103.1 L138.6 1103.1 L139.6 1103 L140.6 1103 L141.6 1103 L142.6 1103 L143.6 1103 L144.6 1102.9 L145.6 1102.9 L146.6 1102.9 L147.6 1102.9 L148.6 1102.8 L149.6 1102.8 L150.6 1102.8 L151.6 1102.7 L152.6 1102.7 L153.6 1102.7 L154.6 1102.6 L155.6 1102.6 L156.6 1102.5 L157.6 1102.5 L158.6 1102.4 L159.6 1102.4 L160.6 1102.3 L161.6 1102.3 L162.6 1102.2 L163.6 1102.2 L164.6 1102.1 L165.6 1102 L166.6 1101.9 L167.6 1101.9 L168.6 1101.8 L169.6 1101.7 L170.6 1101.6 L171.6 1101.5 L172.6 1101.4 L173.6 1101.3 L174.6 1101.1 L175.6 1101 L176.6 1100.9 L177.6 1100.8 L178.6 1100.6 L179.6 1100.5 L180.6 1100.3 L181.6 1100.1 L182.6 1100 L183.6 1099.8 L184.6 1099.6 L185.6 1099.4 L186.6 1099.2 L187.6 1099 L188.6 1098.7 L189.6 1098.5 L190.6 1098.2 L191.6 1098 L192.6 1097.7 L193.6 1097.4 L194.6 1097.1 L195.6 1096.8 L196.6 1096.5 L197.6 1096.2 L198.6 1095.8 L199.6 1095.5 L200.6 1095.1 L201.6 1094.7 L202.6 1094.3 L203.6 1093.9 L204.6 1093.5 L205.6 1093 L206.6 1092.5 L207.6 1092.1 L208.6 1091.6 L209.6 1091.1 L210.6 1090.5 L211.6 1090 L212.6 1089.4 L213.6 1088.9 L214.6 1088.3 L215.6 1087.6 L216.6 1087 L217.6 1086.4 L218.6 1085.7 L219.6 1085 L220.6 1084.3 L221.6 1083.6 L222.6 1082.9 L223.6 1082.1 L224.6 1081.3 L225.6 1080.5 L226.6 1079.7 L227.6 1078.9 L228.6 1078.1 L229.6 1077.2 L230.6 1076.3 L231.6 1075.4 L232.6 1074.5 L233.6 1073.6 L234.6 1072.7 L235.6 1071.7 L236.6 1070.8 L237.6 1069.8 L238.6 1068.8 L239.6 1067.8 L240.6 1066.8 L241.6 1065.8 L242.6 1064.7 L243.6 1063.7 L244.6 1062.6 L245.6 1061.6 L246.6 1060.5 L247.6 1059.4 L248.6 1058.3 L249.6 1057.3 L250.6 1056.2 L251.6 1055.1 L252.6 1054 L253.6 1052.9 L254.6 1051.8 L255.6 1050.7 L256.6 1049.6 L257.6 1048.6 L258.6 1047.5 L259.6 1046.4 L260.6 1045.4 L261.6 1044.3 L262.6 1043.3 L263.6 1042.3 L264.6 1041.2 L265.6 1040.2 L266.6 1039.3 L267.6 1038.3 L268.6 1037.3 L269.6 1036.4 L270.6 1035.5 L271.6 1034.6 L272.6 1033.8 L273.6 1032.9 L274.6 1032.1 L275.6 1031.3 L276.6 1030.6 L277.6 1029.8 L278.6 1029.1 L279.6 1028.5 L280.6 1027.8 L281.6 1027.2 L282.6 1026.7 L283.6 1026.1 L284.6 1025.6 L285.6 1025.2 L286.6 1024.8 L287.6 1024.4 L288.6 1024 L289.6 1023.7 L290.6 1023.4 L291.6 1023.2 L292.6 1023 L293.6 1022.9 L294.6 1022.8 L295.6 1022.7 L296.6 1022.7 L297.6 1022.7 L298.6 1022.8 L299.6 1022.9 L300.6 1023 L301.6 1023.2 L302.6 1023.4 L303.6 1023.7 L304.6 1024 L305.6 1024.4 L306.6 1024.8 L307.6 1025.2 L308.6 1025.6 L309.6 1026.1 L310.6 1026.7 L311.6 1027.2 L312.6 1027.8 L313.6 1028.5 L314.6 1029.1 L315.6 1029.8 L316.6 1030.6 L317.6 1031.3 L318.6 1032.1 L319.6 1032.9 L320.6 1033.8 L321.6 1034.6 L322.6 1035.5 L323.6 1036.4 L324.6 1037.3 L325.6 1038.3 L326.6 1039.3 L327.6 1040.2 L328.6 1041.2 L329.6 1042.3 L330.6 1043.3 L331.6 1044.3 L332.6 1045.4 L333.6 1046.4 L334.6 1047.5 L335.6 1048.6 L336.6 1049.6 L337.6 1050.7 L338.6 1051.8 L339.6 1052.9 L340.6 1054 L341.6 1055.1 L342.6 1056.2 L343.6 1057.3 L344.6 1058.3 L345.6 1059.4 L346.6 1060.5 L347.6 1061.6 L348.6 1062.6 L349.6 1063.7 L350.6 1064.7 L351.6 1065.8 L352.6 1066.8 L353.6 1067.8 L354.6 1068.8 L355.6 1069.8 L356.6 1070.8 L357.6 1071.7 L358.6 1072.7 L359.6 1073.6 L360.6 1074.5 L361.6 1075.4 L362.6 1076.3 L363.6 1077.2 L364.6 1078.1 L365.6 1078.9 L366.6 1079.7 L367.6 1080.5 L368.6 1081.3 L369.6 1082.1 L370.6 1082.9 L371.6 1083.6 L372.6 1084.3 L373.6 1085 L374.6 1085.7 L375.6 1086.4 L376.6 1087 L377.6 1087.6 L378.6 1088.3 L379.6 1088.9 L380.6 1089.4 L381.6 1090 L382.6 1090.5 L383.6 1091.1 L384.6 1091.6 L385.6 1092.1 L386.6 1092.5 L387.6 1093 L388.6 1093.5 L389.6 1093.9 L390.6 1094.3 L391.6 1094.7 L392.6 1095.1 L393.6 1095.5 L394.6 1095.8 L395.6 1096.2 L396.6 1096.5 L397.6 1096.8 L398.6 1097.1 L399.6 1097.4 L400.6 1097.7 L401.6 1098 L402.6 1098.2 L403.6 1098.5 L404.6 1098.7 L405.6 1099 L406.6 1099.2 L407.6 1099.4 L408.6 1099.6 L409.6 1099.8 L410.6 1100 L411.6 1100.1 L412.6 1100.3 L413.6 1100.5 L414.6 1100.6 L415.6 1100.8 L416.6 1100.9 L417.6 1101 L418.6 1101.1 L419.6 1101.3 L420.6 1101.4 L421.6 1101.5 L422.6 1101.6 L423.6 1101.7 L424.6 1101.8 L425.6 1101.9 L426.6 1101.9 L427.6 1102 L428.6 1102.1 L429.6 1102.2 L430.6 1102.2 L431.6 1102.3 L432.6 1102.3 L433.6 1102.4 L434.6 1102.4 L435.6 1102.5 L436.6 1102.5 L437.6 1102.6 L438.6 1102.6 L439.6 1102.7 L440.6 1102.7 L441.6 1102.7 L442.6 1102.8 L443.6 1102.8 L444.6 1102.8 L445.6 1102.9 L446.6 1102.9 L447.6 1102.9 L448.6 1102.9 L449.6 1103 L450.6 1103 L451.6 1103 L452.6 1103 L453.6 1103 L454.6 1103.1 L455.6 1103.1 L456.6 1103.1 L457.6 1103.1 L458.6 1103.1 L459.6 1103.1 L460.6 1103.1 L461.6 1103.1 L462.6 1103.2 L463.6 1103.2 L464.6 1103.2 L465.6 1103.2 L466.6 1103.2 L467.6 1103.2 L468.6 1103.2 L469.6 1103.2 L470.6 1103.2 L471.6 1103.2 L472.6 1103.2 L473.6 1103.2 L474.6 1103.2 L475.6 1103.3 L476.6 1103.3 L477.6 1103.3 L478.6 1103.3 L479.6 1103.3 L480.6 1103.3 L481.6 1103.3 L482.6 1103.3 L483.6 1103.3 L484.6 1103.3 L485.6 1103.3 L486.6 1103.3 L487.6 1103.3 L488.6 1103.3 L489.6 1103.3 L490.6 1103.3 L491.6 1103.3 L492.6 1103.3 L493.6 1103.3 L494.6 1103.3 L495.6 1103.3 L496.6 1103.3 L497.6 1103.3 L498.6 1103.3 L499.6 1103.3 L500.6 1103.3 L501.6 1103.3 L502.6 1103.4 L503.6 1103.4 L504.6 1103.4 L505.6 1103.4 L506.6 1103.4 L507.6 1103.4 L508.6 1103.4 L509.6 1103.4 L510.6 1103.4 L511.6 1103.4 L512.6 1103.4 L513.6 1103.4 L514.6 1103.4 L515.6 1103.4 L516.6 1103.4 L517.6 1103.4 L518.6 1103.4 L519.6 1103.4 L520.6 1103.4 L521.6 1103.4 L522.6 1103.4 L523.6 1103.4 L524.6 1103.4 L525.6 1103.4 L526.6 1103.4 L527.6 1103.4 L528.6 1103.4 L529.6 1103.4 L530.6 1103.4 L531.6 1103.4 L532.6 1103.4 L533.6 1103.4 L534.6 1103.4 L535.6 1103.4 L536.6 1103.4 L537.6 1103.4 L538.6 1103.4 L539.6 1103.4 L540.6 1103.4 L541.6 1103.4 L542.6 1103.4 L543.6 1103.4 L544.6 1103.4 L545.6 1103.4 L546.6 1103.4 L547.6 1103.4 L548.6 1103.4 L549.6 1103.4 L550.6 1103.4 L551.6 1103.4 L552.6 1103.4 L553.6 1103.4 L554.6 1103.4 L555.6 1103.4 L556.6 1103.4 L557.6 1103.4 L558.6 1103.4 L559.6 1103.4 L560.6 1103.4 L561.6 1103.4 L562.6 1103.4 L563.6 1103.4 L564.6 1103.5 L565.6 1103.5 L566.6 1103.5 L567.6 1103.5 L568.6 1103.5 L569.6 1103.5 L570.6 1103.5 L571.6 1103.5 L572.6 1103.5 L573.6 1103.5 L574.6 1103.5 L575.6 1103.5 L576.6 1103.5 L577.6 1103.5 L578.6 1103.5 L579.6 1103.5 L580.6 1103.5 L581.6 1103.5 L582.6 1103.5 L583.6 1103.5 L584.6 1103.5 L585.6 1103.5 L586.6 1103.5 L587.6 1103.5 L588.6 1103.5 L589.6 1103.5 L590.6 1103.5 L591.6 1103.5 L592.6 1103.5 L593.6 1103.5 L594.6 1103.5 L595.6 1103.5 L596.6 1103.5 L597.6 1103.5 L598.6 1103.5 L599.6 1103.5 L600.6 1103.5 L601.6 1103.5 L602.6 1103.5 L603.6 1103.5 L604.6 1103.5 L605.6 1103.5 L606.6 1103.5 L607.6 1103.5 L608.6 1103.5 L609.6 1103.5 L610.6 1103.5 L611.6 1103.5 L612.6 1103.5 L613.6 1103.5 L614.6 1103.5 L615.6 1103.5 L616.6 1103.5 L617.6 1103.5 L618.6 1103.5 L619.6 1103.5 L620.6 1103.5 L621.6 1103.5 L622.6 1103.5 L623.6 1103.5 L624.6 1103.5 L625.6 1103.5 L626.6 1103.5 L627.6 1103.5 L628.6 1103.5 L629.6 1103.5 L630.6 1103.5 L631.6 1103.5 L632.6 1103.5 L633.6 1103.5 L634.6 1103.5 L635.6 1103.5 L636.6 1103.5" fill="none" stroke="#333333" stroke-width="1.6"/>
<path d="M84.6 1103.4 L85.6 1103.4 L86.6 1103.4 L87.6 1103.4 L88.6 1103.4 L89.6 1103.4 L90.6 1103.4 L91.6 1103.4 L92.6 1103.3 L93.6 1103.3 L94.6 1103.3 L95.6 1103.3 L96.6 1103.3 L97.6 1103.3 L98.6 1103.3 L99.6 1103.3 L100.6 1103.3 L101.6 1103.3 L102.6 1103.3 L103.6 1103.3 L104.6 1103.3 L105.6 1103.3 L106.6 1103.3 L107.6 1103.3 L108.6 1103.3 L109.6 1103.3 L110.6 1103.3 L111.6 1103.3 L112.6 1103.3 L113.6 1103.3 L114.6 1103.3 L115.6 1103.3 L116.6 1103.3 L117.6 1103.3 L118.6 1103.3 L119.6 1103.2 L120.6 1103.2 L121.6 1103.2 L122.6 1103.2 L123.6 1103.2 L124.6 1103.2 L125.6 1103.2 L126.6 1103.2 L127.6 1103.2 L128.6 1103.2 L129.6 1103.2 L130.6 1103.2 L131.6 1103.1 L132.6 1103.1 L133.6 1103.1 L134.6 1103.1 L135.6 1103.1 L136.6 1103.1 L137.6 1103 L138.6 1103 L139.6 1103 L140.6 1103 L141.6 1103 L142.6 1102.9 L143.6 1102.9 L144.6 1102.9 L145.6 1102.8 L146.6 1102.8 L147.6 1102.8 L148.6 1102.7 L149.6 1102.7 L150.6 1102.6 L151.6 1102.6 L152.6 1102.5 L153.6 1102.5 L154.6 1102.4 L155.6 1102.3 L156.6 1102.3 L157.6 1102.2 L158.6 1102.1 L159.6 1102 L160.6 1101.9 L161.6 1101.8 L162.6 1101.7 L163.6 1101.6 L164.6 1101.5 L165.6 1101.4 L166.6 1101.2 L167.6 1101.1 L168.6 1100.9 L169.6 1100.8 L170.6 1100.6 L171.6 1100.4 L172.6 1100.2 L173.6 1100 L174.6 1099.8 L175.6 1099.6 L176.6 1099.4 L177.6 1099.1 L178.6 1098.9 L179.6 1098.6 L180.6 1098.3 L181.6 1098 L182.6 1097.7 L183.6 1097.4 L184.6 1097.1 L185.6 1096.8 L186.6 1096.4 L187.6 1096.1 L188.6 1095.7 L189.6 1095.3 L190.6 1094.9 L191.6 1094.5 L192.6 1094.1 L193.6 1093.7 L194.6 1093.3 L195.6 1092.8 L196.6 1092.4 L197.6 1091.9 L198.6 1091.4 L199.6 1090.9 L200.6 1090.4 L201.6 1089.9 L202.6 1089.4 L203.6 1088.8 L204.6 1088.3 L205.6 1087.7 L206.6 1087.1 L207.6 1086.6 L208.6 1085.9 L209.6 1085.3 L210.6 1084.7 L211.6 1084 L212.6 1083.4 L213.6 1082.7 L214.6 1082 L215.6 1081.3 L216.6 1080.5 L217.6 1079.8 L218.6 1079 L219.6 1078.2 L220.6 1077.4 L221.6 1076.5 L222.6 1075.6 L223.6 1074.7 L224.6 1073.8 L225.6 1072.8 L226.6 1071.9 L227.6 1070.8 L228.6 1069.8 L229.6 1068.7 L230.6 1067.6 L231.6 1066.5 L232.6 1065.3 L233.6 1064.1 L234.6 1062.8 L235.6 1061.6 L236.6 1060.2 L237.6 1058.9 L238.6 1057.5 L239.6 1056.1 L240.6 1054.6 L241.6 1053.1 L242.6 1051.6 L243.6 1050 L244.6 1048.4 L245.6 1046.7 L246.6 1045 L247.6 1043.3 L248.6 1041.5 L249.6 1039.7 L250.6 1037.8 L251.6 1035.9 L252.6 1034 L253.6 1032 L254.6 1030 L255.6 1028 L256.6 1025.9 L257.6 1023.8 L258.6 1021.6 L259.6 1019.4 L260.6 1017.2 L261.6 1014.9 L262.6 1012.6 L263.6 1010.3 L264.6 1007.9 L265.6 1005.5 L266.6 1003 L267.6 1000.5 L268.6 998 L269.6 995.5 L270.6 992.9 L271.6 990.3 L272.6 987.6 L273.6 984.9 L274.6 982.2 L275.6 979.4 L276.6 976.7 L277.6 973.8 L278.6 971 L279.6 968.1 L280.6 965.2 L281.6 962.2 L282.6 959.3 L283.6 956.3 L284.6 953.2 L285.6 950.2 L286.6 947.1 L287.6 943.9 L288.6 940.8 L289.6 937.6 L290.6 934.4 L291.6 931.2 L292.6 927.9 L293.6 924.6 L294.6 921.3 L295.6 917.9 L296.6 914.5 L297.6 911.1 L298.6 907.7 L299.6 904.2 L300.6 900.8 L301.6 897.3 L302.6 893.7 L303.6 890.2 L304.6 886.6 L305.6 883 L306.6 879.3 L307.6 875.7 L308.6 872 L309.6 868.3 L310.6 864.6 L311.6 860.9 L312.6 857.1 L313.6 853.3 L314.6 849.5 L315.6 845.7 L316.6 841.9 L317.6 838 L318.6 834.2 L319.6 830.3 L320.6 826.4 L321.6 822.5 L322.6 818.5 L323.6 814.6 L324.6 810.7 L325.6 806.7 L326.6 802.8 L327.6 798.8 L328.6 794.9 L329.6 790.9 L330.6 786.9 L331.6 783 L332.6 779 L333.6 775 L334.6 771.1 L335.6 767.1 L336.6 763.2 L337.6 759.2 L338.6 755.3 L339.6 751.4 L340.6 747.5 L341.6 743.7 L342.6 739.8 L343.6 736 L344.6 732.2 L345.6 728.4 L346.6 724.7 L347.6 721 L348.6 717.3 L349.6 713.6 L350.6 710 L351.6 706.5 L352.6 702.9 L353.6 699.5 L354.6 696 L355.6 692.6 L356.6 689.3 L357.6 686 L358.6 682.8 L359.6 679.7 L360.6 676.6 L361.6 673.5 L362.6 670.6 L363.6 667.7 L364.6 664.8 L365.6 662.1 L366.6 659.4 L367.6 656.9 L368.6 654.3 L369.6 651.9 L370.6 649.6 L371.6 647.4 L372.6 645.2 L373.6 643.2 L374.6 641.2 L375.6 639.3 L376.6 637.6 L377.6 635.9 L378.6 634.4 L379.6 632.9 L380.6 631.6 L381.6 630.4 L382.6 629.2 L383.6 628.2 L384.6 627.3 L385.6 626.6 L386.6 625.9 L387.6 625.3 L388.6 624.9 L389.6 624.6 L390.6 624.3 L391.6 624.2 L392.6 624.3 L393.6 624.4 L394.6 624.6 L395.6 625 L396.6 625.5 L397.6 626.1 L398.6 626.8 L399.6 627.6 L400.6 628.5 L401.6 629.5 L402.6 630.6 L403.6 631.9 L404.6 633.2 L405.6 634.7 L406.6 636.2 L407.6 637.8 L408.6 639.6 L409.6 641.4 L410.6 643.3 L411.6 645.3 L412.6 647.4 L413.6 649.6 L414.6 651.9 L415.6 654.3 L416.6 656.7 L417.6 659.2 L418.6 661.8 L419.6 664.5 L420.6 667.2 L421.6 670 L422.6 672.9 L423.6 675.9 L424.6 678.9 L425.6 681.9 L426.6 685.1 L427.6 688.2 L428.6 691.5 L429.6 694.8 L430.6 698.1 L431.6 701.5 L432.6 704.9 L433.6 708.4 L434.6 711.9 L435.6 715.4 L436.6 719 L437.6 722.6 L438.6 726.3 L439.6 729.9 L440.6 733.6 L441.6 737.4 L442.6 741.1 L443.6 744.9 L444.6 748.7 L445.6 752.5 L446.6 756.3 L447.6 760.2 L448.6 764 L449.6 767.9 L450.6 771.7 L451.6 775.6 L452.6 779.5 L453.6 783.4 L454.6 787.3 L455.6 791.1 L456.6 795 L457.6 798.9 L458.6 802.8 L459.6 806.6 L460.6 810.5 L461.6 814.3 L462.6 818.2 L463.6 822 L464.6 825.8 L465.6 829.6 L466.6 833.4 L467.6 837.2 L468.6 840.9 L469.6 844.7 L470.6 848.4 L471.6 852.1 L472.6 855.8 L473.6 859.4 L474.6 863.1 L475.6 866.7 L476.6 870.3 L477.6 873.9 L478.6 877.4 L479.6 880.9 L480.6 884.4 L481.6 887.9 L482.6 891.3 L483.6 894.8 L484.6 898.2 L485.6 901.5 L486.6 904.9 L487.6 908.2 L488.6 911.5 L489.6 914.7 L490.6 917.9 L491.6 921.1 L492.6 924.3 L493.6 927.5 L494.6 930.6 L495.6 933.7 L496.6 936.7 L497.6 939.8 L498.6 942.8 L499.6 945.7 L500.6 948.7 L501.6 951.6 L502.6 954.5 L503.6 957.3 L504.6 960.2 L505.6 963 L506.6 965.7 L507.6 968.5 L508.6 971.2 L509.6 973.8 L510.6 976.5 L511.6 979.1 L512.6 981.7 L513.6 984.2 L514.6 986.7 L515.6 989.2 L516.6 991.7 L517.6 994.1 L518.6 996.5 L519.6 998.9 L520.6 1001.2 L521.6 1003.5 L522.6 1005.7 L523.6 1007.9 L524.6 1010.1 L525.6 1012.3 L526.6 1014.4 L527.6 1016.5 L528.6 1018.6 L529.6 1020.6 L530.6 1022.6 L531.6 1024.6 L532.6 1026.5 L533.6 1028.4 L534.6 1030.2 L535.6 1032.1 L536.6 1033.9 L537.6 1035.7 L538.6 1037.4 L539.6 1039.1 L540.6 1040.8 L541.6 1042.4 L542.6 1044 L543.6 1045.6 L544.6 1047.2 L545.6 1048.7 L546.6 1050.2 L547.6 1051.7 L548.6 1053.2 L549.6 1054.6 L550.6 1056 L551.6 1057.3 L552.6 1058.7 L553.6 1060 L554.6 1061.3 L555.6 1062.5 L556.6 1063.7 L557.6 1065 L558.6 1066.1 L559.6 1067.3 L560.6 1068.4 L561.6 1069.5 L562.6 1070.6 L563.6 1071.6 L564.6 1072.7 L565.6 1073.7 L566.6 1074.6 L567.6 1075.6 L568.6 1076.5 L569.6 1077.4 L570.6 1078.3 L571.6 1079.2 L572.6 1080 L573.6 1080.8 L574.6 1081.6 L575.6 1082.4 L576.6 1083.2 L577.6 1083.9 L578.6 1084.6 L579.6 1085.3 L580.6 1086 L581.6 1086.6 L582.6 1087.3 L583.6 1087.9 L584.6 1088.5 L585.6 1089 L586.6 1089.6 L587.6 1090.1 L588.6 1090.7 L589.6 1091.2 L590.6 1091.7 L591.6 1092.1 L592.6 1092.6 L593.6 1093 L594.6 1093.5 L595.6 1093.9 L596.6 1094.3 L597.6 1094.7 L598.6 1095 L599.6 1095.4 L600.6 1095.7 L601.6 1096.1 L602.6 1096.4 L603.6 1096.7 L604.6 1097 L605.6 1097.3 L606.6 1097.6 L607.6 1097.8 L608.6 1098.1 L609.6 1098.3 L610.6 1098.6 L611.6 1098.8 L612.6 1099 L613.6 1099.2 L614.6 1099.4 L615.6 1099.6 L616.6 1099.8 L617.6 1100 L618.6 1100.2 L619.6 1100.3 L620.6 1100.5 L621.6 1100.6 L622.6 1100.8 L623.6 1100.9 L624.6 1101 L625.6 1101.2 L626.6 1101.3 L627.6 1101.4 L628.6 1101.5 L629.6 1101.6 L630.6 1101.7 L631.6 1101.8 L632.6 1101.9 L633.6 1102 L634.6 1102.1 L635.6 1102.1 L636.6 1102.2" fill="none" stroke="#333333" stroke-width="1.7"/>
</g>
<path d="M84.6 1111.6 V593.7 H636.6 V1108.6" fill="none" stroke="#666666" stroke-width="1.8"/>
<path d="M84.6 1103.6 H636.6" fill="none" stroke="#3a3a3a" stroke-width="1.8"/>
<path d="M84.6 1030.7 h15 M84.6 957.9 h15 M84.6 885 h15 M84.6 812.2 h15 M84.6 739.3 h15 M84.6 666.4 h15" stroke="#5a5a5a" stroke-width="1.9"/>
<path d="M163.4 1103.6 v5 M242.3 1103.6 v8 M321.1 1103.6 v5 M400 1103.6 v8 M478.9 1103.6 v5 M557.7 1103.6 v8" stroke="#666666" stroke-width="1.6"/>
<g fill="#1e1e1e"><circle cx="104.3" cy="1103.4" r="6.2"/><circle cx="114.2" cy="1102.2" r="6.2"/><circle cx="124" cy="1100.3" r="6.2"/><circle cx="133.9" cy="1104.2" r="6.2"/><circle cx="163.4" cy="1102.7" r="6.2"/><circle cx="173.3" cy="1099.5" r="6.2"/><circle cx="183.2" cy="1099.5" r="6.2"/><circle cx="193" cy="1093.3" r="6.2"/><circle cx="202.9" cy="1087.8" r="6.2"/><circle cx="212.7" cy="1080" r="6.2"/><circle cx="222.6" cy="1076.1" r="6.2"/><circle cx="232.4" cy="1073" r="6.2"/><circle cx="242.3" cy="1060.5" r="6.2"/><circle cx="252.2" cy="1044.8" r="6.2"/><circle cx="262" cy="1026.2" r="6.2"/><circle cx="271.9" cy="1004.3" r="6.2"/><circle cx="281.7" cy="966.2" r="6.2"/><circle cx="291.6" cy="924.3" r="6.2"/><circle cx="301.4" cy="894.9" r="6.2"/><circle cx="311.3" cy="861.9" r="6.2"/><circle cx="321.1" cy="819.4" r="6.2"/><circle cx="331" cy="779.5" r="6.2"/><circle cx="340.9" cy="745.6" r="6.2"/><circle cx="350.7" cy="710.9" r="6.2"/><circle cx="360.6" cy="673.6" r="6.2"/><circle cx="370.4" cy="652.7" r="6.2"/><circle cx="380.3" cy="635.7" r="6.2"/><circle cx="390.1" cy="620.1" r="6.2"/><circle cx="400" cy="626.7" r="6.2"/><circle cx="409.8" cy="649.6" r="6.2"/><circle cx="419.7" cy="674.9" r="6.2"/><circle cx="429.6" cy="691.6" r="6.2"/><circle cx="439.4" cy="727.3" r="6.2"/><circle cx="449.3" cy="764.1" r="6.2"/><circle cx="459.1" cy="794" r="6.2"/><circle cx="469" cy="830.8" r="6.2"/><circle cx="478.8" cy="879.2" r="6.2"/><circle cx="488.7" cy="915.1" r="6.2"/><circle cx="498.6" cy="936.9" r="6.2"/><circle cx="508.4" cy="965.9" r="6.2"/><circle cx="518.3" cy="1000.1" r="6.2"/><circle cx="528.1" cy="1021.7" r="6.2"/><circle cx="538" cy="1035.6" r="6.2"/><circle cx="547.8" cy="1047.7" r="6.2"/><circle cx="557.7" cy="1062.7" r="6.2"/><circle cx="567.5" cy="1074.4" r="6.2"/><circle cx="577.4" cy="1079.1" r="6.2"/><circle cx="587.3" cy="1086.1" r="6.2"/><circle cx="597.1" cy="1087.9" r="6.2"/><circle cx="607" cy="1094.9" r="6.2"/><circle cx="616.8" cy="1095.5" r="6.2"/><circle cx="626.7" cy="1099" r="6.2"/><circle cx="636.5" cy="1098.4" r="6.2"/></g>
<text x="84.6" y="1153.1" font-size="31" fill="#262626" text-anchor="middle" textLength="48" lengthAdjust="spacingAndGlyphs">100</text>
<text x="242.3" y="1153.1" font-size="31" fill="#262626" text-anchor="middle" textLength="48" lengthAdjust="spacingAndGlyphs">102</text>
<text x="400" y="1153.1" font-size="31" fill="#262626" text-anchor="middle" textLength="48" lengthAdjust="spacingAndGlyphs">104</text>
<text x="557.7" y="1153.1" font-size="31" fill="#262626" text-anchor="middle" textLength="48" lengthAdjust="spacingAndGlyphs">106</text>
<clipPath id="clipd"><rect x="721.7" y="593.7" width="552.1" height="509.9"/></clipPath>
<g clip-path="url(#clipd)">
<path d="M721.7 1103.6 L721.7 1103.6 722.7 1103.6 723.7 1103.6 724.7 1103.6 725.7 1103.6 726.7 1103.6 727.7 1103.6 728.7 1103.6 729.7 1103.6 730.7 1103.6 731.7 1103.6 732.7 1103.6 733.7 1103.6 734.7 1103.6 735.7 1103.6 736.7 1103.6 737.7 1103.6 738.7 1103.6 739.7 1103.6 740.7 1103.6 741.7 1103.6 742.7 1103.6 743.7 1103.6 744.7 1103.6 745.7 1103.6 746.7 1103.6 747.7 1103.6 748.7 1103.6 749.7 1103.6 750.7 1103.6 751.7 1103.6 752.7 1103.6 753.7 1103.6 754.7 1103.6 755.7 1103.6 756.7 1103.6 757.7 1103.6 758.7 1103.6 759.7 1103.6 760.7 1103.6 761.7 1103.6 762.7 1103.6 763.7 1103.6 764.7 1103.6 765.7 1103.6 766.7 1103.6 767.7 1103.6 768.7 1103.6 769.7 1103.6 770.7 1103.6 771.7 1103.6 772.7 1103.6 773.7 1103.6 774.7 1103.6 775.7 1103.6 776.7 1103.6 777.7 1103.6 778.7 1103.6 779.7 1103.6 780.7 1103.6 781.7 1103.6 782.7 1103.6 783.7 1103.6 784.7 1103.6 785.7 1103.6 786.7 1103.6 787.7 1103.6 788.7 1103.6 789.7 1103.5 790.7 1103.5 791.7 1103.5 792.7 1103.5 793.7 1103.5 794.7 1103.5 795.7 1103.5 796.7 1103.5 797.7 1103.5 798.7 1103.5 799.7 1103.5 800.7 1103.5 801.7 1103.5 802.7 1103.5 803.7 1103.4 804.7 1103.4 805.7 1103.4 806.7 1103.4 807.7 1103.4 808.7 1103.4 809.7 1103.4 810.7 1103.4 811.7 1103.3 812.7 1103.3 813.7 1103.3 814.7 1103.3 815.7 1103.3 816.7 1103.2 817.7 1103.2 818.7 1103.2 819.7 1103.1 820.7 1103.1 821.7 1103.1 822.7 1103 823.7 1103 824.7 1103 825.7 1102.9 826.7 1102.9 827.7 1102.8 828.7 1102.8 829.7 1102.7 830.7 1102.7 831.7 1102.6 832.7 1102.5 833.7 1102.5 834.7 1102.4 835.7 1102.3 836.7 1102.2 837.7 1102.2 838.7 1102.1 839.7 1102 840.7 1101.9 841.7 1101.8 842.7 1101.7 843.7 1101.5 844.7 1101.4 845.7 1101.3 846.7 1101.2 847.7 1101 848.7 1100.9 849.7 1100.7 850.7 1100.5 851.7 1100.3 852.7 1100.2 853.7 1100 854.7 1099.7 855.7 1099.5 856.7 1099.3 857.7 1099.1 858.7 1098.8 859.7 1098.5 860.7 1098.3 861.7 1098 862.7 1097.7 863.7 1097.3 864.7 1097 865.7 1096.6 866.7 1096.3 867.7 1095.9 868.7 1095.5 869.7 1095.1 870.7 1094.6 871.7 1094.2 872.7 1093.7 873.7 1093.2 874.7 1092.7 875.7 1092.1 876.7 1091.5 877.7 1090.9 878.7 1090.3 879.7 1089.7 880.7 1089 881.7 1088.3 882.7 1087.6 883.7 1086.8 884.7 1086 885.7 1085.2 886.7 1084.4 887.7 1083.5 888.7 1082.6 889.7 1081.6 890.7 1080.6 891.7 1079.6 892.7 1078.6 893.7 1077.5 894.7 1076.3 895.7 1075.1 896.7 1073.9 897.7 1072.7 898.7 1071.3 899.7 1070 900.7 1068.6 901.7 1067.2 902.7 1065.7 903.7 1064.1 904.7 1062.6 905.7 1060.9 906.7 1059.2 907.7 1057.5 908.7 1055.7 909.7 1053.9 910.7 1052 911.7 1050 912.7 1048 913.7 1045.9 914.7 1043.8 915.7 1041.6 916.7 1039.4 917.7 1037.1 918.7 1034.7 919.7 1032.3 920.7 1029.8 921.7 1027.3 922.7 1024.7 923.7 1022 924.7 1019.3 925.7 1016.5 926.7 1013.6 927.7 1010.7 928.7 1007.7 929.7 1004.7 930.7 1001.6 931.7 998.4 932.7 995.1 933.7 991.8 934.7 988.5 935.7 985 936.7 981.5 937.7 978 938.7 974.4 939.7 970.7 940.7 966.9 941.7 963.1 942.7 959.3 943.7 955.4 944.7 951.4 945.7 947.4 946.7 943.3 947.7 939.1 948.7 934.9 949.7 930.7 950.7 926.4 951.7 922.1 952.7 917.7 953.7 913.2 954.7 908.8 955.7 904.2 956.7 899.7 957.7 895.1 958.7 890.5 959.7 885.8 960.7 881.1 961.7 876.4 962.7 871.7 963.7 866.9 964.7 862.1 965.7 857.3 966.7 852.5 967.7 847.7 968.7 842.9 969.7 838 970.7 833.2 971.7 828.3 972.7 823.5 973.7 818.7 974.7 813.9 975.7 809.1 976.7 804.3 977.7 799.5 978.7 794.8 979.7 790 980.7 785.4 981.7 780.7 982.7 776.1 983.7 771.5 984.7 767 985.7 762.5 986.7 758.1 987.7 753.7 988.7 749.4 989.7 745.2 990.7 741 991.7 736.9 992.7 732.8 993.7 728.9 994.7 725 995.7 721.2 996.7 717.5 997.7 713.8 998.7 710.3 999.7 706.9 1000.7 703.5 1001.7 700.3 1002.7 697.2 1003.7 694.2 1004.7 691.3 1005.7 688.5 1006.7 685.8 1007.7 683.2 1008.7 680.8 1009.7 678.5 1010.7 676.3 1011.7 674.2 1012.7 672.3 1013.7 670.5 1014.7 668.8 1015.7 667.3 1016.7 665.9 1017.7 664.6 1018.7 663.5 1019.7 662.5 1020.7 661.7 1021.7 661 1022.7 660.4 1023.7 660 1024.7 659.7 1025.7 659.6 1026.7 659.6 1027.7 659.8 1028.7 660.1 1029.7 660.5 1030.7 661.1 1031.7 661.8 1032.7 662.7 1033.7 663.7 1034.7 664.9 1035.7 666.2 1036.7 667.6 1037.7 669.1 1038.7 670.8 1039.7 672.7 1040.7 674.6 1041.7 676.7 1042.7 678.9 1043.7 681.3 1044.7 683.7 1045.7 686.3 1046.7 689 1047.7 691.8 1048.7 694.8 1049.7 697.8 1050.7 701 1051.7 704.2 1052.7 707.6 1053.7 711 1054.7 714.6 1055.7 718.2 1056.7 721.9 1057.7 725.8 1058.7 729.7 1059.7 733.6 1060.7 737.7 1061.7 741.8 1062.7 746 1063.7 750.3 1064.7 754.6 1065.7 759 1066.7 763.4 1067.7 767.9 1068.7 772.4 1069.7 777 1070.7 781.6 1071.7 786.3 1072.7 791 1073.7 795.7 1074.7 800.5 1075.7 805.2 1076.7 810 1077.7 814.8 1078.7 819.6 1079.7 824.5 1080.7 829.3 1081.7 834.2 1082.7 839 1083.7 843.8 1084.7 848.7 1085.7 853.5 1086.7 858.3 1087.7 863.1 1088.7 867.9 1089.7 872.6 1090.7 877.4 1091.7 882.1 1092.7 886.8 1093.7 891.4 1094.7 896 1095.7 900.6 1096.7 905.2 1097.7 909.7 1098.7 914.1 1099.7 918.5 1100.7 922.9 1101.7 927.3 1102.7 931.5 1103.7 935.8 1104.7 940 1105.7 944.1 1106.7 948.2 1107.7 952.2 1108.7 956.1 1109.7 960.1 1110.7 963.9 1111.7 967.7 1112.7 971.4 1113.7 975.1 1114.7 978.7 1115.7 982.2 1116.7 985.7 1117.7 989.1 1118.7 992.5 1119.7 995.8 1120.7 999 1121.7 1002.2 1122.7 1005.3 1123.7 1008.3 1124.7 1011.3 1125.7 1014.2 1126.7 1017 1127.7 1019.8 1128.7 1022.5 1129.7 1025.2 1130.7 1027.8 1131.7 1030.3 1132.7 1032.8 1133.7 1035.2 1134.7 1037.6 1135.7 1039.8 1136.7 1042.1 1137.7 1044.2 1138.7 1046.4 1139.7 1048.4 1140.7 1050.4 1141.7 1052.3 1142.7 1054.2 1143.7 1056.1 1144.7 1057.8 1145.7 1059.6 1146.7 1061.2 1147.7 1062.9 1148.7 1064.4 1149.7 1066 1150.7 1067.5 1151.7 1068.9 1152.7 1070.3 1153.7 1071.6 1154.7 1072.9 1155.7 1074.2 1156.7 1075.4 1157.7 1076.5 1158.7 1077.7 1159.7 1078.8 1160.7 1079.8 1161.7 1080.8 1162.7 1081.8 1163.7 1082.8 1164.7 1083.7 1165.7 1084.5 1166.7 1085.4 1167.7 1086.2 1168.7 1087 1169.7 1087.7 1170.7 1088.5 1171.7 1089.1 1172.7 1089.8 1173.7 1090.5 1174.7 1091.1 1175.7 1091.7 1176.7 1092.2 1177.7 1092.8 1178.7 1093.3 1179.7 1093.8 1180.7 1094.3 1181.7 1094.7 1182.7 1095.2 1183.7 1095.6 1184.7 1096 1185.7 1096.4 1186.7 1096.7 1187.7 1097.1 1188.7 1097.4 1189.7 1097.7 1190.7 1098 1191.7 1098.3 1192.7 1098.6 1193.7 1098.9 1194.7 1099.1 1195.7 1099.3 1196.7 1099.6 1197.7 1099.8 1198.7 1100 1199.7 1100.2 1200.7 1100.4 1201.7 1100.6 1202.7 1100.7 1203.7 1100.9 1204.7 1101 1205.7 1101.2 1206.7 1101.3 1207.7 1101.4 1208.7 1101.6 1209.7 1101.7 1210.7 1101.8 1211.7 1101.9 1212.7 1102 1213.7 1102.1 1214.7 1102.2 1215.7 1102.3 1216.7 1102.3 1217.7 1102.4 1218.7 1102.5 1219.7 1102.6 1220.7 1102.6 1221.7 1102.7 1222.7 1102.7 1223.7 1102.8 1224.7 1102.8 1225.7 1102.9 1226.7 1102.9 1227.7 1103 1228.7 1103 1229.7 1103.1 1230.7 1103.1 1231.7 1103.1 1232.7 1103.2 1233.7 1103.2 1234.7 1103.2 1235.7 1103.2 1236.7 1103.3 1237.7 1103.3 1238.7 1103.3 1239.7 1103.3 1240.7 1103.3 1241.7 1103.4 1242.7 1103.4 1243.7 1103.4 1244.7 1103.4 1245.7 1103.4 1246.7 1103.4 1247.7 1103.4 1248.7 1103.5 1249.7 1103.5 1250.7 1103.5 1251.7 1103.5 1252.7 1103.5 1253.7 1103.5 1254.7 1103.5 1255.7 1103.5 1256.7 1103.5 1257.7 1103.5 1258.7 1103.5 1259.7 1103.5 1260.7 1103.5 1261.7 1103.5 1262.7 1103.5 1263.7 1103.6 1264.7 1103.6 1265.7 1103.6 1266.7 1103.6 1267.7 1103.6 1268.7 1103.6 1269.7 1103.6 1270.7 1103.6 1271.7 1103.6 1272.7 1103.6 1273.7 1103.6 L1273.8 1103.6 Z" fill="#dad9a6"/>
<path d="M721.7 1103.6 L721.7 1103.5 722.7 1103.5 723.7 1103.5 724.7 1103.5 725.7 1103.5 726.7 1103.5 727.7 1103.5 728.7 1103.5 729.7 1103.5 730.7 1103.5 731.7 1103.5 732.7 1103.5 733.7 1103.5 734.7 1103.5 735.7 1103.5 736.7 1103.5 737.7 1103.5 738.7 1103.5 739.7 1103.5 740.7 1103.5 741.7 1103.5 742.7 1103.5 743.7 1103.5 744.7 1103.5 745.7 1103.5 746.7 1103.5 747.7 1103.5 748.7 1103.5 749.7 1103.5 750.7 1103.5 751.7 1103.5 752.7 1103.5 753.7 1103.5 754.7 1103.5 755.7 1103.5 756.7 1103.5 757.7 1103.5 758.7 1103.5 759.7 1103.5 760.7 1103.5 761.7 1103.5 762.7 1103.5 763.7 1103.5 764.7 1103.5 765.7 1103.5 766.7 1103.5 767.7 1103.5 768.7 1103.5 769.7 1103.5 770.7 1103.5 771.7 1103.5 772.7 1103.5 773.7 1103.5 774.7 1103.5 775.7 1103.5 776.7 1103.5 777.7 1103.5 778.7 1103.5 779.7 1103.5 780.7 1103.5 781.7 1103.5 782.7 1103.5 783.7 1103.5 784.7 1103.5 785.7 1103.5 786.7 1103.5 787.7 1103.5 788.7 1103.5 789.7 1103.5 790.7 1103.5 791.7 1103.5 792.7 1103.5 793.7 1103.5 794.7 1103.5 795.7 1103.5 796.7 1103.5 797.7 1103.5 798.7 1103.5 799.7 1103.5 800.7 1103.5 801.7 1103.5 802.7 1103.5 803.7 1103.5 804.7 1103.5 805.7 1103.5 806.7 1103.5 807.7 1103.5 808.7 1103.5 809.7 1103.5 810.7 1103.5 811.7 1103.5 812.7 1103.5 813.7 1103.5 814.7 1103.5 815.7 1103.5 816.7 1103.5 817.7 1103.5 818.7 1103.5 819.7 1103.5 820.7 1103.5 821.7 1103.5 822.7 1103.5 823.7 1103.5 824.7 1103.5 825.7 1103.5 826.7 1103.5 827.7 1103.5 828.7 1103.5 829.7 1103.5 830.7 1103.5 831.7 1103.5 832.7 1103.5 833.7 1103.5 834.7 1103.5 835.7 1103.5 836.7 1103.5 837.7 1103.5 838.7 1103.5 839.7 1103.5 840.7 1103.5 841.7 1103.5 842.7 1103.5 843.7 1103.5 844.7 1103.5 845.7 1103.5 846.7 1103.5 847.7 1103.5 848.7 1103.5 849.7 1103.5 850.7 1103.5 851.7 1103.5 852.7 1103.5 853.7 1103.5 854.7 1103.5 855.7 1103.5 856.7 1103.5 857.7 1103.5 858.7 1103.5 859.7 1103.5 860.7 1103.5 861.7 1103.5 862.7 1103.5 863.7 1103.5 864.7 1103.5 865.7 1103.5 866.7 1103.5 867.7 1103.5 868.7 1103.5 869.7 1103.5 870.7 1103.5 871.7 1103.5 872.7 1103.5 873.7 1103.5 874.7 1103.5 875.7 1103.5 876.7 1103.5 877.7 1103.4 878.7 1103.4 879.7 1103.4 880.7 1103.4 881.7 1103.4 882.7 1103.4 883.7 1103.4 884.7 1103.4 885.7 1103.4 886.7 1103.4 887.7 1103.4 888.7 1103.4 889.7 1103.4 890.7 1103.4 891.7 1103.4 892.7 1103.4 893.7 1103.4 894.7 1103.4 895.7 1103.4 896.7 1103.4 897.7 1103.4 898.7 1103.4 899.7 1103.4 900.7 1103.4 901.7 1103.4 902.7 1103.4 903.7 1103.4 904.7 1103.3 905.7 1103.3 906.7 1103.3 907.7 1103.3 908.7 1103.3 909.7 1103.3 910.7 1103.3 911.7 1103.3 912.7 1103.3 913.7 1103.3 914.7 1103.2 915.7 1103.2 916.7 1103.2 917.7 1103.2 918.7 1103.2 919.7 1103.2 920.7 1103.2 921.7 1103.1 922.7 1103.1 923.7 1103.1 924.7 1103.1 925.7 1103.1 926.7 1103 927.7 1103 928.7 1103 929.7 1103 930.7 1103 931.7 1102.9 932.7 1102.9 933.7 1102.9 934.7 1102.8 935.7 1102.8 936.7 1102.8 937.7 1102.7 938.7 1102.7 939.7 1102.6 940.7 1102.6 941.7 1102.6 942.7 1102.5 943.7 1102.5 944.7 1102.4 945.7 1102.3 946.7 1102.3 947.7 1102.2 948.7 1102.2 949.7 1102.1 950.7 1102 951.7 1102 952.7 1101.9 953.7 1101.8 954.7 1101.7 955.7 1101.6 956.7 1101.5 957.7 1101.4 958.7 1101.4 959.7 1101.2 960.7 1101.1 961.7 1101 962.7 1100.9 963.7 1100.8 964.7 1100.7 965.7 1100.5 966.7 1100.4 967.7 1100.3 968.7 1100.1 969.7 1100 970.7 1099.8 971.7 1099.6 972.7 1099.5 973.7 1099.3 974.7 1099.1 975.7 1098.9 976.7 1098.7 977.7 1098.5 978.7 1098.3 979.7 1098.1 980.7 1097.8 981.7 1097.6 982.7 1097.3 983.7 1097.1 984.7 1096.8 985.7 1096.5 986.7 1096.3 987.7 1096 988.7 1095.7 989.7 1095.4 990.7 1095 991.7 1094.7 992.7 1094.4 993.7 1094 994.7 1093.6 995.7 1093.3 996.7 1092.9 997.7 1092.5 998.7 1092.1 999.7 1091.7 1000.7 1091.2 1001.7 1090.8 1002.7 1090.3 1003.7 1089.9 1004.7 1089.4 1005.7 1088.9 1006.7 1088.4 1007.7 1087.9 1008.7 1087.3 1009.7 1086.8 1010.7 1086.2 1011.7 1085.6 1012.7 1085.1 1013.7 1084.5 1014.7 1083.9 1015.7 1083.2 1016.7 1082.6 1017.7 1081.9 1018.7 1081.3 1019.7 1080.6 1020.7 1079.9 1021.7 1079.2 1022.7 1078.5 1023.7 1077.7 1024.7 1077 1025.7 1076.2 1026.7 1075.5 1027.7 1074.7 1028.7 1073.9 1029.7 1073.1 1030.7 1072.3 1031.7 1071.4 1032.7 1070.6 1033.7 1069.7 1034.7 1068.8 1035.7 1068 1036.7 1067.1 1037.7 1066.2 1038.7 1065.2 1039.7 1064.3 1040.7 1063.4 1041.7 1062.4 1042.7 1061.5 1043.7 1060.5 1044.7 1059.6 1045.7 1058.6 1046.7 1057.6 1047.7 1056.6 1048.7 1055.6 1049.7 1054.6 1050.7 1053.6 1051.7 1052.6 1052.7 1051.5 1053.7 1050.5 1054.7 1049.5 1055.7 1048.5 1056.7 1047.4 1057.7 1046.4 1058.7 1045.4 1059.7 1044.3 1060.7 1043.3 1061.7 1042.3 1062.7 1041.2 1063.7 1040.2 1064.7 1039.2 1065.7 1038.2 1066.7 1037.1 1067.7 1036.1 1068.7 1035.1 1069.7 1034.1 1070.7 1033.1 1071.7 1032.2 1072.7 1031.2 1073.7 1030.2 1074.7 1029.3 1075.7 1028.3 1076.7 1027.4 1077.7 1026.5 1078.7 1025.6 1079.7 1024.7 1080.7 1023.8 1081.7 1023 1082.7 1022.1 1083.7 1021.3 1084.7 1020.5 1085.7 1019.7 1086.7 1018.9 1087.7 1018.2 1088.7 1017.5 1089.7 1016.7 1090.7 1016.1 1091.7 1015.4 1092.7 1014.8 1093.7 1014.2 1094.7 1013.6 1095.7 1013 1096.7 1012.5 1097.7 1011.9 1098.7 1011.5 1099.7 1011 1100.7 1010.6 1101.7 1010.2 1102.7 1009.8 1103.7 1009.4 1104.7 1009.1 1105.7 1008.8 1106.7 1008.6 1107.7 1008.4 1108.7 1008.2 1109.7 1008 1110.7 1007.8 1111.7 1007.7 1112.7 1007.7 1113.7 1007.6 1114.7 1007.6 1115.7 1007.6 1116.7 1007.7 1117.7 1007.7 1118.7 1007.8 1119.7 1008 1120.7 1008.2 1121.7 1008.4 1122.7 1008.6 1123.7 1008.8 1124.7 1009.1 1125.7 1009.4 1126.7 1009.8 1127.7 1010.2 1128.7 1010.6 1129.7 1011 1130.7 1011.5 1131.7 1011.9 1132.7 1012.5 1133.7 1013 1134.7 1013.6 1135.7 1014.2 1136.7 1014.8 1137.7 1015.4 1138.7 1016.1 1139.7 1016.7 1140.7 1017.5 1141.7 1018.2 1142.7 1018.9 1143.7 1019.7 1144.7 1020.5 1145.7 1021.3 1146.7 1022.1 1147.7 1023 1148.7 1023.8 1149.7 1024.7 1150.7 1025.6 1151.7 1026.5 1152.7 1027.4 1153.7 1028.3 1154.7 1029.3 1155.7 1030.2 1156.7 1031.2 1157.7 1032.2 1158.7 1033.1 1159.7 1034.1 1160.7 1035.1 1161.7 1036.1 1162.7 1037.1 1163.7 1038.2 1164.7 1039.2 1165.7 1040.2 1166.7 1041.2 1167.7 1042.3 1168.7 1043.3 1169.7 1044.3 1170.7 1045.4 1171.7 1046.4 1172.7 1047.4 1173.7 1048.5 1174.7 1049.5 1175.7 1050.5 1176.7 1051.5 1177.7 1052.6 1178.7 1053.6 1179.7 1054.6 1180.7 1055.6 1181.7 1056.6 1182.7 1057.6 1183.7 1058.6 1184.7 1059.6 1185.7 1060.5 1186.7 1061.5 1187.7 1062.4 1188.7 1063.4 1189.7 1064.3 1190.7 1065.2 1191.7 1066.2 1192.7 1067.1 1193.7 1068 1194.7 1068.8 1195.7 1069.7 1196.7 1070.6 1197.7 1071.4 1198.7 1072.3 1199.7 1073.1 1200.7 1073.9 1201.7 1074.7 1202.7 1075.5 1203.7 1076.2 1204.7 1077 1205.7 1077.7 1206.7 1078.5 1207.7 1079.2 1208.7 1079.9 1209.7 1080.6 1210.7 1081.3 1211.7 1081.9 1212.7 1082.6 1213.7 1083.2 1214.7 1083.9 1215.7 1084.5 1216.7 1085.1 1217.7 1085.6 1218.7 1086.2 1219.7 1086.8 1220.7 1087.3 1221.7 1087.9 1222.7 1088.4 1223.7 1088.9 1224.7 1089.4 1225.7 1089.9 1226.7 1090.3 1227.7 1090.8 1228.7 1091.2 1229.7 1091.7 1230.7 1092.1 1231.7 1092.5 1232.7 1092.9 1233.7 1093.3 1234.7 1093.6 1235.7 1094 1236.7 1094.4 1237.7 1094.7 1238.7 1095 1239.7 1095.4 1240.7 1095.7 1241.7 1096 1242.7 1096.3 1243.7 1096.5 1244.7 1096.8 1245.7 1097.1 1246.7 1097.3 1247.7 1097.6 1248.7 1097.8 1249.7 1098.1 1250.7 1098.3 1251.7 1098.5 1252.7 1098.7 1253.7 1098.9 1254.7 1099.1 1255.7 1099.3 1256.7 1099.5 1257.7 1099.6 1258.7 1099.8 1259.7 1100 1260.7 1100.1 1261.7 1100.3 1262.7 1100.4 1263.7 1100.5 1264.7 1100.7 1265.7 1100.8 1266.7 1100.9 1267.7 1101 1268.7 1101.1 1269.7 1101.2 1270.7 1101.4 1271.7 1101.4 1272.7 1101.5 1273.7 1101.6 L1273.8 1103.6 Z" fill="#8f8fa9"/>
<path d="M721.7 1103.6 L721.7 1103.6 722.7 1103.6 723.7 1103.6 724.7 1103.6 725.7 1103.6 726.7 1103.6 727.7 1103.6 728.7 1103.6 729.7 1103.6 730.7 1103.6 731.7 1103.6 732.7 1103.6 733.7 1103.6 734.7 1103.6 735.7 1103.6 736.7 1103.6 737.7 1103.6 738.7 1103.6 739.7 1103.6 740.7 1103.6 741.7 1103.6 742.7 1103.6 743.7 1103.6 744.7 1103.6 745.7 1103.6 746.7 1103.6 747.7 1103.6 748.7 1103.6 749.7 1103.5 750.7 1103.5 751.7 1103.5 752.7 1103.5 753.7 1103.5 754.7 1103.5 755.7 1103.5 756.7 1103.5 757.7 1103.5 758.7 1103.5 759.7 1103.5 760.7 1103.5 761.7 1103.5 762.7 1103.5 763.7 1103.4 764.7 1103.4 765.7 1103.4 766.7 1103.4 767.7 1103.4 768.7 1103.4 769.7 1103.3 770.7 1103.3 771.7 1103.3 772.7 1103.3 773.7 1103.3 774.7 1103.2 775.7 1103.2 776.7 1103.2 777.7 1103.1 778.7 1103.1 779.7 1103.1 780.7 1103 781.7 1103 782.7 1102.9 783.7 1102.9 784.7 1102.8 785.7 1102.8 786.7 1102.7 787.7 1102.7 788.7 1102.6 789.7 1102.5 790.7 1102.4 791.7 1102.4 792.7 1102.3 793.7 1102.2 794.7 1102.1 795.7 1102 796.7 1101.9 797.7 1101.8 798.7 1101.7 799.7 1101.5 800.7 1101.4 801.7 1101.3 802.7 1101.1 803.7 1100.9 804.7 1100.8 805.7 1100.6 806.7 1100.4 807.7 1100.2 808.7 1100 809.7 1099.8 810.7 1099.6 811.7 1099.4 812.7 1099.1 813.7 1098.9 814.7 1098.6 815.7 1098.3 816.7 1098 817.7 1097.7 818.7 1097.4 819.7 1097 820.7 1096.7 821.7 1096.3 822.7 1095.9 823.7 1095.5 824.7 1095.1 825.7 1094.7 826.7 1094.2 827.7 1093.7 828.7 1093.2 829.7 1092.7 830.7 1092.2 831.7 1091.6 832.7 1091 833.7 1090.5 834.7 1089.8 835.7 1089.2 836.7 1088.5 837.7 1087.8 838.7 1087.1 839.7 1086.4 840.7 1085.6 841.7 1084.9 842.7 1084 843.7 1083.2 844.7 1082.3 845.7 1081.5 846.7 1080.6 847.7 1079.6 848.7 1078.7 849.7 1077.7 850.7 1076.7 851.7 1075.6 852.7 1074.5 853.7 1073.4 854.7 1072.3 855.7 1071.2 856.7 1070 857.7 1068.8 858.7 1067.6 859.7 1066.3 860.7 1065.1 861.7 1063.7 862.7 1062.4 863.7 1061.1 864.7 1059.7 865.7 1058.3 866.7 1056.9 867.7 1055.5 868.7 1054 869.7 1052.5 870.7 1051 871.7 1049.5 872.7 1048 873.7 1046.4 874.7 1044.9 875.7 1043.3 876.7 1041.7 877.7 1040.1 878.7 1038.5 879.7 1036.8 880.7 1035.2 881.7 1033.6 882.7 1031.9 883.7 1030.3 884.7 1028.6 885.7 1027 886.7 1025.3 887.7 1023.7 888.7 1022 889.7 1020.4 890.7 1018.8 891.7 1017.1 892.7 1015.5 893.7 1013.9 894.7 1012.4 895.7 1010.8 896.7 1009.2 897.7 1007.7 898.7 1006.2 899.7 1004.7 900.7 1003.3 901.7 1001.8 902.7 1000.4 903.7 999.1 904.7 997.7 905.7 996.4 906.7 995.1 907.7 993.9 908.7 992.7 909.7 991.6 910.7 990.4 911.7 989.4 912.7 988.3 913.7 987.4 914.7 986.4 915.7 985.6 916.7 984.7 917.7 983.9 918.7 983.2 919.7 982.5 920.7 981.9 921.7 981.3 922.7 980.8 923.7 980.4 924.7 980 925.7 979.6 926.7 979.3 927.7 979.1 928.7 979 929.7 978.9 930.7 978.8 931.7 978.8 932.7 978.9 933.7 979 934.7 979.2 935.7 979.5 936.7 979.8 937.7 980.1 938.7 980.5 939.7 981 940.7 981.6 941.7 982.2 942.7 982.8 943.7 983.5 944.7 984.2 945.7 985 946.7 985.9 947.7 986.8 948.7 987.8 949.7 988.8 950.7 989.8 951.7 990.9 952.7 992 953.7 993.2 954.7 994.4 955.7 995.6 956.7 996.9 957.7 998.3 958.7 999.6 959.7 1001 960.7 1002.4 961.7 1003.8 962.7 1005.3 963.7 1006.8 964.7 1008.3 965.7 1009.9 966.7 1011.4 967.7 1013 968.7 1014.6 969.7 1016.2 970.7 1017.8 971.7 1019.4 972.7 1021.1 973.7 1022.7 974.7 1024.3 975.7 1026 976.7 1027.6 977.7 1029.3 978.7 1030.9 979.7 1032.6 980.7 1034.2 981.7 1035.9 982.7 1037.5 983.7 1039.1 984.7 1040.7 985.7 1042.3 986.7 1043.9 987.7 1045.5 988.7 1047 989.7 1048.6 990.7 1050.1 991.7 1051.6 992.7 1053.1 993.7 1054.6 994.7 1056 995.7 1057.5 996.7 1058.9 997.7 1060.3 998.7 1061.6 999.7 1063 1000.7 1064.3 1001.7 1065.6 1002.7 1066.8 1003.7 1068.1 1004.7 1069.3 1005.7 1070.5 1006.7 1071.6 1007.7 1072.8 1008.7 1073.9 1009.7 1075 1010.7 1076 1011.7 1077.1 1012.7 1078.1 1013.7 1079 1014.7 1080 1015.7 1080.9 1016.7 1081.8 1017.7 1082.7 1018.7 1083.5 1019.7 1084.4 1020.7 1085.2 1021.7 1085.9 1022.7 1086.7 1023.7 1087.4 1024.7 1088.1 1025.7 1088.8 1026.7 1089.5 1027.7 1090.1 1028.7 1090.7 1029.7 1091.3 1030.7 1091.8 1031.7 1092.4 1032.7 1092.9 1033.7 1093.4 1034.7 1093.9 1035.7 1094.4 1036.7 1094.8 1037.7 1095.3 1038.7 1095.7 1039.7 1096.1 1040.7 1096.5 1041.7 1096.8 1042.7 1097.2 1043.7 1097.5 1044.7 1097.8 1045.7 1098.1 1046.7 1098.4 1047.7 1098.7 1048.7 1099 1049.7 1099.2 1050.7 1099.5 1051.7 1099.7 1052.7 1099.9 1053.7 1100.1 1054.7 1100.3 1055.7 1100.5 1056.7 1100.7 1057.7 1100.9 1058.7 1101 1059.7 1101.2 1060.7 1101.3 1061.7 1101.4 1062.7 1101.6 1063.7 1101.7 1064.7 1101.8 1065.7 1101.9 1066.7 1102 1067.7 1102.1 1068.7 1102.2 1069.7 1102.3 1070.7 1102.4 1071.7 1102.5 1072.7 1102.5 1073.7 1102.6 1074.7 1102.7 1075.7 1102.7 1076.7 1102.8 1077.7 1102.9 1078.7 1102.9 1079.7 1102.9 1080.7 1103 1081.7 1103 1082.7 1103.1 1083.7 1103.1 1084.7 1103.1 1085.7 1103.2 1086.7 1103.2 1087.7 1103.2 1088.7 1103.3 1089.7 1103.3 1090.7 1103.3 1091.7 1103.3 1092.7 1103.4 1093.7 1103.4 1094.7 1103.4 1095.7 1103.4 1096.7 1103.4 1097.7 1103.4 1098.7 1103.4 1099.7 1103.5 1100.7 1103.5 1101.7 1103.5 1102.7 1103.5 1103.7 1103.5 1104.7 1103.5 1105.7 1103.5 1106.7 1103.5 1107.7 1103.5 1108.7 1103.5 1109.7 1103.5 1110.7 1103.5 1111.7 1103.5 1112.7 1103.6 1113.7 1103.6 1114.7 1103.6 1115.7 1103.6 1116.7 1103.6 1117.7 1103.6 1118.7 1103.6 1119.7 1103.6 1120.7 1103.6 1121.7 1103.6 1122.7 1103.6 1123.7 1103.6 1124.7 1103.6 1125.7 1103.6 1126.7 1103.6 1127.7 1103.6 1128.7 1103.6 1129.7 1103.6 1130.7 1103.6 1131.7 1103.6 1132.7 1103.6 1133.7 1103.6 1134.7 1103.6 1135.7 1103.6 1136.7 1103.6 1137.7 1103.6 1138.7 1103.6 1139.7 1103.6 1140.7 1103.6 1141.7 1103.6 1142.7 1103.6 1143.7 1103.6 1144.7 1103.6 1145.7 1103.6 1146.7 1103.6 1147.7 1103.6 1148.7 1103.6 1149.7 1103.6 1150.7 1103.6 1151.7 1103.6 1152.7 1103.6 1153.7 1103.6 1154.7 1103.6 1155.7 1103.6 1156.7 1103.6 1157.7 1103.6 1158.7 1103.6 1159.7 1103.6 1160.7 1103.6 1161.7 1103.6 1162.7 1103.6 1163.7 1103.6 1164.7 1103.6 1165.7 1103.6 1166.7 1103.6 1167.7 1103.6 1168.7 1103.6 1169.7 1103.6 1170.7 1103.6 1171.7 1103.6 1172.7 1103.6 1173.7 1103.6 1174.7 1103.6 1175.7 1103.6 1176.7 1103.6 1177.7 1103.6 1178.7 1103.6 1179.7 1103.6 1180.7 1103.6 1181.7 1103.6 1182.7 1103.6 1183.7 1103.6 1184.7 1103.6 1185.7 1103.6 1186.7 1103.6 1187.7 1103.6 1188.7 1103.6 1189.7 1103.6 1190.7 1103.6 1191.7 1103.6 1192.7 1103.6 1193.7 1103.6 1194.7 1103.6 1195.7 1103.6 1196.7 1103.6 1197.7 1103.6 1198.7 1103.6 1199.7 1103.6 1200.7 1103.6 1201.7 1103.6 1202.7 1103.6 1203.7 1103.6 1204.7 1103.6 1205.7 1103.6 1206.7 1103.6 1207.7 1103.6 1208.7 1103.6 1209.7 1103.6 1210.7 1103.6 1211.7 1103.6 1212.7 1103.6 1213.7 1103.6 1214.7 1103.6 1215.7 1103.6 1216.7 1103.6 1217.7 1103.6 1218.7 1103.6 1219.7 1103.6 1220.7 1103.6 1221.7 1103.6 1222.7 1103.6 1223.7 1103.6 1224.7 1103.6 1225.7 1103.6 1226.7 1103.6 1227.7 1103.6 1228.7 1103.6 1229.7 1103.6 1230.7 1103.6 1231.7 1103.6 1232.7 1103.6 1233.7 1103.6 1234.7 1103.6 1235.7 1103.6 1236.7 1103.6 1237.7 1103.6 1238.7 1103.6 1239.7 1103.6 1240.7 1103.6 1241.7 1103.6 1242.7 1103.6 1243.7 1103.6 1244.7 1103.6 1245.7 1103.6 1246.7 1103.6 1247.7 1103.6 1248.7 1103.6 1249.7 1103.6 1250.7 1103.6 1251.7 1103.6 1252.7 1103.6 1253.7 1103.6 1254.7 1103.6 1255.7 1103.6 1256.7 1103.6 1257.7 1103.6 1258.7 1103.6 1259.7 1103.6 1260.7 1103.6 1261.7 1103.6 1262.7 1103.6 1263.7 1103.6 1264.7 1103.6 1265.7 1103.6 1266.7 1103.6 1267.7 1103.6 1268.7 1103.6 1269.7 1103.6 1270.7 1103.6 1271.7 1103.6 1272.7 1103.6 1273.7 1103.6 L1273.8 1103.6 Z" fill="#343459"/>
<path d="M721.7 1103.6 L722.7 1103.6 L723.7 1103.6 L724.7 1103.6 L725.7 1103.6 L726.7 1103.6 L727.7 1103.6 L728.7 1103.6 L729.7 1103.6 L730.7 1103.6 L731.7 1103.6 L732.7 1103.6 L733.7 1103.6 L734.7 1103.6 L735.7 1103.6 L736.7 1103.6 L737.7 1103.6 L738.7 1103.6 L739.7 1103.6 L740.7 1103.6 L741.7 1103.6 L742.7 1103.6 L743.7 1103.6 L744.7 1103.6 L745.7 1103.6 L746.7 1103.6 L747.7 1103.6 L748.7 1103.6 L749.7 1103.6 L750.7 1103.6 L751.7 1103.6 L752.7 1103.6 L753.7 1103.6 L754.7 1103.6 L755.7 1103.6 L756.7 1103.6 L757.7 1103.6 L758.7 1103.6 L759.7 1103.6 L760.7 1103.6 L761.7 1103.6 L762.7 1103.6 L763.7 1103.6 L764.7 1103.6 L765.7 1103.6 L766.7 1103.6 L767.7 1103.6 L768.7 1103.6 L769.7 1103.6 L770.7 1103.6 L771.7 1103.6 L772.7 1103.6 L773.7 1103.6 L774.7 1103.6 L775.7 1103.6 L776.7 1103.6 L777.7 1103.6 L778.7 1103.6 L779.7 1103.6 L780.7 1103.6 L781.7 1103.6 L782.7 1103.6 L783.7 1103.6 L784.7 1103.6 L785.7 1103.6 L786.7 1103.6 L787.7 1103.6 L788.7 1103.6 L789.7 1103.5 L790.7 1103.5 L791.7 1103.5 L792.7 1103.5 L793.7 1103.5 L794.7 1103.5 L795.7 1103.5 L796.7 1103.5 L797.7 1103.5 L798.7 1103.5 L799.7 1103.5 L800.7 1103.5 L801.7 1103.5 L802.7 1103.5 L803.7 1103.4 L804.7 1103.4 L805.7 1103.4 L806.7 1103.4 L807.7 1103.4 L808.7 1103.4 L809.7 1103.4 L810.7 1103.4 L811.7 1103.3 L812.7 1103.3 L813.7 1103.3 L814.7 1103.3 L815.7 1103.3 L816.7 1103.2 L817.7 1103.2 L818.7 1103.2 L819.7 1103.1 L820.7 1103.1 L821.7 1103.1 L822.7 1103 L823.7 1103 L824.7 1103 L825.7 1102.9 L826.7 1102.9 L827.7 1102.8 L828.7 1102.8 L829.7 1102.7 L830.7 1102.7 L831.7 1102.6 L832.7 1102.5 L833.7 1102.5 L834.7 1102.4 L835.7 1102.3 L836.7 1102.2 L837.7 1102.2 L838.7 1102.1 L839.7 1102 L840.7 1101.9 L841.7 1101.8 L842.7 1101.7 L843.7 1101.5 L844.7 1101.4 L845.7 1101.3 L846.7 1101.2 L847.7 1101 L848.7 1100.9 L849.7 1100.7 L850.7 1100.5 L851.7 1100.3 L852.7 1100.2 L853.7 1100 L854.7 1099.7 L855.7 1099.5 L856.7 1099.3 L857.7 1099.1 L858.7 1098.8 L859.7 1098.5 L860.7 1098.3 L861.7 1098 L862.7 1097.7 L863.7 1097.3 L864.7 1097 L865.7 1096.6 L866.7 1096.3 L867.7 1095.9 L868.7 1095.5 L869.7 1095.1 L870.7 1094.6 L871.7 1094.2 L872.7 1093.7 L873.7 1093.2 L874.7 1092.7 L875.7 1092.1 L876.7 1091.5 L877.7 1090.9 L878.7 1090.3 L879.7 1089.7 L880.7 1089 L881.7 1088.3 L882.7 1087.6 L883.7 1086.8 L884.7 1086 L885.7 1085.2 L886.7 1084.4 L887.7 1083.5 L888.7 1082.6 L889.7 1081.6 L890.7 1080.6 L891.7 1079.6 L892.7 1078.6 L893.7 1077.5 L894.7 1076.3 L895.7 1075.1 L896.7 1073.9 L897.7 1072.7 L898.7 1071.3 L899.7 1070 L900.7 1068.6 L901.7 1067.2 L902.7 1065.7 L903.7 1064.1 L904.7 1062.6 L905.7 1060.9 L906.7 1059.2 L907.7 1057.5 L908.7 1055.7 L909.7 1053.9 L910.7 1052 L911.7 1050 L912.7 1048 L913.7 1045.9 L914.7 1043.8 L915.7 1041.6 L916.7 1039.4 L917.7 1037.1 L918.7 1034.7 L919.7 1032.3 L920.7 1029.8 L921.7 1027.3 L922.7 1024.7 L923.7 1022 L924.7 1019.3 L925.7 1016.5 L926.7 1013.6 L927.7 1010.7 L928.7 1007.7 L929.7 1004.7 L930.7 1001.6 L931.7 998.4 L932.7 995.1 L933.7 991.8 L934.7 988.5 L935.7 985 L936.7 981.5 L937.7 978 L938.7 974.4 L939.7 970.7 L940.7 966.9 L941.7 963.1 L942.7 959.3 L943.7 955.4 L944.7 951.4 L945.7 947.4 L946.7 943.3 L947.7 939.1 L948.7 934.9 L949.7 930.7 L950.7 926.4 L951.7 922.1 L952.7 917.7 L953.7 913.2 L954.7 908.8 L955.7 904.2 L956.7 899.7 L957.7 895.1 L958.7 890.5 L959.7 885.8 L960.7 881.1 L961.7 876.4 L962.7 871.7 L963.7 866.9 L964.7 862.1 L965.7 857.3 L966.7 852.5 L967.7 847.7 L968.7 842.9 L969.7 838 L970.7 833.2 L971.7 828.3 L972.7 823.5 L973.7 818.7 L974.7 813.9 L975.7 809.1 L976.7 804.3 L977.7 799.5 L978.7 794.8 L979.7 790 L980.7 785.4 L981.7 780.7 L982.7 776.1 L983.7 771.5 L984.7 767 L985.7 762.5 L986.7 758.1 L987.7 753.7 L988.7 749.4 L989.7 745.2 L990.7 741 L991.7 736.9 L992.7 732.8 L993.7 728.9 L994.7 725 L995.7 721.2 L996.7 717.5 L997.7 713.8 L998.7 710.3 L999.7 706.9 L1000.7 703.5 L1001.7 700.3 L1002.7 697.2 L1003.7 694.2 L1004.7 691.3 L1005.7 688.5 L1006.7 685.8 L1007.7 683.2 L1008.7 680.8 L1009.7 678.5 L1010.7 676.3 L1011.7 674.2 L1012.7 672.3 L1013.7 670.5 L1014.7 668.8 L1015.7 667.3 L1016.7 665.9 L1017.7 664.6 L1018.7 663.5 L1019.7 662.5 L1020.7 661.7 L1021.7 661 L1022.7 660.4 L1023.7 660 L1024.7 659.7 L1025.7 659.6 L1026.7 659.6 L1027.7 659.8 L1028.7 660.1 L1029.7 660.5 L1030.7 661.1 L1031.7 661.8 L1032.7 662.7 L1033.7 663.7 L1034.7 664.9 L1035.7 666.2 L1036.7 667.6 L1037.7 669.1 L1038.7 670.8 L1039.7 672.7 L1040.7 674.6 L1041.7 676.7 L1042.7 678.9 L1043.7 681.3 L1044.7 683.7 L1045.7 686.3 L1046.7 689 L1047.7 691.8 L1048.7 694.8 L1049.7 697.8 L1050.7 701 L1051.7 704.2 L1052.7 707.6 L1053.7 711 L1054.7 714.6 L1055.7 718.2 L1056.7 721.9 L1057.7 725.8 L1058.7 729.7 L1059.7 733.6 L1060.7 737.7 L1061.7 741.8 L1062.7 746 L1063.7 750.3 L1064.7 754.6 L1065.7 759 L1066.7 763.4 L1067.7 767.9 L1068.7 772.4 L1069.7 777 L1070.7 781.6 L1071.7 786.3 L1072.7 791 L1073.7 795.7 L1074.7 800.5 L1075.7 805.2 L1076.7 810 L1077.7 814.8 L1078.7 819.6 L1079.7 824.5 L1080.7 829.3 L1081.7 834.2 L1082.7 839 L1083.7 843.8 L1084.7 848.7 L1085.7 853.5 L1086.7 858.3 L1087.7 863.1 L1088.7 867.9 L1089.7 872.6 L1090.7 877.4 L1091.7 882.1 L1092.7 886.8 L1093.7 891.4 L1094.7 896 L1095.7 900.6 L1096.7 905.2 L1097.7 909.7 L1098.7 914.1 L1099.7 918.5 L1100.7 922.9 L1101.7 927.3 L1102.7 931.5 L1103.7 935.8 L1104.7 940 L1105.7 944.1 L1106.7 948.2 L1107.7 952.2 L1108.7 956.1 L1109.7 960.1 L1110.7 963.9 L1111.7 967.7 L1112.7 971.4 L1113.7 975.1 L1114.7 978.7 L1115.7 982.2 L1116.7 985.7 L1117.7 989.1 L1118.7 992.5 L1119.7 995.8 L1120.7 999 L1121.7 1002.2 L1122.7 1005.3 L1123.7 1008.3 L1124.7 1011.3 L1125.7 1014.2 L1126.7 1017 L1127.7 1019.8 L1128.7 1022.5 L1129.7 1025.2 L1130.7 1027.8 L1131.7 1030.3 L1132.7 1032.8 L1133.7 1035.2 L1134.7 1037.6 L1135.7 1039.8 L1136.7 1042.1 L1137.7 1044.2 L1138.7 1046.4 L1139.7 1048.4 L1140.7 1050.4 L1141.7 1052.3 L1142.7 1054.2 L1143.7 1056.1 L1144.7 1057.8 L1145.7 1059.6 L1146.7 1061.2 L1147.7 1062.9 L1148.7 1064.4 L1149.7 1066 L1150.7 1067.5 L1151.7 1068.9 L1152.7 1070.3 L1153.7 1071.6 L1154.7 1072.9 L1155.7 1074.2 L1156.7 1075.4 L1157.7 1076.5 L1158.7 1077.7 L1159.7 1078.8 L1160.7 1079.8 L1161.7 1080.8 L1162.7 1081.8 L1163.7 1082.8 L1164.7 1083.7 L1165.7 1084.5 L1166.7 1085.4 L1167.7 1086.2 L1168.7 1087 L1169.7 1087.7 L1170.7 1088.5 L1171.7 1089.1 L1172.7 1089.8 L1173.7 1090.5 L1174.7 1091.1 L1175.7 1091.7 L1176.7 1092.2 L1177.7 1092.8 L1178.7 1093.3 L1179.7 1093.8 L1180.7 1094.3 L1181.7 1094.7 L1182.7 1095.2 L1183.7 1095.6 L1184.7 1096 L1185.7 1096.4 L1186.7 1096.7 L1187.7 1097.1 L1188.7 1097.4 L1189.7 1097.7 L1190.7 1098 L1191.7 1098.3 L1192.7 1098.6 L1193.7 1098.9 L1194.7 1099.1 L1195.7 1099.3 L1196.7 1099.6 L1197.7 1099.8 L1198.7 1100 L1199.7 1100.2 L1200.7 1100.4 L1201.7 1100.6 L1202.7 1100.7 L1203.7 1100.9 L1204.7 1101 L1205.7 1101.2 L1206.7 1101.3 L1207.7 1101.4 L1208.7 1101.6 L1209.7 1101.7 L1210.7 1101.8 L1211.7 1101.9 L1212.7 1102 L1213.7 1102.1 L1214.7 1102.2 L1215.7 1102.3 L1216.7 1102.3 L1217.7 1102.4 L1218.7 1102.5 L1219.7 1102.6 L1220.7 1102.6 L1221.7 1102.7 L1222.7 1102.7 L1223.7 1102.8 L1224.7 1102.8 L1225.7 1102.9 L1226.7 1102.9 L1227.7 1103 L1228.7 1103 L1229.7 1103.1 L1230.7 1103.1 L1231.7 1103.1 L1232.7 1103.2 L1233.7 1103.2 L1234.7 1103.2 L1235.7 1103.2 L1236.7 1103.3 L1237.7 1103.3 L1238.7 1103.3 L1239.7 1103.3 L1240.7 1103.3 L1241.7 1103.4 L1242.7 1103.4 L1243.7 1103.4 L1244.7 1103.4 L1245.7 1103.4 L1246.7 1103.4 L1247.7 1103.4 L1248.7 1103.5 L1249.7 1103.5 L1250.7 1103.5 L1251.7 1103.5 L1252.7 1103.5 L1253.7 1103.5 L1254.7 1103.5 L1255.7 1103.5 L1256.7 1103.5 L1257.7 1103.5 L1258.7 1103.5 L1259.7 1103.5 L1260.7 1103.5 L1261.7 1103.5 L1262.7 1103.5 L1263.7 1103.6 L1264.7 1103.6 L1265.7 1103.6 L1266.7 1103.6 L1267.7 1103.6 L1268.7 1103.6 L1269.7 1103.6 L1270.7 1103.6 L1271.7 1103.6 L1272.7 1103.6 L1273.7 1103.6" fill="none" stroke="#333333" stroke-width="1.6"/>
<path d="M721.7 1103.5 L722.7 1103.5 L723.7 1103.5 L724.7 1103.5 L725.7 1103.5 L726.7 1103.5 L727.7 1103.5 L728.7 1103.5 L729.7 1103.5 L730.7 1103.5 L731.7 1103.5 L732.7 1103.5 L733.7 1103.5 L734.7 1103.5 L735.7 1103.5 L736.7 1103.5 L737.7 1103.5 L738.7 1103.5 L739.7 1103.5 L740.7 1103.5 L741.7 1103.5 L742.7 1103.5 L743.7 1103.5 L744.7 1103.5 L745.7 1103.5 L746.7 1103.5 L747.7 1103.5 L748.7 1103.5 L749.7 1103.5 L750.7 1103.5 L751.7 1103.5 L752.7 1103.5 L753.7 1103.5 L754.7 1103.5 L755.7 1103.5 L756.7 1103.5 L757.7 1103.5 L758.7 1103.5 L759.7 1103.5 L760.7 1103.5 L761.7 1103.5 L762.7 1103.5 L763.7 1103.5 L764.7 1103.5 L765.7 1103.5 L766.7 1103.5 L767.7 1103.5 L768.7 1103.5 L769.7 1103.5 L770.7 1103.5 L771.7 1103.5 L772.7 1103.5 L773.7 1103.5 L774.7 1103.5 L775.7 1103.5 L776.7 1103.5 L777.7 1103.5 L778.7 1103.5 L779.7 1103.5 L780.7 1103.5 L781.7 1103.5 L782.7 1103.5 L783.7 1103.5 L784.7 1103.5 L785.7 1103.5 L786.7 1103.5 L787.7 1103.5 L788.7 1103.5 L789.7 1103.5 L790.7 1103.5 L791.7 1103.5 L792.7 1103.5 L793.7 1103.5 L794.7 1103.5 L795.7 1103.5 L796.7 1103.5 L797.7 1103.5 L798.7 1103.5 L799.7 1103.5 L800.7 1103.5 L801.7 1103.5 L802.7 1103.5 L803.7 1103.5 L804.7 1103.5 L805.7 1103.5 L806.7 1103.5 L807.7 1103.5 L808.7 1103.5 L809.7 1103.5 L810.7 1103.5 L811.7 1103.5 L812.7 1103.5 L813.7 1103.5 L814.7 1103.5 L815.7 1103.5 L816.7 1103.5 L817.7 1103.5 L818.7 1103.5 L819.7 1103.5 L820.7 1103.5 L821.7 1103.5 L822.7 1103.5 L823.7 1103.5 L824.7 1103.5 L825.7 1103.5 L826.7 1103.5 L827.7 1103.5 L828.7 1103.5 L829.7 1103.5 L830.7 1103.5 L831.7 1103.5 L832.7 1103.5 L833.7 1103.5 L834.7 1103.5 L835.7 1103.5 L836.7 1103.5 L837.7 1103.5 L838.7 1103.5 L839.7 1103.5 L840.7 1103.5 L841.7 1103.5 L842.7 1103.5 L843.7 1103.5 L844.7 1103.5 L845.7 1103.5 L846.7 1103.5 L847.7 1103.5 L848.7 1103.5 L849.7 1103.5 L850.7 1103.5 L851.7 1103.5 L852.7 1103.5 L853.7 1103.5 L854.7 1103.5 L855.7 1103.5 L856.7 1103.5 L857.7 1103.5 L858.7 1103.5 L859.7 1103.5 L860.7 1103.5 L861.7 1103.5 L862.7 1103.5 L863.7 1103.5 L864.7 1103.5 L865.7 1103.5 L866.7 1103.5 L867.7 1103.5 L868.7 1103.5 L869.7 1103.5 L870.7 1103.5 L871.7 1103.5 L872.7 1103.5 L873.7 1103.5 L874.7 1103.5 L875.7 1103.5 L876.7 1103.5 L877.7 1103.4 L878.7 1103.4 L879.7 1103.4 L880.7 1103.4 L881.7 1103.4 L882.7 1103.4 L883.7 1103.4 L884.7 1103.4 L885.7 1103.4 L886.7 1103.4 L887.7 1103.4 L888.7 1103.4 L889.7 1103.4 L890.7 1103.4 L891.7 1103.4 L892.7 1103.4 L893.7 1103.4 L894.7 1103.4 L895.7 1103.4 L896.7 1103.4 L897.7 1103.4 L898.7 1103.4 L899.7 1103.4 L900.7 1103.4 L901.7 1103.4 L902.7 1103.4 L903.7 1103.4 L904.7 1103.3 L905.7 1103.3 L906.7 1103.3 L907.7 1103.3 L908.7 1103.3 L909.7 1103.3 L910.7 1103.3 L911.7 1103.3 L912.7 1103.3 L913.7 1103.3 L914.7 1103.2 L915.7 1103.2 L916.7 1103.2 L917.7 1103.2 L918.7 1103.2 L919.7 1103.2 L920.7 1103.2 L921.7 1103.1 L922.7 1103.1 L923.7 1103.1 L924.7 1103.1 L925.7 1103.1 L926.7 1103 L927.7 1103 L928.7 1103 L929.7 1103 L930.7 1103 L931.7 1102.9 L932.7 1102.9 L933.7 1102.9 L934.7 1102.8 L935.7 1102.8 L936.7 1102.8 L937.7 1102.7 L938.7 1102.7 L939.7 1102.6 L940.7 1102.6 L941.7 1102.6 L942.7 1102.5 L943.7 1102.5 L944.7 1102.4 L945.7 1102.3 L946.7 1102.3 L947.7 1102.2 L948.7 1102.2 L949.7 1102.1 L950.7 1102 L951.7 1102 L952.7 1101.9 L953.7 1101.8 L954.7 1101.7 L955.7 1101.6 L956.7 1101.5 L957.7 1101.4 L958.7 1101.4 L959.7 1101.2 L960.7 1101.1 L961.7 1101 L962.7 1100.9 L963.7 1100.8 L964.7 1100.7 L965.7 1100.5 L966.7 1100.4 L967.7 1100.3 L968.7 1100.1 L969.7 1100 L970.7 1099.8 L971.7 1099.6 L972.7 1099.5 L973.7 1099.3 L974.7 1099.1 L975.7 1098.9 L976.7 1098.7 L977.7 1098.5 L978.7 1098.3 L979.7 1098.1 L980.7 1097.8 L981.7 1097.6 L982.7 1097.3 L983.7 1097.1 L984.7 1096.8 L985.7 1096.5 L986.7 1096.3 L987.7 1096 L988.7 1095.7 L989.7 1095.4 L990.7 1095 L991.7 1094.7 L992.7 1094.4 L993.7 1094 L994.7 1093.6 L995.7 1093.3 L996.7 1092.9 L997.7 1092.5 L998.7 1092.1 L999.7 1091.7 L1000.7 1091.2 L1001.7 1090.8 L1002.7 1090.3 L1003.7 1089.9 L1004.7 1089.4 L1005.7 1088.9 L1006.7 1088.4 L1007.7 1087.9 L1008.7 1087.3 L1009.7 1086.8 L1010.7 1086.2 L1011.7 1085.6 L1012.7 1085.1 L1013.7 1084.5 L1014.7 1083.9 L1015.7 1083.2 L1016.7 1082.6 L1017.7 1081.9 L1018.7 1081.3 L1019.7 1080.6 L1020.7 1079.9 L1021.7 1079.2 L1022.7 1078.5 L1023.7 1077.7 L1024.7 1077 L1025.7 1076.2 L1026.7 1075.5 L1027.7 1074.7 L1028.7 1073.9 L1029.7 1073.1 L1030.7 1072.3 L1031.7 1071.4 L1032.7 1070.6 L1033.7 1069.7 L1034.7 1068.8 L1035.7 1068 L1036.7 1067.1 L1037.7 1066.2 L1038.7 1065.2 L1039.7 1064.3 L1040.7 1063.4 L1041.7 1062.4 L1042.7 1061.5 L1043.7 1060.5 L1044.7 1059.6 L1045.7 1058.6 L1046.7 1057.6 L1047.7 1056.6 L1048.7 1055.6 L1049.7 1054.6 L1050.7 1053.6 L1051.7 1052.6 L1052.7 1051.5 L1053.7 1050.5 L1054.7 1049.5 L1055.7 1048.5 L1056.7 1047.4 L1057.7 1046.4 L1058.7 1045.4 L1059.7 1044.3 L1060.7 1043.3 L1061.7 1042.3 L1062.7 1041.2 L1063.7 1040.2 L1064.7 1039.2 L1065.7 1038.2 L1066.7 1037.1 L1067.7 1036.1 L1068.7 1035.1 L1069.7 1034.1 L1070.7 1033.1 L1071.7 1032.2 L1072.7 1031.2 L1073.7 1030.2 L1074.7 1029.3 L1075.7 1028.3 L1076.7 1027.4 L1077.7 1026.5 L1078.7 1025.6 L1079.7 1024.7 L1080.7 1023.8 L1081.7 1023 L1082.7 1022.1 L1083.7 1021.3 L1084.7 1020.5 L1085.7 1019.7 L1086.7 1018.9 L1087.7 1018.2 L1088.7 1017.5 L1089.7 1016.7 L1090.7 1016.1 L1091.7 1015.4 L1092.7 1014.8 L1093.7 1014.2 L1094.7 1013.6 L1095.7 1013 L1096.7 1012.5 L1097.7 1011.9 L1098.7 1011.5 L1099.7 1011 L1100.7 1010.6 L1101.7 1010.2 L1102.7 1009.8 L1103.7 1009.4 L1104.7 1009.1 L1105.7 1008.8 L1106.7 1008.6 L1107.7 1008.4 L1108.7 1008.2 L1109.7 1008 L1110.7 1007.8 L1111.7 1007.7 L1112.7 1007.7 L1113.7 1007.6 L1114.7 1007.6 L1115.7 1007.6 L1116.7 1007.7 L1117.7 1007.7 L1118.7 1007.8 L1119.7 1008 L1120.7 1008.2 L1121.7 1008.4 L1122.7 1008.6 L1123.7 1008.8 L1124.7 1009.1 L1125.7 1009.4 L1126.7 1009.8 L1127.7 1010.2 L1128.7 1010.6 L1129.7 1011 L1130.7 1011.5 L1131.7 1011.9 L1132.7 1012.5 L1133.7 1013 L1134.7 1013.6 L1135.7 1014.2 L1136.7 1014.8 L1137.7 1015.4 L1138.7 1016.1 L1139.7 1016.7 L1140.7 1017.5 L1141.7 1018.2 L1142.7 1018.9 L1143.7 1019.7 L1144.7 1020.5 L1145.7 1021.3 L1146.7 1022.1 L1147.7 1023 L1148.7 1023.8 L1149.7 1024.7 L1150.7 1025.6 L1151.7 1026.5 L1152.7 1027.4 L1153.7 1028.3 L1154.7 1029.3 L1155.7 1030.2 L1156.7 1031.2 L1157.7 1032.2 L1158.7 1033.1 L1159.7 1034.1 L1160.7 1035.1 L1161.7 1036.1 L1162.7 1037.1 L1163.7 1038.2 L1164.7 1039.2 L1165.7 1040.2 L1166.7 1041.2 L1167.7 1042.3 L1168.7 1043.3 L1169.7 1044.3 L1170.7 1045.4 L1171.7 1046.4 L1172.7 1047.4 L1173.7 1048.5 L1174.7 1049.5 L1175.7 1050.5 L1176.7 1051.5 L1177.7 1052.6 L1178.7 1053.6 L1179.7 1054.6 L1180.7 1055.6 L1181.7 1056.6 L1182.7 1057.6 L1183.7 1058.6 L1184.7 1059.6 L1185.7 1060.5 L1186.7 1061.5 L1187.7 1062.4 L1188.7 1063.4 L1189.7 1064.3 L1190.7 1065.2 L1191.7 1066.2 L1192.7 1067.1 L1193.7 1068 L1194.7 1068.8 L1195.7 1069.7 L1196.7 1070.6 L1197.7 1071.4 L1198.7 1072.3 L1199.7 1073.1 L1200.7 1073.9 L1201.7 1074.7 L1202.7 1075.5 L1203.7 1076.2 L1204.7 1077 L1205.7 1077.7 L1206.7 1078.5 L1207.7 1079.2 L1208.7 1079.9 L1209.7 1080.6 L1210.7 1081.3 L1211.7 1081.9 L1212.7 1082.6 L1213.7 1083.2 L1214.7 1083.9 L1215.7 1084.5 L1216.7 1085.1 L1217.7 1085.6 L1218.7 1086.2 L1219.7 1086.8 L1220.7 1087.3 L1221.7 1087.9 L1222.7 1088.4 L1223.7 1088.9 L1224.7 1089.4 L1225.7 1089.9 L1226.7 1090.3 L1227.7 1090.8 L1228.7 1091.2 L1229.7 1091.7 L1230.7 1092.1 L1231.7 1092.5 L1232.7 1092.9 L1233.7 1093.3 L1234.7 1093.6 L1235.7 1094 L1236.7 1094.4 L1237.7 1094.7 L1238.7 1095 L1239.7 1095.4 L1240.7 1095.7 L1241.7 1096 L1242.7 1096.3 L1243.7 1096.5 L1244.7 1096.8 L1245.7 1097.1 L1246.7 1097.3 L1247.7 1097.6 L1248.7 1097.8 L1249.7 1098.1 L1250.7 1098.3 L1251.7 1098.5 L1252.7 1098.7 L1253.7 1098.9 L1254.7 1099.1 L1255.7 1099.3 L1256.7 1099.5 L1257.7 1099.6 L1258.7 1099.8 L1259.7 1100 L1260.7 1100.1 L1261.7 1100.3 L1262.7 1100.4 L1263.7 1100.5 L1264.7 1100.7 L1265.7 1100.8 L1266.7 1100.9 L1267.7 1101 L1268.7 1101.1 L1269.7 1101.2 L1270.7 1101.4 L1271.7 1101.4 L1272.7 1101.5 L1273.7 1101.6" fill="none" stroke="#333333" stroke-width="1.6"/>
<path d="M721.7 1103.6 L722.7 1103.6 L723.7 1103.6 L724.7 1103.6 L725.7 1103.6 L726.7 1103.6 L727.7 1103.6 L728.7 1103.6 L729.7 1103.6 L730.7 1103.6 L731.7 1103.6 L732.7 1103.6 L733.7 1103.6 L734.7 1103.6 L735.7 1103.6 L736.7 1103.6 L737.7 1103.6 L738.7 1103.6 L739.7 1103.6 L740.7 1103.6 L741.7 1103.6 L742.7 1103.6 L743.7 1103.6 L744.7 1103.6 L745.7 1103.6 L746.7 1103.6 L747.7 1103.6 L748.7 1103.6 L749.7 1103.5 L750.7 1103.5 L751.7 1103.5 L752.7 1103.5 L753.7 1103.5 L754.7 1103.5 L755.7 1103.5 L756.7 1103.5 L757.7 1103.5 L758.7 1103.5 L759.7 1103.5 L760.7 1103.5 L761.7 1103.5 L762.7 1103.5 L763.7 1103.4 L764.7 1103.4 L765.7 1103.4 L766.7 1103.4 L767.7 1103.4 L768.7 1103.4 L769.7 1103.3 L770.7 1103.3 L771.7 1103.3 L772.7 1103.3 L773.7 1103.3 L774.7 1103.2 L775.7 1103.2 L776.7 1103.2 L777.7 1103.1 L778.7 1103.1 L779.7 1103.1 L780.7 1103 L781.7 1103 L782.7 1102.9 L783.7 1102.9 L784.7 1102.8 L785.7 1102.8 L786.7 1102.7 L787.7 1102.7 L788.7 1102.6 L789.7 1102.5 L790.7 1102.4 L791.7 1102.4 L792.7 1102.3 L793.7 1102.2 L794.7 1102.1 L795.7 1102 L796.7 1101.9 L797.7 1101.8 L798.7 1101.7 L799.7 1101.5 L800.7 1101.4 L801.7 1101.3 L802.7 1101.1 L803.7 1100.9 L804.7 1100.8 L805.7 1100.6 L806.7 1100.4 L807.7 1100.2 L808.7 1100 L809.7 1099.8 L810.7 1099.6 L811.7 1099.4 L812.7 1099.1 L813.7 1098.9 L814.7 1098.6 L815.7 1098.3 L816.7 1098 L817.7 1097.7 L818.7 1097.4 L819.7 1097 L820.7 1096.7 L821.7 1096.3 L822.7 1095.9 L823.7 1095.5 L824.7 1095.1 L825.7 1094.7 L826.7 1094.2 L827.7 1093.7 L828.7 1093.2 L829.7 1092.7 L830.7 1092.2 L831.7 1091.6 L832.7 1091 L833.7 1090.5 L834.7 1089.8 L835.7 1089.2 L836.7 1088.5 L837.7 1087.8 L838.7 1087.1 L839.7 1086.4 L840.7 1085.6 L841.7 1084.9 L842.7 1084 L843.7 1083.2 L844.7 1082.3 L845.7 1081.5 L846.7 1080.6 L847.7 1079.6 L848.7 1078.7 L849.7 1077.7 L850.7 1076.7 L851.7 1075.6 L852.7 1074.5 L853.7 1073.4 L854.7 1072.3 L855.7 1071.2 L856.7 1070 L857.7 1068.8 L858.7 1067.6 L859.7 1066.3 L860.7 1065.1 L861.7 1063.7 L862.7 1062.4 L863.7 1061.1 L864.7 1059.7 L865.7 1058.3 L866.7 1056.9 L867.7 1055.5 L868.7 1054 L869.7 1052.5 L870.7 1051 L871.7 1049.5 L872.7 1048 L873.7 1046.4 L874.7 1044.9 L875.7 1043.3 L876.7 1041.7 L877.7 1040.1 L878.7 1038.5 L879.7 1036.8 L880.7 1035.2 L881.7 1033.6 L882.7 1031.9 L883.7 1030.3 L884.7 1028.6 L885.7 1027 L886.7 1025.3 L887.7 1023.7 L888.7 1022 L889.7 1020.4 L890.7 1018.8 L891.7 1017.1 L892.7 1015.5 L893.7 1013.9 L894.7 1012.4 L895.7 1010.8 L896.7 1009.2 L897.7 1007.7 L898.7 1006.2 L899.7 1004.7 L900.7 1003.3 L901.7 1001.8 L902.7 1000.4 L903.7 999.1 L904.7 997.7 L905.7 996.4 L906.7 995.1 L907.7 993.9 L908.7 992.7 L909.7 991.6 L910.7 990.4 L911.7 989.4 L912.7 988.3 L913.7 987.4 L914.7 986.4 L915.7 985.6 L916.7 984.7 L917.7 983.9 L918.7 983.2 L919.7 982.5 L920.7 981.9 L921.7 981.3 L922.7 980.8 L923.7 980.4 L924.7 980 L925.7 979.6 L926.7 979.3 L927.7 979.1 L928.7 979 L929.7 978.9 L930.7 978.8 L931.7 978.8 L932.7 978.9 L933.7 979 L934.7 979.2 L935.7 979.5 L936.7 979.8 L937.7 980.1 L938.7 980.5 L939.7 981 L940.7 981.6 L941.7 982.2 L942.7 982.8 L943.7 983.5 L944.7 984.2 L945.7 985 L946.7 985.9 L947.7 986.8 L948.7 987.8 L949.7 988.8 L950.7 989.8 L951.7 990.9 L952.7 992 L953.7 993.2 L954.7 994.4 L955.7 995.6 L956.7 996.9 L957.7 998.3 L958.7 999.6 L959.7 1001 L960.7 1002.4 L961.7 1003.8 L962.7 1005.3 L963.7 1006.8 L964.7 1008.3 L965.7 1009.9 L966.7 1011.4 L967.7 1013 L968.7 1014.6 L969.7 1016.2 L970.7 1017.8 L971.7 1019.4 L972.7 1021.1 L973.7 1022.7 L974.7 1024.3 L975.7 1026 L976.7 1027.6 L977.7 1029.3 L978.7 1030.9 L979.7 1032.6 L980.7 1034.2 L981.7 1035.9 L982.7 1037.5 L983.7 1039.1 L984.7 1040.7 L985.7 1042.3 L986.7 1043.9 L987.7 1045.5 L988.7 1047 L989.7 1048.6 L990.7 1050.1 L991.7 1051.6 L992.7 1053.1 L993.7 1054.6 L994.7 1056 L995.7 1057.5 L996.7 1058.9 L997.7 1060.3 L998.7 1061.6 L999.7 1063 L1000.7 1064.3 L1001.7 1065.6 L1002.7 1066.8 L1003.7 1068.1 L1004.7 1069.3 L1005.7 1070.5 L1006.7 1071.6 L1007.7 1072.8 L1008.7 1073.9 L1009.7 1075 L1010.7 1076 L1011.7 1077.1 L1012.7 1078.1 L1013.7 1079 L1014.7 1080 L1015.7 1080.9 L1016.7 1081.8 L1017.7 1082.7 L1018.7 1083.5 L1019.7 1084.4 L1020.7 1085.2 L1021.7 1085.9 L1022.7 1086.7 L1023.7 1087.4 L1024.7 1088.1 L1025.7 1088.8 L1026.7 1089.5 L1027.7 1090.1 L1028.7 1090.7 L1029.7 1091.3 L1030.7 1091.8 L1031.7 1092.4 L1032.7 1092.9 L1033.7 1093.4 L1034.7 1093.9 L1035.7 1094.4 L1036.7 1094.8 L1037.7 1095.3 L1038.7 1095.7 L1039.7 1096.1 L1040.7 1096.5 L1041.7 1096.8 L1042.7 1097.2 L1043.7 1097.5 L1044.7 1097.8 L1045.7 1098.1 L1046.7 1098.4 L1047.7 1098.7 L1048.7 1099 L1049.7 1099.2 L1050.7 1099.5 L1051.7 1099.7 L1052.7 1099.9 L1053.7 1100.1 L1054.7 1100.3 L1055.7 1100.5 L1056.7 1100.7 L1057.7 1100.9 L1058.7 1101 L1059.7 1101.2 L1060.7 1101.3 L1061.7 1101.4 L1062.7 1101.6 L1063.7 1101.7 L1064.7 1101.8 L1065.7 1101.9 L1066.7 1102 L1067.7 1102.1 L1068.7 1102.2 L1069.7 1102.3 L1070.7 1102.4 L1071.7 1102.5 L1072.7 1102.5 L1073.7 1102.6 L1074.7 1102.7 L1075.7 1102.7 L1076.7 1102.8 L1077.7 1102.9 L1078.7 1102.9 L1079.7 1102.9 L1080.7 1103 L1081.7 1103 L1082.7 1103.1 L1083.7 1103.1 L1084.7 1103.1 L1085.7 1103.2 L1086.7 1103.2 L1087.7 1103.2 L1088.7 1103.3 L1089.7 1103.3 L1090.7 1103.3 L1091.7 1103.3 L1092.7 1103.4 L1093.7 1103.4 L1094.7 1103.4 L1095.7 1103.4 L1096.7 1103.4 L1097.7 1103.4 L1098.7 1103.4 L1099.7 1103.5 L1100.7 1103.5 L1101.7 1103.5 L1102.7 1103.5 L1103.7 1103.5 L1104.7 1103.5 L1105.7 1103.5 L1106.7 1103.5 L1107.7 1103.5 L1108.7 1103.5 L1109.7 1103.5 L1110.7 1103.5 L1111.7 1103.5 L1112.7 1103.6 L1113.7 1103.6 L1114.7 1103.6 L1115.7 1103.6 L1116.7 1103.6 L1117.7 1103.6 L1118.7 1103.6 L1119.7 1103.6 L1120.7 1103.6 L1121.7 1103.6 L1122.7 1103.6 L1123.7 1103.6 L1124.7 1103.6 L1125.7 1103.6 L1126.7 1103.6 L1127.7 1103.6 L1128.7 1103.6 L1129.7 1103.6 L1130.7 1103.6 L1131.7 1103.6 L1132.7 1103.6 L1133.7 1103.6 L1134.7 1103.6 L1135.7 1103.6 L1136.7 1103.6 L1137.7 1103.6 L1138.7 1103.6 L1139.7 1103.6 L1140.7 1103.6 L1141.7 1103.6 L1142.7 1103.6 L1143.7 1103.6 L1144.7 1103.6 L1145.7 1103.6 L1146.7 1103.6 L1147.7 1103.6 L1148.7 1103.6 L1149.7 1103.6 L1150.7 1103.6 L1151.7 1103.6 L1152.7 1103.6 L1153.7 1103.6 L1154.7 1103.6 L1155.7 1103.6 L1156.7 1103.6 L1157.7 1103.6 L1158.7 1103.6 L1159.7 1103.6 L1160.7 1103.6 L1161.7 1103.6 L1162.7 1103.6 L1163.7 1103.6 L1164.7 1103.6 L1165.7 1103.6 L1166.7 1103.6 L1167.7 1103.6 L1168.7 1103.6 L1169.7 1103.6 L1170.7 1103.6 L1171.7 1103.6 L1172.7 1103.6 L1173.7 1103.6 L1174.7 1103.6 L1175.7 1103.6 L1176.7 1103.6 L1177.7 1103.6 L1178.7 1103.6 L1179.7 1103.6 L1180.7 1103.6 L1181.7 1103.6 L1182.7 1103.6 L1183.7 1103.6 L1184.7 1103.6 L1185.7 1103.6 L1186.7 1103.6 L1187.7 1103.6 L1188.7 1103.6 L1189.7 1103.6 L1190.7 1103.6 L1191.7 1103.6 L1192.7 1103.6 L1193.7 1103.6 L1194.7 1103.6 L1195.7 1103.6 L1196.7 1103.6 L1197.7 1103.6 L1198.7 1103.6 L1199.7 1103.6 L1200.7 1103.6 L1201.7 1103.6 L1202.7 1103.6 L1203.7 1103.6 L1204.7 1103.6 L1205.7 1103.6 L1206.7 1103.6 L1207.7 1103.6 L1208.7 1103.6 L1209.7 1103.6 L1210.7 1103.6 L1211.7 1103.6 L1212.7 1103.6 L1213.7 1103.6 L1214.7 1103.6 L1215.7 1103.6 L1216.7 1103.6 L1217.7 1103.6 L1218.7 1103.6 L1219.7 1103.6 L1220.7 1103.6 L1221.7 1103.6 L1222.7 1103.6 L1223.7 1103.6 L1224.7 1103.6 L1225.7 1103.6 L1226.7 1103.6 L1227.7 1103.6 L1228.7 1103.6 L1229.7 1103.6 L1230.7 1103.6 L1231.7 1103.6 L1232.7 1103.6 L1233.7 1103.6 L1234.7 1103.6 L1235.7 1103.6 L1236.7 1103.6 L1237.7 1103.6 L1238.7 1103.6 L1239.7 1103.6 L1240.7 1103.6 L1241.7 1103.6 L1242.7 1103.6 L1243.7 1103.6 L1244.7 1103.6 L1245.7 1103.6 L1246.7 1103.6 L1247.7 1103.6 L1248.7 1103.6 L1249.7 1103.6 L1250.7 1103.6 L1251.7 1103.6 L1252.7 1103.6 L1253.7 1103.6 L1254.7 1103.6 L1255.7 1103.6 L1256.7 1103.6 L1257.7 1103.6 L1258.7 1103.6 L1259.7 1103.6 L1260.7 1103.6 L1261.7 1103.6 L1262.7 1103.6 L1263.7 1103.6 L1264.7 1103.6 L1265.7 1103.6 L1266.7 1103.6 L1267.7 1103.6 L1268.7 1103.6 L1269.7 1103.6 L1270.7 1103.6 L1271.7 1103.6 L1272.7 1103.6 L1273.7 1103.6" fill="none" stroke="#333333" stroke-width="1.6"/>
<path d="M721.7 1103.5 L722.7 1103.5 L723.7 1103.5 L724.7 1103.5 L725.7 1103.5 L726.7 1103.5 L727.7 1103.5 L728.7 1103.5 L729.7 1103.5 L730.7 1103.5 L731.7 1103.5 L732.7 1103.5 L733.7 1103.5 L734.7 1103.5 L735.7 1103.5 L736.7 1103.5 L737.7 1103.5 L738.7 1103.5 L739.7 1103.5 L740.7 1103.5 L741.7 1103.5 L742.7 1103.5 L743.7 1103.5 L744.7 1103.5 L745.7 1103.5 L746.7 1103.5 L747.7 1103.5 L748.7 1103.5 L749.7 1103.5 L750.7 1103.5 L751.7 1103.5 L752.7 1103.5 L753.7 1103.5 L754.7 1103.5 L755.7 1103.5 L756.7 1103.5 L757.7 1103.5 L758.7 1103.5 L759.7 1103.5 L760.7 1103.5 L761.7 1103.5 L762.7 1103.5 L763.7 1103.5 L764.7 1103.5 L765.7 1103.5 L766.7 1103.5 L767.7 1103.4 L768.7 1103.4 L769.7 1103.4 L770.7 1103.4 L771.7 1103.4 L772.7 1103.4 L773.7 1103.4 L774.7 1103.4 L775.7 1103.4 L776.7 1103.3 L777.7 1103.3 L778.7 1103.3 L779.7 1103.3 L780.7 1103.3 L781.7 1103.3 L782.7 1103.2 L783.7 1103.2 L784.7 1103.2 L785.7 1103.1 L786.7 1103.1 L787.7 1103.1 L788.7 1103 L789.7 1103 L790.7 1102.9 L791.7 1102.9 L792.7 1102.8 L793.7 1102.7 L794.7 1102.7 L795.7 1102.6 L796.7 1102.5 L797.7 1102.4 L798.7 1102.3 L799.7 1102.2 L800.7 1102.1 L801.7 1102 L802.7 1101.9 L803.7 1101.7 L804.7 1101.6 L805.7 1101.4 L806.7 1101.3 L807.7 1101.1 L808.7 1100.9 L809.7 1100.7 L810.7 1100.5 L811.7 1100.3 L812.7 1100 L813.7 1099.8 L814.7 1099.5 L815.7 1099.2 L816.7 1098.9 L817.7 1098.6 L818.7 1098.2 L819.7 1097.9 L820.7 1097.5 L821.7 1097.1 L822.7 1096.7 L823.7 1096.3 L824.7 1095.8 L825.7 1095.3 L826.7 1094.8 L827.7 1094.3 L828.7 1093.7 L829.7 1093.2 L830.7 1092.6 L831.7 1091.9 L832.7 1091.3 L833.7 1090.6 L834.7 1089.9 L835.7 1089.2 L836.7 1088.4 L837.7 1087.6 L838.7 1086.8 L839.7 1085.9 L840.7 1085 L841.7 1084.1 L842.7 1083.2 L843.7 1082.2 L844.7 1081.2 L845.7 1080.1 L846.7 1079 L847.7 1077.9 L848.7 1076.8 L849.7 1075.6 L850.7 1074.4 L851.7 1073.1 L852.7 1071.8 L853.7 1070.5 L854.7 1069.1 L855.7 1067.7 L856.7 1066.3 L857.7 1064.8 L858.7 1063.3 L859.7 1061.7 L860.7 1060.2 L861.7 1058.5 L862.7 1056.9 L863.7 1055.2 L864.7 1053.4 L865.7 1051.6 L866.7 1049.8 L867.7 1048 L868.7 1046.1 L869.7 1044.1 L870.7 1042.2 L871.7 1040.1 L872.7 1038.1 L873.7 1036 L874.7 1033.9 L875.7 1031.7 L876.7 1029.5 L877.7 1027.3 L878.7 1025 L879.7 1022.7 L880.7 1020.4 L881.7 1018 L882.7 1015.6 L883.7 1013.1 L884.7 1010.7 L885.7 1008.1 L886.7 1005.6 L887.7 1003 L888.7 1000.4 L889.7 997.8 L890.7 995.1 L891.7 992.4 L892.7 989.6 L893.7 986.9 L894.7 984.1 L895.7 981.3 L896.7 978.4 L897.7 975.6 L898.7 972.7 L899.7 969.7 L900.7 966.8 L901.7 963.8 L902.7 960.8 L903.7 957.8 L904.7 954.8 L905.7 951.7 L906.7 948.7 L907.7 945.6 L908.7 942.4 L909.7 939.3 L910.7 936.1 L911.7 933 L912.7 929.8 L913.7 926.6 L914.7 923.4 L915.7 920.1 L916.7 916.9 L917.7 913.6 L918.7 910.4 L919.7 907.1 L920.7 903.8 L921.7 900.5 L922.7 897.2 L923.7 893.8 L924.7 890.5 L925.7 887.1 L926.7 883.8 L927.7 880.4 L928.7 877 L929.7 873.7 L930.7 870.3 L931.7 866.9 L932.7 863.5 L933.7 860.1 L934.7 856.7 L935.7 853.2 L936.7 849.8 L937.7 846.4 L938.7 843 L939.7 839.5 L940.7 836.1 L941.7 832.6 L942.7 829.2 L943.7 825.7 L944.7 822.3 L945.7 818.8 L946.7 815.3 L947.7 811.9 L948.7 808.4 L949.7 805 L950.7 801.5 L951.7 798 L952.7 794.6 L953.7 791.1 L954.7 787.6 L955.7 784.1 L956.7 780.7 L957.7 777.2 L958.7 773.7 L959.7 770.3 L960.7 766.8 L961.7 763.3 L962.7 759.9 L963.7 756.4 L964.7 753 L965.7 749.5 L966.7 746.1 L967.7 742.7 L968.7 739.3 L969.7 735.8 L970.7 732.4 L971.7 729 L972.7 725.7 L973.7 722.3 L974.7 718.9 L975.7 715.6 L976.7 712.3 L977.7 709 L978.7 705.7 L979.7 702.4 L980.7 699.2 L981.7 696 L982.7 692.8 L983.7 689.7 L984.7 686.5 L985.7 683.4 L986.7 680.4 L987.7 677.4 L988.7 674.4 L989.7 671.4 L990.7 668.5 L991.7 665.7 L992.7 662.9 L993.7 660.1 L994.7 657.4 L995.7 654.7 L996.7 652.1 L997.7 649.6 L998.7 647.1 L999.7 644.7 L1000.7 642.4 L1001.7 640.1 L1002.7 637.9 L1003.7 635.7 L1004.7 633.7 L1005.7 631.7 L1006.7 629.8 L1007.7 627.9 L1008.7 626.2 L1009.7 624.5 L1010.7 623 L1011.7 621.5 L1012.7 620.1 L1013.7 618.8 L1014.7 617.6 L1015.7 616.5 L1016.7 615.5 L1017.7 614.6 L1018.7 613.8 L1019.7 613.1 L1020.7 612.4 L1021.7 611.9 L1022.7 611.5 L1023.7 611.2 L1024.7 611.1 L1025.7 611 L1026.7 611 L1027.7 611.1 L1028.7 611.4 L1029.7 611.7 L1030.7 612.2 L1031.7 612.8 L1032.7 613.4 L1033.7 614.2 L1034.7 615.1 L1035.7 616.1 L1036.7 617.2 L1037.7 618.4 L1038.7 619.7 L1039.7 621.1 L1040.7 622.6 L1041.7 624.3 L1042.7 626 L1043.7 627.8 L1044.7 629.7 L1045.7 631.7 L1046.7 633.8 L1047.7 636 L1048.7 638.3 L1049.7 640.7 L1050.7 643.1 L1051.7 645.7 L1052.7 648.3 L1053.7 651 L1054.7 653.8 L1055.7 656.7 L1056.7 659.7 L1057.7 662.7 L1058.7 665.8 L1059.7 668.9 L1060.7 672.2 L1061.7 675.5 L1062.7 678.8 L1063.7 682.2 L1064.7 685.7 L1065.7 689.2 L1066.7 692.8 L1067.7 696.4 L1068.7 700 L1069.7 703.8 L1070.7 707.5 L1071.7 711.3 L1072.7 715.1 L1073.7 719 L1074.7 722.9 L1075.7 726.8 L1076.7 730.7 L1077.7 734.7 L1078.7 738.7 L1079.7 742.7 L1080.7 746.7 L1081.7 750.8 L1082.7 754.9 L1083.7 758.9 L1084.7 763 L1085.7 767.1 L1086.7 771.2 L1087.7 775.3 L1088.7 779.4 L1089.7 783.5 L1090.7 787.6 L1091.7 791.7 L1092.7 795.8 L1093.7 799.8 L1094.7 803.9 L1095.7 808 L1096.7 812 L1097.7 816.1 L1098.7 820.1 L1099.7 824.1 L1100.7 828.1 L1101.7 832.1 L1102.7 836 L1103.7 840 L1104.7 843.9 L1105.7 847.8 L1106.7 851.7 L1107.7 855.5 L1108.7 859.3 L1109.7 863.1 L1110.7 866.9 L1111.7 870.7 L1112.7 874.4 L1113.7 878.1 L1114.7 881.7 L1115.7 885.4 L1116.7 889 L1117.7 892.5 L1118.7 896.1 L1119.7 899.6 L1120.7 903.1 L1121.7 906.5 L1122.7 909.9 L1123.7 913.3 L1124.7 916.7 L1125.7 920 L1126.7 923.3 L1127.7 926.5 L1128.7 929.7 L1129.7 932.9 L1130.7 936 L1131.7 939.1 L1132.7 942.2 L1133.7 945.2 L1134.7 948.2 L1135.7 951.1 L1136.7 954 L1137.7 956.9 L1138.7 959.8 L1139.7 962.6 L1140.7 965.3 L1141.7 968.1 L1142.7 970.8 L1143.7 973.4 L1144.7 976 L1145.7 978.6 L1146.7 981.1 L1147.7 983.6 L1148.7 986.1 L1149.7 988.5 L1150.7 990.9 L1151.7 993.3 L1152.7 995.6 L1153.7 997.9 L1154.7 1000.1 L1155.7 1002.3 L1156.7 1004.5 L1157.7 1006.7 L1158.7 1008.8 L1159.7 1010.8 L1160.7 1012.9 L1161.7 1014.9 L1162.7 1016.8 L1163.7 1018.8 L1164.7 1020.7 L1165.7 1022.6 L1166.7 1024.4 L1167.7 1026.2 L1168.7 1028 L1169.7 1029.7 L1170.7 1031.4 L1171.7 1033.1 L1172.7 1034.8 L1173.7 1036.4 L1174.7 1038 L1175.7 1039.6 L1176.7 1041.1 L1177.7 1042.7 L1178.7 1044.1 L1179.7 1045.6 L1180.7 1047 L1181.7 1048.5 L1182.7 1049.8 L1183.7 1051.2 L1184.7 1052.5 L1185.7 1053.9 L1186.7 1055.1 L1187.7 1056.4 L1188.7 1057.6 L1189.7 1058.9 L1190.7 1060.1 L1191.7 1061.2 L1192.7 1062.4 L1193.7 1063.5 L1194.7 1064.6 L1195.7 1065.7 L1196.7 1066.8 L1197.7 1067.8 L1198.7 1068.8 L1199.7 1069.8 L1200.7 1070.8 L1201.7 1071.7 L1202.7 1072.7 L1203.7 1073.6 L1204.7 1074.5 L1205.7 1075.4 L1206.7 1076.2 L1207.7 1077.1 L1208.7 1077.9 L1209.7 1078.7 L1210.7 1079.5 L1211.7 1080.2 L1212.7 1081 L1213.7 1081.7 L1214.7 1082.4 L1215.7 1083.1 L1216.7 1083.8 L1217.7 1084.4 L1218.7 1085.1 L1219.7 1085.7 L1220.7 1086.3 L1221.7 1086.9 L1222.7 1087.5 L1223.7 1088 L1224.7 1088.6 L1225.7 1089.1 L1226.7 1089.6 L1227.7 1090.1 L1228.7 1090.6 L1229.7 1091.1 L1230.7 1091.5 L1231.7 1092 L1232.7 1092.4 L1233.7 1092.8 L1234.7 1093.2 L1235.7 1093.6 L1236.7 1094 L1237.7 1094.3 L1238.7 1094.7 L1239.7 1095 L1240.7 1095.4 L1241.7 1095.7 L1242.7 1096 L1243.7 1096.3 L1244.7 1096.6 L1245.7 1096.9 L1246.7 1097.1 L1247.7 1097.4 L1248.7 1097.7 L1249.7 1097.9 L1250.7 1098.1 L1251.7 1098.4 L1252.7 1098.6 L1253.7 1098.8 L1254.7 1099 L1255.7 1099.2 L1256.7 1099.4 L1257.7 1099.5 L1258.7 1099.7 L1259.7 1099.9 L1260.7 1100 L1261.7 1100.2 L1262.7 1100.3 L1263.7 1100.5 L1264.7 1100.6 L1265.7 1100.7 L1266.7 1100.9 L1267.7 1101 L1268.7 1101.1 L1269.7 1101.2 L1270.7 1101.3 L1271.7 1101.4 L1272.7 1101.5 L1273.7 1101.6" fill="none" stroke="#333333" stroke-width="1.7"/>
</g>
<path d="M721.7 1111.6 V593.7 H1273.8 V1108.6" fill="none" stroke="#666666" stroke-width="1.8"/>
<path d="M721.7 1103.6 H1273.8" fill="none" stroke="#3a3a3a" stroke-width="1.8"/>
<path d="M721.7 976.1 h15 M721.7 848.6 h15 M721.7 721.1 h15" stroke="#5a5a5a" stroke-width="1.9"/>
<path d="M800.6 1103.6 v5 M879.4 1103.6 v8 M958.2 1103.6 v5 M1037.1 1103.6 v8 M1116 1103.6 v5 M1194.8 1103.6 v8" stroke="#666666" stroke-width="1.6"/>
<g fill="#1e1e1e"><circle cx="741.4" cy="1102.2" r="6.2"/><circle cx="751.3" cy="1103" r="6.2"/><circle cx="780.8" cy="1103" r="6.2"/><circle cx="790.7" cy="1098.3" r="6.2"/><circle cx="800.5" cy="1101.4" r="6.2"/><circle cx="810.4" cy="1103" r="6.2"/><circle cx="820.3" cy="1099.1" r="6.2"/><circle cx="830.1" cy="1093.6" r="6.2"/><circle cx="840" cy="1085" r="6.2"/><circle cx="849.8" cy="1074.8" r="6.2"/><circle cx="859.7" cy="1066.2" r="6.2"/><circle cx="869.5" cy="1052.2" r="6.2"/><circle cx="879.4" cy="1041.2" r="6.2"/><circle cx="889.3" cy="1018.6" r="6.2"/><circle cx="899.1" cy="986.3" r="6.2"/><circle cx="909" cy="949.8" r="6.2"/><circle cx="918.8" cy="916.5" r="6.2"/><circle cx="928.7" cy="884.5" r="6.2"/><circle cx="938.5" cy="838.8" r="6.2"/><circle cx="948.4" cy="806.1" r="6.2"/><circle cx="958.2" cy="762.8" r="6.2"/><circle cx="968.1" cy="736.1" r="6.2"/><circle cx="978" cy="687.3" r="6.2"/><circle cx="987.8" cy="665.3" r="6.2"/><circle cx="997.7" cy="642.7" r="6.2"/><circle cx="1007.5" cy="631.2" r="6.2"/><circle cx="1017.4" cy="617" r="6.2"/><circle cx="1027.2" cy="624" r="6.2"/><circle cx="1037.1" cy="636.6" r="6.2"/><circle cx="1046.9" cy="645.6" r="6.2"/><circle cx="1056.8" cy="667.7" r="6.2"/><circle cx="1066.7" cy="689" r="6.2"/><circle cx="1076.5" cy="726.6" r="6.2"/><circle cx="1086.4" cy="768.9" r="6.2"/><circle cx="1096.2" cy="811" r="6.2"/><circle cx="1106.1" cy="838" r="6.2"/><circle cx="1115.9" cy="877.8" r="6.2"/><circle cx="1125.8" cy="916.6" r="6.2"/><circle cx="1135.7" cy="953.9" r="6.2"/><circle cx="1145.5" cy="984.5" r="6.2"/><circle cx="1155.4" cy="1004.2" r="6.2"/><circle cx="1165.2" cy="1022.7" r="6.2"/><circle cx="1175.1" cy="1042.5" r="6.2"/><circle cx="1184.9" cy="1061.5" r="6.2"/><circle cx="1194.8" cy="1065" r="6.2"/><circle cx="1204.6" cy="1068.5" r="6.2"/><circle cx="1214.5" cy="1074.4" r="6.2"/><circle cx="1224.4" cy="1085.5" r="6.2"/><circle cx="1234.2" cy="1092.5" r="6.2"/><circle cx="1244.1" cy="1093.1" r="6.2"/><circle cx="1253.9" cy="1096.1" r="6.2"/><circle cx="1263.8" cy="1098.4" r="6.2"/><circle cx="1273.6" cy="1100.7" r="6.2"/></g>
<text x="721.7" y="1153.1" font-size="31" fill="#262626" text-anchor="middle" textLength="48" lengthAdjust="spacingAndGlyphs">100</text>
<text x="879.4" y="1153.1" font-size="31" fill="#262626" text-anchor="middle" textLength="48" lengthAdjust="spacingAndGlyphs">102</text>
<text x="1037.1" y="1153.1" font-size="31" fill="#262626" text-anchor="middle" textLength="48" lengthAdjust="spacingAndGlyphs">104</text>
<text x="1194.8" y="1153.1" font-size="31" fill="#262626" text-anchor="middle" textLength="48" lengthAdjust="spacingAndGlyphs">106</text>
<text x="384" y="41.2" font-size="32" fill="#262626" textLength="242" lengthAdjust="spacing">a) 2% VTES, 10'</text>
<text x="1024.4" y="40.8" font-size="32" fill="#262626" textLength="243.5" lengthAdjust="spacing">b) 2% VTES, 30'</text>
<text x="110.6" y="639.8" font-size="32" fill="#262626" textLength="242" lengthAdjust="spacing">c) 5% VTES, 10'</text>
<text x="732.2" y="635.4" font-size="32" fill="#262626" textLength="243.5" lengthAdjust="spacing">d) 5% VTES, 30'</text>
<text x="102.8" y="34.8" font-size="33" font-weight="bold" fill="#1a1a1a" textLength="79" lengthAdjust="spacingAndGlyphs">Si 2p</text>
<text x="735.8" y="33.4" font-size="33" font-weight="bold" fill="#1a1a1a" textLength="79" lengthAdjust="spacingAndGlyphs">Si 2p</text>
<text x="545.3" y="634.3" font-size="33" font-weight="bold" fill="#1a1a1a" textLength="79" lengthAdjust="spacingAndGlyphs">Si 2p</text>
<text x="1183.8" y="635.8" font-size="33" font-weight="bold" fill="#1a1a1a" textLength="79" lengthAdjust="spacingAndGlyphs">Si 2p</text>
<text x="360" y="1215" font-size="33.5" fill="#262626" text-anchor="middle" textLength="280" lengthAdjust="spacingAndGlyphs">binding energy / eV</text>
<text x="998" y="1215" font-size="33.5" fill="#262626" text-anchor="middle" textLength="282" lengthAdjust="spacingAndGlyphs">binding energy / eV</text>
<text transform="translate(23.6 256.3) rotate(-90)" font-size="33.5" fill="#262626" text-anchor="middle" textLength="210" lengthAdjust="spacingAndGlyphs">intensity / a.u.</text>
<text transform="translate(23.6 850.3) rotate(-90)" font-size="33.5" fill="#262626" text-anchor="middle" textLength="206" lengthAdjust="spacingAndGlyphs">intensity / a.u.</text>
<path d="M225.7 270.6 L264.5 315.7" stroke="#333333" stroke-width="1.4"/>
<text x="199.3" y="260.2" font-size="30.5" fill="#262626" textLength="33" lengthAdjust="spacingAndGlyphs">S1</text>
<path d="M430.2 458.2 L460.6 435.5" stroke="#333333" stroke-width="1.4"/>
<text x="463.4" y="434.4" font-size="30.5" fill="#262626" textLength="33" lengthAdjust="spacingAndGlyphs">S2</text>
<path d="M860.2 280.4 L887.2 312.1" stroke="#333333" stroke-width="1.4"/>
<text x="832" y="277.5" font-size="30.5" fill="#262626" textLength="33" lengthAdjust="spacingAndGlyphs">S1</text>
<path d="M1062.5 440 L1092.5 401.2" stroke="#333333" stroke-width="1.4"/>
<text x="1092.5" y="391.3" font-size="30.5" fill="#262626" textLength="33" lengthAdjust="spacingAndGlyphs">S2</text>
<path d="M217.5 1047.5 L267.5 1070.6" stroke="#333333" stroke-width="1.4"/>
<text x="200.4" y="1043.3" font-size="30.5" fill="#262626" textLength="33" lengthAdjust="spacingAndGlyphs">S1</text>
<path d="M423.3 865 L463.2 835.5" stroke="#333333" stroke-width="1.4"/>
<text x="472" y="822.4" font-size="30.5" fill="#262626" textLength="33" lengthAdjust="spacingAndGlyphs">S2</text>
<path d="M511.1 1067.3 L549.2 1036.3" stroke="#333333" stroke-width="1.4"/>
<text x="544.5" y="1037.5" font-size="30.5" fill="#262626" textLength="33" lengthAdjust="spacingAndGlyphs">S3</text>
<path d="M879.4 1016.2 L907.5 1042.8" stroke="#333333" stroke-width="1.4"/>
<text x="863" y="1007.7" font-size="30.5" fill="#262626" textLength="33" lengthAdjust="spacingAndGlyphs">S1</text>
<path d="M1058 817.9 L1091.9 788.4" stroke="#333333" stroke-width="1.4"/>
<text x="1102.9" y="787" font-size="30.5" fill="#262626" textLength="33" lengthAdjust="spacingAndGlyphs">S2</text>
<path d="M1155.8 1077.3 L1186.8 1038.6" stroke="#333333" stroke-width="1.4"/>
<text x="1179.8" y="1029.3" font-size="30.5" fill="#262626" textLength="33" lengthAdjust="spacingAndGlyphs">S3</text>
</svg></div></body></html>
